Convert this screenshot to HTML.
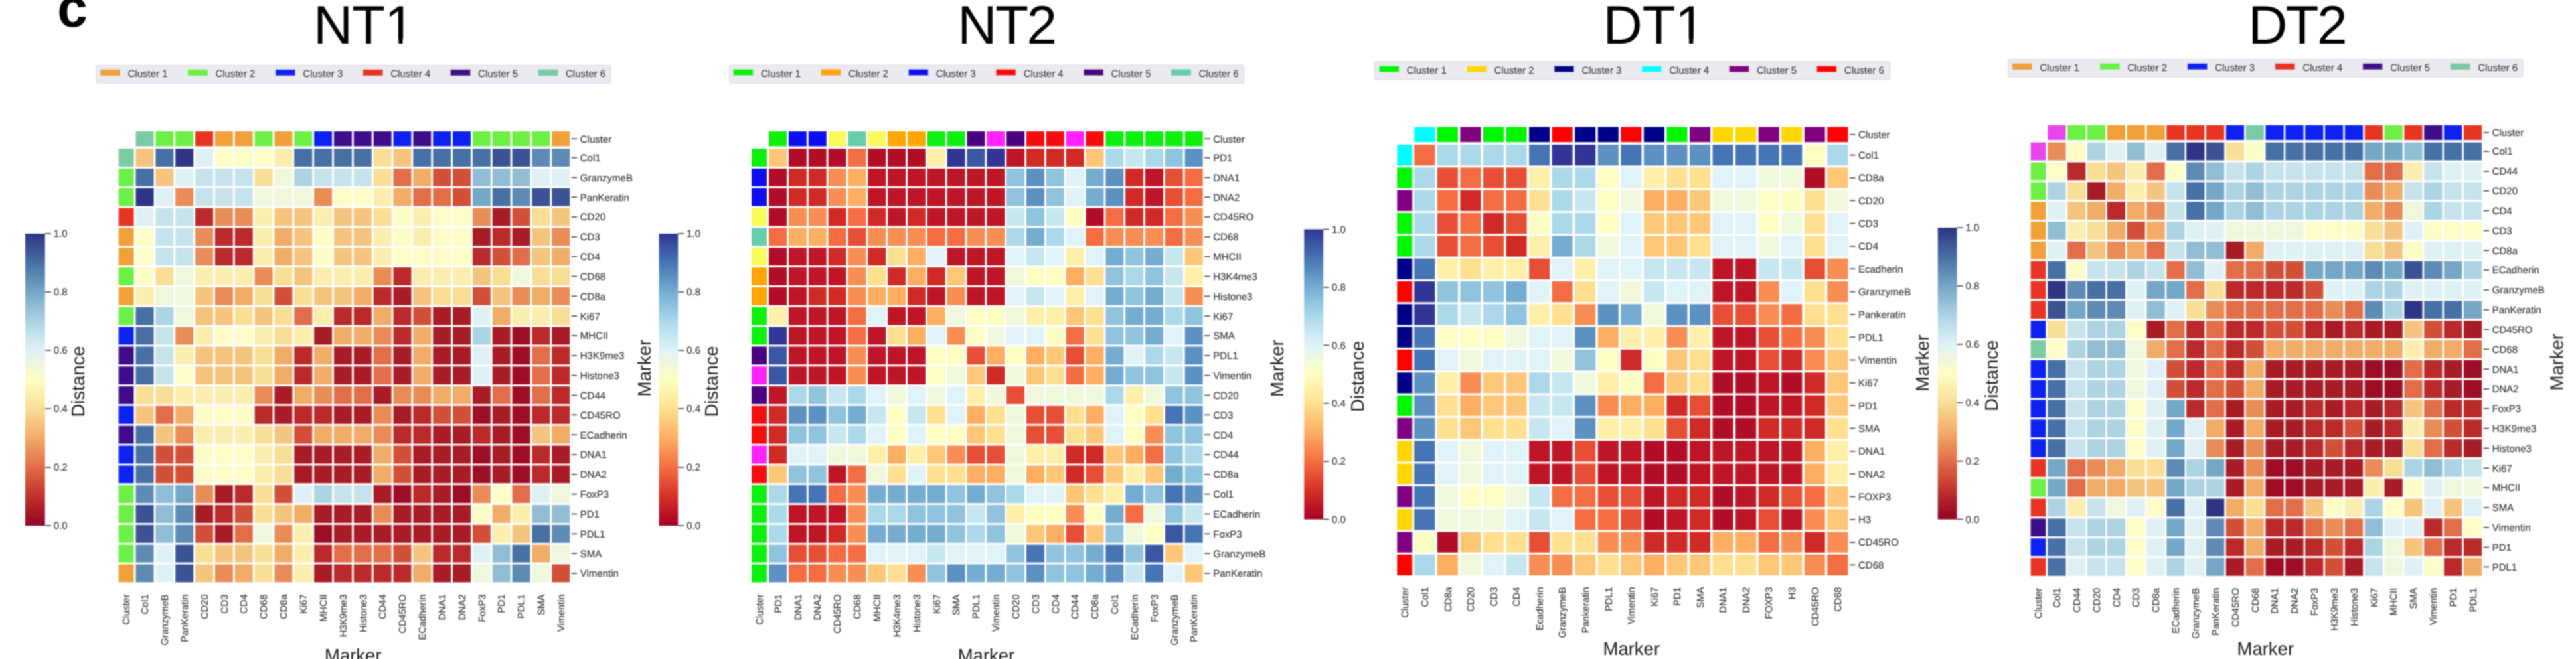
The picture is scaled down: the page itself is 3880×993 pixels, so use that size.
<!DOCTYPE html><html><head><meta charset="utf-8"><style>html,body{margin:0;padding:0;background:#fff;}svg{display:block;}text{text-rendering:geometricPrecision;}</style></head><body>
<svg width="3880" height="993" viewBox="0 0 3880 993" font-family="'Liberation Sans', Arial, Helvetica, sans-serif">
<defs><filter id="bl" x="0" y="0" width="3880" height="993" filterUnits="userSpaceOnUse"><feConvolveMatrix order="5" kernelMatrix="0.00087 0.00695 0.01388 0.00695 0.00087 0.00695 0.05540 0.11068 0.05540 0.00695 0.01388 0.11068 0.22111 0.11068 0.01388 0.00695 0.05540 0.11068 0.05540 0.00695 0.00087 0.00695 0.01388 0.00695 0.00087" divisor="1" edgeMode="duplicate"/></filter></defs>
<rect width="3880" height="993" fill="#fff"/>
<g filter="url(#bl)">
<text x="86.3" y="40.4" font-size="82" font-weight="bold" fill="#000">c</text>
<rect x="204.60" y="198.00" width="26.90" height="22.40" fill="#7ccaa4"/>
<rect x="234.44" y="198.00" width="26.90" height="22.40" fill="#6cf044"/>
<rect x="264.28" y="198.00" width="26.90" height="22.40" fill="#6cf044"/>
<rect x="294.12" y="198.00" width="26.90" height="22.40" fill="#e83424"/>
<rect x="323.96" y="198.00" width="26.90" height="22.40" fill="#f0a038"/>
<rect x="353.80" y="198.00" width="26.90" height="22.40" fill="#f0a038"/>
<rect x="383.64" y="198.00" width="26.90" height="22.40" fill="#6cf044"/>
<rect x="413.48" y="198.00" width="26.90" height="22.40" fill="#f0a038"/>
<rect x="443.32" y="198.00" width="26.90" height="22.40" fill="#6cf044"/>
<rect x="473.16" y="198.00" width="26.90" height="22.40" fill="#0a22f0"/>
<rect x="503.00" y="198.00" width="26.90" height="22.40" fill="#3e0e8a"/>
<rect x="532.84" y="198.00" width="26.90" height="22.40" fill="#3e0e8a"/>
<rect x="562.68" y="198.00" width="26.90" height="22.40" fill="#3e0e8a"/>
<rect x="592.52" y="198.00" width="26.90" height="22.40" fill="#0a22f0"/>
<rect x="622.36" y="198.00" width="26.90" height="22.40" fill="#3e0e8a"/>
<rect x="652.20" y="198.00" width="26.90" height="22.40" fill="#0a22f0"/>
<rect x="682.04" y="198.00" width="26.90" height="22.40" fill="#0a22f0"/>
<rect x="711.88" y="198.00" width="26.90" height="22.40" fill="#6cf044"/>
<rect x="741.72" y="198.00" width="26.90" height="22.40" fill="#6cf044"/>
<rect x="771.56" y="198.00" width="26.90" height="22.40" fill="#6cf044"/>
<rect x="801.40" y="198.00" width="26.90" height="22.40" fill="#6cf044"/>
<rect x="831.24" y="198.00" width="26.90" height="22.40" fill="#f0a038"/>
<rect x="178.50" y="224.10" width="23.00" height="26.90" fill="#7ccaa4"/>
<rect x="178.50" y="253.93" width="23.00" height="26.90" fill="#6cf044"/>
<rect x="178.50" y="283.76" width="23.00" height="26.90" fill="#6cf044"/>
<rect x="178.50" y="313.59" width="23.00" height="26.90" fill="#e83424"/>
<rect x="178.50" y="343.42" width="23.00" height="26.90" fill="#f0a038"/>
<rect x="178.50" y="373.25" width="23.00" height="26.90" fill="#f0a038"/>
<rect x="178.50" y="403.08" width="23.00" height="26.90" fill="#6cf044"/>
<rect x="178.50" y="432.91" width="23.00" height="26.90" fill="#f0a038"/>
<rect x="178.50" y="462.74" width="23.00" height="26.90" fill="#6cf044"/>
<rect x="178.50" y="492.57" width="23.00" height="26.90" fill="#0a22f0"/>
<rect x="178.50" y="522.40" width="23.00" height="26.90" fill="#3e0e8a"/>
<rect x="178.50" y="552.23" width="23.00" height="26.90" fill="#3e0e8a"/>
<rect x="178.50" y="582.06" width="23.00" height="26.90" fill="#3e0e8a"/>
<rect x="178.50" y="611.89" width="23.00" height="26.90" fill="#0a22f0"/>
<rect x="178.50" y="641.72" width="23.00" height="26.90" fill="#3e0e8a"/>
<rect x="178.50" y="671.55" width="23.00" height="26.90" fill="#0a22f0"/>
<rect x="178.50" y="701.38" width="23.00" height="26.90" fill="#0a22f0"/>
<rect x="178.50" y="731.21" width="23.00" height="26.90" fill="#6cf044"/>
<rect x="178.50" y="761.04" width="23.00" height="26.90" fill="#6cf044"/>
<rect x="178.50" y="790.87" width="23.00" height="26.90" fill="#6cf044"/>
<rect x="178.50" y="820.70" width="23.00" height="26.90" fill="#6cf044"/>
<rect x="178.50" y="850.53" width="23.00" height="26.90" fill="#f0a038"/>
<rect x="204.60" y="224.10" width="26.90" height="26.90" fill="#f5c57f"/>
<rect x="234.44" y="224.10" width="26.90" height="26.90" fill="#466fa5"/>
<rect x="264.28" y="224.10" width="26.90" height="26.90" fill="#2f3484"/>
<rect x="294.12" y="224.10" width="26.90" height="26.90" fill="#e0f1f6"/>
<rect x="323.96" y="224.10" width="26.90" height="26.90" fill="#fcfdc7"/>
<rect x="353.80" y="224.10" width="26.90" height="26.90" fill="#fcfdc7"/>
<rect x="383.64" y="224.10" width="26.90" height="26.90" fill="#fcfdc7"/>
<rect x="413.48" y="224.10" width="26.90" height="26.90" fill="#fbeeae"/>
<rect x="443.32" y="224.10" width="26.90" height="26.90" fill="#466fa5"/>
<rect x="473.16" y="224.10" width="26.90" height="26.90" fill="#466fa5"/>
<rect x="503.00" y="224.10" width="26.90" height="26.90" fill="#466fa5"/>
<rect x="532.84" y="224.10" width="26.90" height="26.90" fill="#466fa5"/>
<rect x="562.68" y="224.10" width="26.90" height="26.90" fill="#f9de96"/>
<rect x="592.52" y="224.10" width="26.90" height="26.90" fill="#f5c57f"/>
<rect x="622.36" y="224.10" width="26.90" height="26.90" fill="#466fa5"/>
<rect x="652.20" y="224.10" width="26.90" height="26.90" fill="#466fa5"/>
<rect x="682.04" y="224.10" width="26.90" height="26.90" fill="#466fa5"/>
<rect x="711.88" y="224.10" width="26.90" height="26.90" fill="#466fa5"/>
<rect x="741.72" y="224.10" width="26.90" height="26.90" fill="#3b5294"/>
<rect x="771.56" y="224.10" width="26.90" height="26.90" fill="#3b5294"/>
<rect x="801.40" y="224.10" width="26.90" height="26.90" fill="#5d8bb5"/>
<rect x="831.24" y="224.10" width="26.90" height="26.90" fill="#5d8bb5"/>
<rect x="204.60" y="253.93" width="26.90" height="26.90" fill="#466fa5"/>
<rect x="234.44" y="253.93" width="26.90" height="26.90" fill="#f5c57f"/>
<rect x="264.28" y="253.93" width="26.90" height="26.90" fill="#e0f1f6"/>
<rect x="294.12" y="253.93" width="26.90" height="26.90" fill="#c6e3ec"/>
<rect x="323.96" y="253.93" width="26.90" height="26.90" fill="#c6e3ec"/>
<rect x="353.80" y="253.93" width="26.90" height="26.90" fill="#c6e3ec"/>
<rect x="383.64" y="253.93" width="26.90" height="26.90" fill="#f9de96"/>
<rect x="413.48" y="253.93" width="26.90" height="26.90" fill="#eff7dd"/>
<rect x="443.32" y="253.93" width="26.90" height="26.90" fill="#acd4e3"/>
<rect x="473.16" y="253.93" width="26.90" height="26.90" fill="#c6e3ec"/>
<rect x="503.00" y="253.93" width="26.90" height="26.90" fill="#c6e3ec"/>
<rect x="532.84" y="253.93" width="26.90" height="26.90" fill="#c6e3ec"/>
<rect x="562.68" y="253.93" width="26.90" height="26.90" fill="#f9de96"/>
<rect x="592.52" y="253.93" width="26.90" height="26.90" fill="#e26d48"/>
<rect x="622.36" y="253.93" width="26.90" height="26.90" fill="#f1ac68"/>
<rect x="652.20" y="253.93" width="26.90" height="26.90" fill="#d25039"/>
<rect x="682.04" y="253.93" width="26.90" height="26.90" fill="#d25039"/>
<rect x="711.88" y="253.93" width="26.90" height="26.90" fill="#91bdd4"/>
<rect x="741.72" y="253.93" width="26.90" height="26.90" fill="#91bdd4"/>
<rect x="771.56" y="253.93" width="26.90" height="26.90" fill="#91bdd4"/>
<rect x="801.40" y="253.93" width="26.90" height="26.90" fill="#e0f1f6"/>
<rect x="831.24" y="253.93" width="26.90" height="26.90" fill="#e0f1f6"/>
<rect x="204.60" y="283.76" width="26.90" height="26.90" fill="#2f3484"/>
<rect x="234.44" y="283.76" width="26.90" height="26.90" fill="#e0f1f6"/>
<rect x="264.28" y="283.76" width="26.90" height="26.90" fill="#e98c58"/>
<rect x="294.12" y="283.76" width="26.90" height="26.90" fill="#c6e3ec"/>
<rect x="323.96" y="283.76" width="26.90" height="26.90" fill="#c6e3ec"/>
<rect x="353.80" y="283.76" width="26.90" height="26.90" fill="#c6e3ec"/>
<rect x="383.64" y="283.76" width="26.90" height="26.90" fill="#eff7dd"/>
<rect x="413.48" y="283.76" width="26.90" height="26.90" fill="#eff7dd"/>
<rect x="443.32" y="283.76" width="26.90" height="26.90" fill="#eff7dd"/>
<rect x="473.16" y="283.76" width="26.90" height="26.90" fill="#e98c58"/>
<rect x="503.00" y="283.76" width="26.90" height="26.90" fill="#fcfdc7"/>
<rect x="532.84" y="283.76" width="26.90" height="26.90" fill="#fcfdc7"/>
<rect x="562.68" y="283.76" width="26.90" height="26.90" fill="#fbeeae"/>
<rect x="592.52" y="283.76" width="26.90" height="26.90" fill="#f1ac68"/>
<rect x="622.36" y="283.76" width="26.90" height="26.90" fill="#e26d48"/>
<rect x="652.20" y="283.76" width="26.90" height="26.90" fill="#e26d48"/>
<rect x="682.04" y="283.76" width="26.90" height="26.90" fill="#d25039"/>
<rect x="711.88" y="283.76" width="26.90" height="26.90" fill="#75a7c6"/>
<rect x="741.72" y="283.76" width="26.90" height="26.90" fill="#466fa5"/>
<rect x="771.56" y="283.76" width="26.90" height="26.90" fill="#5d8bb5"/>
<rect x="801.40" y="283.76" width="26.90" height="26.90" fill="#3b5294"/>
<rect x="831.24" y="283.76" width="26.90" height="26.90" fill="#3b5294"/>
<rect x="204.60" y="313.59" width="26.90" height="26.90" fill="#e0f1f6"/>
<rect x="234.44" y="313.59" width="26.90" height="26.90" fill="#c6e3ec"/>
<rect x="264.28" y="313.59" width="26.90" height="26.90" fill="#c6e3ec"/>
<rect x="294.12" y="313.59" width="26.90" height="26.90" fill="#ba2c2a"/>
<rect x="323.96" y="313.59" width="26.90" height="26.90" fill="#e98c58"/>
<rect x="353.80" y="313.59" width="26.90" height="26.90" fill="#e98c58"/>
<rect x="383.64" y="313.59" width="26.90" height="26.90" fill="#fbeeae"/>
<rect x="413.48" y="313.59" width="26.90" height="26.90" fill="#f5c57f"/>
<rect x="443.32" y="313.59" width="26.90" height="26.90" fill="#f5c57f"/>
<rect x="473.16" y="313.59" width="26.90" height="26.90" fill="#fbeeae"/>
<rect x="503.00" y="313.59" width="26.90" height="26.90" fill="#f5c57f"/>
<rect x="532.84" y="313.59" width="26.90" height="26.90" fill="#f5c57f"/>
<rect x="562.68" y="313.59" width="26.90" height="26.90" fill="#f9de96"/>
<rect x="592.52" y="313.59" width="26.90" height="26.90" fill="#fcfdc7"/>
<rect x="622.36" y="313.59" width="26.90" height="26.90" fill="#fbeeae"/>
<rect x="652.20" y="313.59" width="26.90" height="26.90" fill="#fcfdc7"/>
<rect x="682.04" y="313.59" width="26.90" height="26.90" fill="#fcfdc7"/>
<rect x="711.88" y="313.59" width="26.90" height="26.90" fill="#e98c58"/>
<rect x="741.72" y="313.59" width="26.90" height="26.90" fill="#a81b27"/>
<rect x="771.56" y="313.59" width="26.90" height="26.90" fill="#d25039"/>
<rect x="801.40" y="313.59" width="26.90" height="26.90" fill="#f9de96"/>
<rect x="831.24" y="313.59" width="26.90" height="26.90" fill="#f5c57f"/>
<rect x="204.60" y="343.42" width="26.90" height="26.90" fill="#fcfdc7"/>
<rect x="234.44" y="343.42" width="26.90" height="26.90" fill="#c6e3ec"/>
<rect x="264.28" y="343.42" width="26.90" height="26.90" fill="#c6e3ec"/>
<rect x="294.12" y="343.42" width="26.90" height="26.90" fill="#e98c58"/>
<rect x="323.96" y="343.42" width="26.90" height="26.90" fill="#ba2c2a"/>
<rect x="353.80" y="343.42" width="26.90" height="26.90" fill="#ba2c2a"/>
<rect x="383.64" y="343.42" width="26.90" height="26.90" fill="#fbeeae"/>
<rect x="413.48" y="343.42" width="26.90" height="26.90" fill="#f1ac68"/>
<rect x="443.32" y="343.42" width="26.90" height="26.90" fill="#f5c57f"/>
<rect x="473.16" y="343.42" width="26.90" height="26.90" fill="#fcfdc7"/>
<rect x="503.00" y="343.42" width="26.90" height="26.90" fill="#f5c57f"/>
<rect x="532.84" y="343.42" width="26.90" height="26.90" fill="#f5c57f"/>
<rect x="562.68" y="343.42" width="26.90" height="26.90" fill="#fbeeae"/>
<rect x="592.52" y="343.42" width="26.90" height="26.90" fill="#fcfdc7"/>
<rect x="622.36" y="343.42" width="26.90" height="26.90" fill="#fbeeae"/>
<rect x="652.20" y="343.42" width="26.90" height="26.90" fill="#fcfdc7"/>
<rect x="682.04" y="343.42" width="26.90" height="26.90" fill="#fcfdc7"/>
<rect x="711.88" y="343.42" width="26.90" height="26.90" fill="#a81b27"/>
<rect x="741.72" y="343.42" width="26.90" height="26.90" fill="#ba2c2a"/>
<rect x="771.56" y="343.42" width="26.90" height="26.90" fill="#a81b27"/>
<rect x="801.40" y="343.42" width="26.90" height="26.90" fill="#f5c57f"/>
<rect x="831.24" y="343.42" width="26.90" height="26.90" fill="#e98c58"/>
<rect x="204.60" y="373.25" width="26.90" height="26.90" fill="#fcfdc7"/>
<rect x="234.44" y="373.25" width="26.90" height="26.90" fill="#c6e3ec"/>
<rect x="264.28" y="373.25" width="26.90" height="26.90" fill="#c6e3ec"/>
<rect x="294.12" y="373.25" width="26.90" height="26.90" fill="#e98c58"/>
<rect x="323.96" y="373.25" width="26.90" height="26.90" fill="#ba2c2a"/>
<rect x="353.80" y="373.25" width="26.90" height="26.90" fill="#ba2c2a"/>
<rect x="383.64" y="373.25" width="26.90" height="26.90" fill="#fbeeae"/>
<rect x="413.48" y="373.25" width="26.90" height="26.90" fill="#f1ac68"/>
<rect x="443.32" y="373.25" width="26.90" height="26.90" fill="#f5c57f"/>
<rect x="473.16" y="373.25" width="26.90" height="26.90" fill="#fcfdc7"/>
<rect x="503.00" y="373.25" width="26.90" height="26.90" fill="#f5c57f"/>
<rect x="532.84" y="373.25" width="26.90" height="26.90" fill="#f5c57f"/>
<rect x="562.68" y="373.25" width="26.90" height="26.90" fill="#fbeeae"/>
<rect x="592.52" y="373.25" width="26.90" height="26.90" fill="#fcfdc7"/>
<rect x="622.36" y="373.25" width="26.90" height="26.90" fill="#fcfdc7"/>
<rect x="652.20" y="373.25" width="26.90" height="26.90" fill="#fcfdc7"/>
<rect x="682.04" y="373.25" width="26.90" height="26.90" fill="#fcfdc7"/>
<rect x="711.88" y="373.25" width="26.90" height="26.90" fill="#ba2c2a"/>
<rect x="741.72" y="373.25" width="26.90" height="26.90" fill="#d25039"/>
<rect x="771.56" y="373.25" width="26.90" height="26.90" fill="#e26d48"/>
<rect x="801.40" y="373.25" width="26.90" height="26.90" fill="#f5c57f"/>
<rect x="831.24" y="373.25" width="26.90" height="26.90" fill="#f1ac68"/>
<rect x="204.60" y="403.08" width="26.90" height="26.90" fill="#fcfdc7"/>
<rect x="234.44" y="403.08" width="26.90" height="26.90" fill="#f9de96"/>
<rect x="264.28" y="403.08" width="26.90" height="26.90" fill="#eff7dd"/>
<rect x="294.12" y="403.08" width="26.90" height="26.90" fill="#fbeeae"/>
<rect x="323.96" y="403.08" width="26.90" height="26.90" fill="#fbeeae"/>
<rect x="353.80" y="403.08" width="26.90" height="26.90" fill="#fbeeae"/>
<rect x="383.64" y="403.08" width="26.90" height="26.90" fill="#e98c58"/>
<rect x="413.48" y="403.08" width="26.90" height="26.90" fill="#f9de96"/>
<rect x="443.32" y="403.08" width="26.90" height="26.90" fill="#f5c57f"/>
<rect x="473.16" y="403.08" width="26.90" height="26.90" fill="#fbeeae"/>
<rect x="503.00" y="403.08" width="26.90" height="26.90" fill="#fbeeae"/>
<rect x="532.84" y="403.08" width="26.90" height="26.90" fill="#fbeeae"/>
<rect x="562.68" y="403.08" width="26.90" height="26.90" fill="#e98c58"/>
<rect x="592.52" y="403.08" width="26.90" height="26.90" fill="#ba2c2a"/>
<rect x="622.36" y="403.08" width="26.90" height="26.90" fill="#fbeeae"/>
<rect x="652.20" y="403.08" width="26.90" height="26.90" fill="#fbeeae"/>
<rect x="682.04" y="403.08" width="26.90" height="26.90" fill="#fbeeae"/>
<rect x="711.88" y="403.08" width="26.90" height="26.90" fill="#f5c57f"/>
<rect x="741.72" y="403.08" width="26.90" height="26.90" fill="#f9de96"/>
<rect x="771.56" y="403.08" width="26.90" height="26.90" fill="#eff7dd"/>
<rect x="801.40" y="403.08" width="26.90" height="26.90" fill="#f9de96"/>
<rect x="831.24" y="403.08" width="26.90" height="26.90" fill="#f9de96"/>
<rect x="204.60" y="432.91" width="26.90" height="26.90" fill="#fbeeae"/>
<rect x="234.44" y="432.91" width="26.90" height="26.90" fill="#eff7dd"/>
<rect x="264.28" y="432.91" width="26.90" height="26.90" fill="#eff7dd"/>
<rect x="294.12" y="432.91" width="26.90" height="26.90" fill="#f5c57f"/>
<rect x="323.96" y="432.91" width="26.90" height="26.90" fill="#e98c58"/>
<rect x="353.80" y="432.91" width="26.90" height="26.90" fill="#f1ac68"/>
<rect x="383.64" y="432.91" width="26.90" height="26.90" fill="#f9de96"/>
<rect x="413.48" y="432.91" width="26.90" height="26.90" fill="#d25039"/>
<rect x="443.32" y="432.91" width="26.90" height="26.90" fill="#f9de96"/>
<rect x="473.16" y="432.91" width="26.90" height="26.90" fill="#f5c57f"/>
<rect x="503.00" y="432.91" width="26.90" height="26.90" fill="#f5c57f"/>
<rect x="532.84" y="432.91" width="26.90" height="26.90" fill="#f1ac68"/>
<rect x="562.68" y="432.91" width="26.90" height="26.90" fill="#ba2c2a"/>
<rect x="592.52" y="432.91" width="26.90" height="26.90" fill="#a81b27"/>
<rect x="622.36" y="432.91" width="26.90" height="26.90" fill="#f5c57f"/>
<rect x="652.20" y="432.91" width="26.90" height="26.90" fill="#f9de96"/>
<rect x="682.04" y="432.91" width="26.90" height="26.90" fill="#f9de96"/>
<rect x="711.88" y="432.91" width="26.90" height="26.90" fill="#d25039"/>
<rect x="741.72" y="432.91" width="26.90" height="26.90" fill="#f5c57f"/>
<rect x="771.56" y="432.91" width="26.90" height="26.90" fill="#e98c58"/>
<rect x="801.40" y="432.91" width="26.90" height="26.90" fill="#f1ac68"/>
<rect x="831.24" y="432.91" width="26.90" height="26.90" fill="#e98c58"/>
<rect x="204.60" y="462.74" width="26.90" height="26.90" fill="#466fa5"/>
<rect x="234.44" y="462.74" width="26.90" height="26.90" fill="#acd4e3"/>
<rect x="264.28" y="462.74" width="26.90" height="26.90" fill="#eff7dd"/>
<rect x="294.12" y="462.74" width="26.90" height="26.90" fill="#f5c57f"/>
<rect x="323.96" y="462.74" width="26.90" height="26.90" fill="#f5c57f"/>
<rect x="353.80" y="462.74" width="26.90" height="26.90" fill="#f9de96"/>
<rect x="383.64" y="462.74" width="26.90" height="26.90" fill="#f5c57f"/>
<rect x="413.48" y="462.74" width="26.90" height="26.90" fill="#f9de96"/>
<rect x="443.32" y="462.74" width="26.90" height="26.90" fill="#e26d48"/>
<rect x="473.16" y="462.74" width="26.90" height="26.90" fill="#fbeeae"/>
<rect x="503.00" y="462.74" width="26.90" height="26.90" fill="#ba2c2a"/>
<rect x="532.84" y="462.74" width="26.90" height="26.90" fill="#ba2c2a"/>
<rect x="562.68" y="462.74" width="26.90" height="26.90" fill="#f1ac68"/>
<rect x="592.52" y="462.74" width="26.90" height="26.90" fill="#ba2c2a"/>
<rect x="622.36" y="462.74" width="26.90" height="26.90" fill="#d25039"/>
<rect x="652.20" y="462.74" width="26.90" height="26.90" fill="#a81b27"/>
<rect x="682.04" y="462.74" width="26.90" height="26.90" fill="#a81b27"/>
<rect x="711.88" y="462.74" width="26.90" height="26.90" fill="#e0f1f6"/>
<rect x="741.72" y="462.74" width="26.90" height="26.90" fill="#f1ac68"/>
<rect x="771.56" y="462.74" width="26.90" height="26.90" fill="#fbeeae"/>
<rect x="801.40" y="462.74" width="26.90" height="26.90" fill="#fbeeae"/>
<rect x="831.24" y="462.74" width="26.90" height="26.90" fill="#f9de96"/>
<rect x="204.60" y="492.57" width="26.90" height="26.90" fill="#466fa5"/>
<rect x="234.44" y="492.57" width="26.90" height="26.90" fill="#c6e3ec"/>
<rect x="264.28" y="492.57" width="26.90" height="26.90" fill="#e98c58"/>
<rect x="294.12" y="492.57" width="26.90" height="26.90" fill="#fbeeae"/>
<rect x="323.96" y="492.57" width="26.90" height="26.90" fill="#fcfdc7"/>
<rect x="353.80" y="492.57" width="26.90" height="26.90" fill="#fcfdc7"/>
<rect x="383.64" y="492.57" width="26.90" height="26.90" fill="#fbeeae"/>
<rect x="413.48" y="492.57" width="26.90" height="26.90" fill="#f9de96"/>
<rect x="443.32" y="492.57" width="26.90" height="26.90" fill="#fbeeae"/>
<rect x="473.16" y="492.57" width="26.90" height="26.90" fill="#a81b27"/>
<rect x="503.00" y="492.57" width="26.90" height="26.90" fill="#f1ac68"/>
<rect x="532.84" y="492.57" width="26.90" height="26.90" fill="#f1ac68"/>
<rect x="562.68" y="492.57" width="26.90" height="26.90" fill="#e98c58"/>
<rect x="592.52" y="492.57" width="26.90" height="26.90" fill="#ba2c2a"/>
<rect x="622.36" y="492.57" width="26.90" height="26.90" fill="#f1ac68"/>
<rect x="652.20" y="492.57" width="26.90" height="26.90" fill="#a81b27"/>
<rect x="682.04" y="492.57" width="26.90" height="26.90" fill="#a81b27"/>
<rect x="711.88" y="492.57" width="26.90" height="26.90" fill="#acd4e3"/>
<rect x="741.72" y="492.57" width="26.90" height="26.90" fill="#a81b27"/>
<rect x="771.56" y="492.57" width="26.90" height="26.90" fill="#9d1026"/>
<rect x="801.40" y="492.57" width="26.90" height="26.90" fill="#ba2c2a"/>
<rect x="831.24" y="492.57" width="26.90" height="26.90" fill="#a81b27"/>
<rect x="204.60" y="522.40" width="26.90" height="26.90" fill="#466fa5"/>
<rect x="234.44" y="522.40" width="26.90" height="26.90" fill="#c6e3ec"/>
<rect x="264.28" y="522.40" width="26.90" height="26.90" fill="#fbeeae"/>
<rect x="294.12" y="522.40" width="26.90" height="26.90" fill="#f5c57f"/>
<rect x="323.96" y="522.40" width="26.90" height="26.90" fill="#f5c57f"/>
<rect x="353.80" y="522.40" width="26.90" height="26.90" fill="#f5c57f"/>
<rect x="383.64" y="522.40" width="26.90" height="26.90" fill="#f9de96"/>
<rect x="413.48" y="522.40" width="26.90" height="26.90" fill="#f1ac68"/>
<rect x="443.32" y="522.40" width="26.90" height="26.90" fill="#ba2c2a"/>
<rect x="473.16" y="522.40" width="26.90" height="26.90" fill="#f1ac68"/>
<rect x="503.00" y="522.40" width="26.90" height="26.90" fill="#a81b27"/>
<rect x="532.84" y="522.40" width="26.90" height="26.90" fill="#a81b27"/>
<rect x="562.68" y="522.40" width="26.90" height="26.90" fill="#e26d48"/>
<rect x="592.52" y="522.40" width="26.90" height="26.90" fill="#a81b27"/>
<rect x="622.36" y="522.40" width="26.90" height="26.90" fill="#f1ac68"/>
<rect x="652.20" y="522.40" width="26.90" height="26.90" fill="#a81b27"/>
<rect x="682.04" y="522.40" width="26.90" height="26.90" fill="#a81b27"/>
<rect x="711.88" y="522.40" width="26.90" height="26.90" fill="#e0f1f6"/>
<rect x="741.72" y="522.40" width="26.90" height="26.90" fill="#a81b27"/>
<rect x="771.56" y="522.40" width="26.90" height="26.90" fill="#9d1026"/>
<rect x="801.40" y="522.40" width="26.90" height="26.90" fill="#e26d48"/>
<rect x="831.24" y="522.40" width="26.90" height="26.90" fill="#ba2c2a"/>
<rect x="204.60" y="552.23" width="26.90" height="26.90" fill="#466fa5"/>
<rect x="234.44" y="552.23" width="26.90" height="26.90" fill="#c6e3ec"/>
<rect x="264.28" y="552.23" width="26.90" height="26.90" fill="#fcfdc7"/>
<rect x="294.12" y="552.23" width="26.90" height="26.90" fill="#f5c57f"/>
<rect x="323.96" y="552.23" width="26.90" height="26.90" fill="#f5c57f"/>
<rect x="353.80" y="552.23" width="26.90" height="26.90" fill="#f5c57f"/>
<rect x="383.64" y="552.23" width="26.90" height="26.90" fill="#f9de96"/>
<rect x="413.48" y="552.23" width="26.90" height="26.90" fill="#f1ac68"/>
<rect x="443.32" y="552.23" width="26.90" height="26.90" fill="#ba2c2a"/>
<rect x="473.16" y="552.23" width="26.90" height="26.90" fill="#f1ac68"/>
<rect x="503.00" y="552.23" width="26.90" height="26.90" fill="#a81b27"/>
<rect x="532.84" y="552.23" width="26.90" height="26.90" fill="#a81b27"/>
<rect x="562.68" y="552.23" width="26.90" height="26.90" fill="#e26d48"/>
<rect x="592.52" y="552.23" width="26.90" height="26.90" fill="#a81b27"/>
<rect x="622.36" y="552.23" width="26.90" height="26.90" fill="#f1ac68"/>
<rect x="652.20" y="552.23" width="26.90" height="26.90" fill="#a81b27"/>
<rect x="682.04" y="552.23" width="26.90" height="26.90" fill="#a81b27"/>
<rect x="711.88" y="552.23" width="26.90" height="26.90" fill="#e0f1f6"/>
<rect x="741.72" y="552.23" width="26.90" height="26.90" fill="#a81b27"/>
<rect x="771.56" y="552.23" width="26.90" height="26.90" fill="#9d1026"/>
<rect x="801.40" y="552.23" width="26.90" height="26.90" fill="#e26d48"/>
<rect x="831.24" y="552.23" width="26.90" height="26.90" fill="#ba2c2a"/>
<rect x="204.60" y="582.06" width="26.90" height="26.90" fill="#f9de96"/>
<rect x="234.44" y="582.06" width="26.90" height="26.90" fill="#f9de96"/>
<rect x="264.28" y="582.06" width="26.90" height="26.90" fill="#fbeeae"/>
<rect x="294.12" y="582.06" width="26.90" height="26.90" fill="#fbeeae"/>
<rect x="323.96" y="582.06" width="26.90" height="26.90" fill="#fbeeae"/>
<rect x="353.80" y="582.06" width="26.90" height="26.90" fill="#fbeeae"/>
<rect x="383.64" y="582.06" width="26.90" height="26.90" fill="#e98c58"/>
<rect x="413.48" y="582.06" width="26.90" height="26.90" fill="#a81b27"/>
<rect x="443.32" y="582.06" width="26.90" height="26.90" fill="#f1ac68"/>
<rect x="473.16" y="582.06" width="26.90" height="26.90" fill="#e98c58"/>
<rect x="503.00" y="582.06" width="26.90" height="26.90" fill="#e26d48"/>
<rect x="532.84" y="582.06" width="26.90" height="26.90" fill="#e26d48"/>
<rect x="562.68" y="582.06" width="26.90" height="26.90" fill="#a81b27"/>
<rect x="592.52" y="582.06" width="26.90" height="26.90" fill="#e98c58"/>
<rect x="622.36" y="582.06" width="26.90" height="26.90" fill="#e98c58"/>
<rect x="652.20" y="582.06" width="26.90" height="26.90" fill="#f1ac68"/>
<rect x="682.04" y="582.06" width="26.90" height="26.90" fill="#f1ac68"/>
<rect x="711.88" y="582.06" width="26.90" height="26.90" fill="#a81b27"/>
<rect x="741.72" y="582.06" width="26.90" height="26.90" fill="#e26d48"/>
<rect x="771.56" y="582.06" width="26.90" height="26.90" fill="#9d1026"/>
<rect x="801.40" y="582.06" width="26.90" height="26.90" fill="#e26d48"/>
<rect x="831.24" y="582.06" width="26.90" height="26.90" fill="#ba2c2a"/>
<rect x="204.60" y="611.89" width="26.90" height="26.90" fill="#f5c57f"/>
<rect x="234.44" y="611.89" width="26.90" height="26.90" fill="#e26d48"/>
<rect x="264.28" y="611.89" width="26.90" height="26.90" fill="#f1ac68"/>
<rect x="294.12" y="611.89" width="26.90" height="26.90" fill="#fcfdc7"/>
<rect x="323.96" y="611.89" width="26.90" height="26.90" fill="#fcfdc7"/>
<rect x="353.80" y="611.89" width="26.90" height="26.90" fill="#fcfdc7"/>
<rect x="383.64" y="611.89" width="26.90" height="26.90" fill="#ba2c2a"/>
<rect x="413.48" y="611.89" width="26.90" height="26.90" fill="#a81b27"/>
<rect x="443.32" y="611.89" width="26.90" height="26.90" fill="#ba2c2a"/>
<rect x="473.16" y="611.89" width="26.90" height="26.90" fill="#ba2c2a"/>
<rect x="503.00" y="611.89" width="26.90" height="26.90" fill="#a81b27"/>
<rect x="532.84" y="611.89" width="26.90" height="26.90" fill="#a81b27"/>
<rect x="562.68" y="611.89" width="26.90" height="26.90" fill="#e98c58"/>
<rect x="592.52" y="611.89" width="26.90" height="26.90" fill="#a81b27"/>
<rect x="622.36" y="611.89" width="26.90" height="26.90" fill="#ba2c2a"/>
<rect x="652.20" y="611.89" width="26.90" height="26.90" fill="#d25039"/>
<rect x="682.04" y="611.89" width="26.90" height="26.90" fill="#d25039"/>
<rect x="711.88" y="611.89" width="26.90" height="26.90" fill="#9d1026"/>
<rect x="741.72" y="611.89" width="26.90" height="26.90" fill="#a81b27"/>
<rect x="771.56" y="611.89" width="26.90" height="26.90" fill="#9d1026"/>
<rect x="801.40" y="611.89" width="26.90" height="26.90" fill="#ba2c2a"/>
<rect x="831.24" y="611.89" width="26.90" height="26.90" fill="#ba2c2a"/>
<rect x="204.60" y="641.72" width="26.90" height="26.90" fill="#466fa5"/>
<rect x="234.44" y="641.72" width="26.90" height="26.90" fill="#f5c57f"/>
<rect x="264.28" y="641.72" width="26.90" height="26.90" fill="#e98c58"/>
<rect x="294.12" y="641.72" width="26.90" height="26.90" fill="#fbeeae"/>
<rect x="323.96" y="641.72" width="26.90" height="26.90" fill="#fbeeae"/>
<rect x="353.80" y="641.72" width="26.90" height="26.90" fill="#fbeeae"/>
<rect x="383.64" y="641.72" width="26.90" height="26.90" fill="#f9de96"/>
<rect x="413.48" y="641.72" width="26.90" height="26.90" fill="#f5c57f"/>
<rect x="443.32" y="641.72" width="26.90" height="26.90" fill="#d25039"/>
<rect x="473.16" y="641.72" width="26.90" height="26.90" fill="#f1ac68"/>
<rect x="503.00" y="641.72" width="26.90" height="26.90" fill="#f1ac68"/>
<rect x="532.84" y="641.72" width="26.90" height="26.90" fill="#f1ac68"/>
<rect x="562.68" y="641.72" width="26.90" height="26.90" fill="#e98c58"/>
<rect x="592.52" y="641.72" width="26.90" height="26.90" fill="#ba2c2a"/>
<rect x="622.36" y="641.72" width="26.90" height="26.90" fill="#ba2c2a"/>
<rect x="652.20" y="641.72" width="26.90" height="26.90" fill="#a81b27"/>
<rect x="682.04" y="641.72" width="26.90" height="26.90" fill="#a81b27"/>
<rect x="711.88" y="641.72" width="26.90" height="26.90" fill="#ba2c2a"/>
<rect x="741.72" y="641.72" width="26.90" height="26.90" fill="#a81b27"/>
<rect x="771.56" y="641.72" width="26.90" height="26.90" fill="#9d1026"/>
<rect x="801.40" y="641.72" width="26.90" height="26.90" fill="#f5c57f"/>
<rect x="831.24" y="641.72" width="26.90" height="26.90" fill="#f1ac68"/>
<rect x="204.60" y="671.55" width="26.90" height="26.90" fill="#466fa5"/>
<rect x="234.44" y="671.55" width="26.90" height="26.90" fill="#d25039"/>
<rect x="264.28" y="671.55" width="26.90" height="26.90" fill="#d25039"/>
<rect x="294.12" y="671.55" width="26.90" height="26.90" fill="#fcfdc7"/>
<rect x="323.96" y="671.55" width="26.90" height="26.90" fill="#fcfdc7"/>
<rect x="353.80" y="671.55" width="26.90" height="26.90" fill="#fcfdc7"/>
<rect x="383.64" y="671.55" width="26.90" height="26.90" fill="#fbeeae"/>
<rect x="413.48" y="671.55" width="26.90" height="26.90" fill="#f9de96"/>
<rect x="443.32" y="671.55" width="26.90" height="26.90" fill="#a81b27"/>
<rect x="473.16" y="671.55" width="26.90" height="26.90" fill="#a81b27"/>
<rect x="503.00" y="671.55" width="26.90" height="26.90" fill="#a81b27"/>
<rect x="532.84" y="671.55" width="26.90" height="26.90" fill="#a81b27"/>
<rect x="562.68" y="671.55" width="26.90" height="26.90" fill="#f1ac68"/>
<rect x="592.52" y="671.55" width="26.90" height="26.90" fill="#d25039"/>
<rect x="622.36" y="671.55" width="26.90" height="26.90" fill="#a81b27"/>
<rect x="652.20" y="671.55" width="26.90" height="26.90" fill="#a81b27"/>
<rect x="682.04" y="671.55" width="26.90" height="26.90" fill="#a81b27"/>
<rect x="711.88" y="671.55" width="26.90" height="26.90" fill="#9d1026"/>
<rect x="741.72" y="671.55" width="26.90" height="26.90" fill="#a81b27"/>
<rect x="771.56" y="671.55" width="26.90" height="26.90" fill="#9d1026"/>
<rect x="801.40" y="671.55" width="26.90" height="26.90" fill="#ba2c2a"/>
<rect x="831.24" y="671.55" width="26.90" height="26.90" fill="#a81b27"/>
<rect x="204.60" y="701.38" width="26.90" height="26.90" fill="#466fa5"/>
<rect x="234.44" y="701.38" width="26.90" height="26.90" fill="#d25039"/>
<rect x="264.28" y="701.38" width="26.90" height="26.90" fill="#d25039"/>
<rect x="294.12" y="701.38" width="26.90" height="26.90" fill="#fcfdc7"/>
<rect x="323.96" y="701.38" width="26.90" height="26.90" fill="#fcfdc7"/>
<rect x="353.80" y="701.38" width="26.90" height="26.90" fill="#fcfdc7"/>
<rect x="383.64" y="701.38" width="26.90" height="26.90" fill="#fbeeae"/>
<rect x="413.48" y="701.38" width="26.90" height="26.90" fill="#f9de96"/>
<rect x="443.32" y="701.38" width="26.90" height="26.90" fill="#a81b27"/>
<rect x="473.16" y="701.38" width="26.90" height="26.90" fill="#a81b27"/>
<rect x="503.00" y="701.38" width="26.90" height="26.90" fill="#a81b27"/>
<rect x="532.84" y="701.38" width="26.90" height="26.90" fill="#a81b27"/>
<rect x="562.68" y="701.38" width="26.90" height="26.90" fill="#f1ac68"/>
<rect x="592.52" y="701.38" width="26.90" height="26.90" fill="#d25039"/>
<rect x="622.36" y="701.38" width="26.90" height="26.90" fill="#a81b27"/>
<rect x="652.20" y="701.38" width="26.90" height="26.90" fill="#a81b27"/>
<rect x="682.04" y="701.38" width="26.90" height="26.90" fill="#a81b27"/>
<rect x="711.88" y="701.38" width="26.90" height="26.90" fill="#9d1026"/>
<rect x="741.72" y="701.38" width="26.90" height="26.90" fill="#a81b27"/>
<rect x="771.56" y="701.38" width="26.90" height="26.90" fill="#9d1026"/>
<rect x="801.40" y="701.38" width="26.90" height="26.90" fill="#ba2c2a"/>
<rect x="831.24" y="701.38" width="26.90" height="26.90" fill="#a81b27"/>
<rect x="204.60" y="731.21" width="26.90" height="26.90" fill="#5d8bb5"/>
<rect x="234.44" y="731.21" width="26.90" height="26.90" fill="#91bdd4"/>
<rect x="264.28" y="731.21" width="26.90" height="26.90" fill="#75a7c6"/>
<rect x="294.12" y="731.21" width="26.90" height="26.90" fill="#e98c58"/>
<rect x="323.96" y="731.21" width="26.90" height="26.90" fill="#a81b27"/>
<rect x="353.80" y="731.21" width="26.90" height="26.90" fill="#ba2c2a"/>
<rect x="383.64" y="731.21" width="26.90" height="26.90" fill="#f9de96"/>
<rect x="413.48" y="731.21" width="26.90" height="26.90" fill="#d25039"/>
<rect x="443.32" y="731.21" width="26.90" height="26.90" fill="#e0f1f6"/>
<rect x="473.16" y="731.21" width="26.90" height="26.90" fill="#acd4e3"/>
<rect x="503.00" y="731.21" width="26.90" height="26.90" fill="#c6e3ec"/>
<rect x="532.84" y="731.21" width="26.90" height="26.90" fill="#c6e3ec"/>
<rect x="562.68" y="731.21" width="26.90" height="26.90" fill="#a81b27"/>
<rect x="592.52" y="731.21" width="26.90" height="26.90" fill="#9d1026"/>
<rect x="622.36" y="731.21" width="26.90" height="26.90" fill="#ba2c2a"/>
<rect x="652.20" y="731.21" width="26.90" height="26.90" fill="#a81b27"/>
<rect x="682.04" y="731.21" width="26.90" height="26.90" fill="#9d1026"/>
<rect x="711.88" y="731.21" width="26.90" height="26.90" fill="#e98c58"/>
<rect x="741.72" y="731.21" width="26.90" height="26.90" fill="#fcfdc7"/>
<rect x="771.56" y="731.21" width="26.90" height="26.90" fill="#e26d48"/>
<rect x="801.40" y="731.21" width="26.90" height="26.90" fill="#e0f1f6"/>
<rect x="831.24" y="731.21" width="26.90" height="26.90" fill="#eff7dd"/>
<rect x="204.60" y="761.04" width="26.90" height="26.90" fill="#3b5294"/>
<rect x="234.44" y="761.04" width="26.90" height="26.90" fill="#91bdd4"/>
<rect x="264.28" y="761.04" width="26.90" height="26.90" fill="#5d8bb5"/>
<rect x="294.12" y="761.04" width="26.90" height="26.90" fill="#a81b27"/>
<rect x="323.96" y="761.04" width="26.90" height="26.90" fill="#ba2c2a"/>
<rect x="353.80" y="761.04" width="26.90" height="26.90" fill="#d25039"/>
<rect x="383.64" y="761.04" width="26.90" height="26.90" fill="#f9de96"/>
<rect x="413.48" y="761.04" width="26.90" height="26.90" fill="#f5c57f"/>
<rect x="443.32" y="761.04" width="26.90" height="26.90" fill="#f1ac68"/>
<rect x="473.16" y="761.04" width="26.90" height="26.90" fill="#a81b27"/>
<rect x="503.00" y="761.04" width="26.90" height="26.90" fill="#a81b27"/>
<rect x="532.84" y="761.04" width="26.90" height="26.90" fill="#a81b27"/>
<rect x="562.68" y="761.04" width="26.90" height="26.90" fill="#e98c58"/>
<rect x="592.52" y="761.04" width="26.90" height="26.90" fill="#a81b27"/>
<rect x="622.36" y="761.04" width="26.90" height="26.90" fill="#a81b27"/>
<rect x="652.20" y="761.04" width="26.90" height="26.90" fill="#a81b27"/>
<rect x="682.04" y="761.04" width="26.90" height="26.90" fill="#a81b27"/>
<rect x="711.88" y="761.04" width="26.90" height="26.90" fill="#fcfdc7"/>
<rect x="741.72" y="761.04" width="26.90" height="26.90" fill="#f1ac68"/>
<rect x="771.56" y="761.04" width="26.90" height="26.90" fill="#fbeeae"/>
<rect x="801.40" y="761.04" width="26.90" height="26.90" fill="#91bdd4"/>
<rect x="831.24" y="761.04" width="26.90" height="26.90" fill="#91bdd4"/>
<rect x="204.60" y="790.87" width="26.90" height="26.90" fill="#3b5294"/>
<rect x="234.44" y="790.87" width="26.90" height="26.90" fill="#91bdd4"/>
<rect x="264.28" y="790.87" width="26.90" height="26.90" fill="#5d8bb5"/>
<rect x="294.12" y="790.87" width="26.90" height="26.90" fill="#d25039"/>
<rect x="323.96" y="790.87" width="26.90" height="26.90" fill="#a81b27"/>
<rect x="353.80" y="790.87" width="26.90" height="26.90" fill="#e26d48"/>
<rect x="383.64" y="790.87" width="26.90" height="26.90" fill="#eff7dd"/>
<rect x="413.48" y="790.87" width="26.90" height="26.90" fill="#e98c58"/>
<rect x="443.32" y="790.87" width="26.90" height="26.90" fill="#fbeeae"/>
<rect x="473.16" y="790.87" width="26.90" height="26.90" fill="#9d1026"/>
<rect x="503.00" y="790.87" width="26.90" height="26.90" fill="#a81b27"/>
<rect x="532.84" y="790.87" width="26.90" height="26.90" fill="#a81b27"/>
<rect x="562.68" y="790.87" width="26.90" height="26.90" fill="#a81b27"/>
<rect x="592.52" y="790.87" width="26.90" height="26.90" fill="#a81b27"/>
<rect x="622.36" y="790.87" width="26.90" height="26.90" fill="#a81b27"/>
<rect x="652.20" y="790.87" width="26.90" height="26.90" fill="#a81b27"/>
<rect x="682.04" y="790.87" width="26.90" height="26.90" fill="#a81b27"/>
<rect x="711.88" y="790.87" width="26.90" height="26.90" fill="#d25039"/>
<rect x="741.72" y="790.87" width="26.90" height="26.90" fill="#fbeeae"/>
<rect x="771.56" y="790.87" width="26.90" height="26.90" fill="#f5c57f"/>
<rect x="801.40" y="790.87" width="26.90" height="26.90" fill="#466fa5"/>
<rect x="831.24" y="790.87" width="26.90" height="26.90" fill="#5d8bb5"/>
<rect x="204.60" y="820.70" width="26.90" height="26.90" fill="#5d8bb5"/>
<rect x="234.44" y="820.70" width="26.90" height="26.90" fill="#e0f1f6"/>
<rect x="264.28" y="820.70" width="26.90" height="26.90" fill="#3b5294"/>
<rect x="294.12" y="820.70" width="26.90" height="26.90" fill="#f9de96"/>
<rect x="323.96" y="820.70" width="26.90" height="26.90" fill="#f5c57f"/>
<rect x="353.80" y="820.70" width="26.90" height="26.90" fill="#f5c57f"/>
<rect x="383.64" y="820.70" width="26.90" height="26.90" fill="#f9de96"/>
<rect x="413.48" y="820.70" width="26.90" height="26.90" fill="#f1ac68"/>
<rect x="443.32" y="820.70" width="26.90" height="26.90" fill="#fbeeae"/>
<rect x="473.16" y="820.70" width="26.90" height="26.90" fill="#ba2c2a"/>
<rect x="503.00" y="820.70" width="26.90" height="26.90" fill="#e26d48"/>
<rect x="532.84" y="820.70" width="26.90" height="26.90" fill="#e26d48"/>
<rect x="562.68" y="820.70" width="26.90" height="26.90" fill="#e26d48"/>
<rect x="592.52" y="820.70" width="26.90" height="26.90" fill="#d25039"/>
<rect x="622.36" y="820.70" width="26.90" height="26.90" fill="#f5c57f"/>
<rect x="652.20" y="820.70" width="26.90" height="26.90" fill="#ba2c2a"/>
<rect x="682.04" y="820.70" width="26.90" height="26.90" fill="#ba2c2a"/>
<rect x="711.88" y="820.70" width="26.90" height="26.90" fill="#e0f1f6"/>
<rect x="741.72" y="820.70" width="26.90" height="26.90" fill="#91bdd4"/>
<rect x="771.56" y="820.70" width="26.90" height="26.90" fill="#466fa5"/>
<rect x="801.40" y="820.70" width="26.90" height="26.90" fill="#f1ac68"/>
<rect x="831.24" y="820.70" width="26.90" height="26.90" fill="#eff7dd"/>
<rect x="204.60" y="850.53" width="26.90" height="26.90" fill="#5d8bb5"/>
<rect x="234.44" y="850.53" width="26.90" height="26.90" fill="#e0f1f6"/>
<rect x="264.28" y="850.53" width="26.90" height="26.90" fill="#3b5294"/>
<rect x="294.12" y="850.53" width="26.90" height="26.90" fill="#f5c57f"/>
<rect x="323.96" y="850.53" width="26.90" height="26.90" fill="#e98c58"/>
<rect x="353.80" y="850.53" width="26.90" height="26.90" fill="#f1ac68"/>
<rect x="383.64" y="850.53" width="26.90" height="26.90" fill="#f9de96"/>
<rect x="413.48" y="850.53" width="26.90" height="26.90" fill="#e98c58"/>
<rect x="443.32" y="850.53" width="26.90" height="26.90" fill="#fbeeae"/>
<rect x="473.16" y="850.53" width="26.90" height="26.90" fill="#a81b27"/>
<rect x="503.00" y="850.53" width="26.90" height="26.90" fill="#ba2c2a"/>
<rect x="532.84" y="850.53" width="26.90" height="26.90" fill="#ba2c2a"/>
<rect x="562.68" y="850.53" width="26.90" height="26.90" fill="#ba2c2a"/>
<rect x="592.52" y="850.53" width="26.90" height="26.90" fill="#ba2c2a"/>
<rect x="622.36" y="850.53" width="26.90" height="26.90" fill="#f1ac68"/>
<rect x="652.20" y="850.53" width="26.90" height="26.90" fill="#a81b27"/>
<rect x="682.04" y="850.53" width="26.90" height="26.90" fill="#a81b27"/>
<rect x="711.88" y="850.53" width="26.90" height="26.90" fill="#eff7dd"/>
<rect x="741.72" y="850.53" width="26.90" height="26.90" fill="#91bdd4"/>
<rect x="771.56" y="850.53" width="26.90" height="26.90" fill="#5d8bb5"/>
<rect x="801.40" y="850.53" width="26.90" height="26.90" fill="#eff7dd"/>
<rect x="831.24" y="850.53" width="26.90" height="26.90" fill="#d25039"/>
<line x1="860.64" x2="869.14" y1="209.20" y2="209.20" stroke="#444" stroke-width="1.6"/>
<text x="873.74" y="214.57" font-size="15" fill="#3a3a3a" text-anchor="start" stroke="#3a3a3a" stroke-width="0.2">Cluster</text>
<line x1="860.64" x2="869.14" y1="237.55" y2="237.55" stroke="#444" stroke-width="1.6"/>
<text x="873.74" y="242.92" font-size="15" fill="#3a3a3a" text-anchor="start" stroke="#3a3a3a" stroke-width="0.2">Col1</text>
<line x1="860.64" x2="869.14" y1="267.38" y2="267.38" stroke="#444" stroke-width="1.6"/>
<text x="873.74" y="272.75" font-size="15" fill="#3a3a3a" text-anchor="start" stroke="#3a3a3a" stroke-width="0.2">GranzymeB</text>
<line x1="860.64" x2="869.14" y1="297.21" y2="297.21" stroke="#444" stroke-width="1.6"/>
<text x="873.74" y="302.58" font-size="15" fill="#3a3a3a" text-anchor="start" stroke="#3a3a3a" stroke-width="0.2">PanKeratin</text>
<line x1="860.64" x2="869.14" y1="327.04" y2="327.04" stroke="#444" stroke-width="1.6"/>
<text x="873.74" y="332.41" font-size="15" fill="#3a3a3a" text-anchor="start" stroke="#3a3a3a" stroke-width="0.2">CD20</text>
<line x1="860.64" x2="869.14" y1="356.87" y2="356.87" stroke="#444" stroke-width="1.6"/>
<text x="873.74" y="362.24" font-size="15" fill="#3a3a3a" text-anchor="start" stroke="#3a3a3a" stroke-width="0.2">CD3</text>
<line x1="860.64" x2="869.14" y1="386.70" y2="386.70" stroke="#444" stroke-width="1.6"/>
<text x="873.74" y="392.07" font-size="15" fill="#3a3a3a" text-anchor="start" stroke="#3a3a3a" stroke-width="0.2">CD4</text>
<line x1="860.64" x2="869.14" y1="416.53" y2="416.53" stroke="#444" stroke-width="1.6"/>
<text x="873.74" y="421.90" font-size="15" fill="#3a3a3a" text-anchor="start" stroke="#3a3a3a" stroke-width="0.2">CD68</text>
<line x1="860.64" x2="869.14" y1="446.36" y2="446.36" stroke="#444" stroke-width="1.6"/>
<text x="873.74" y="451.73" font-size="15" fill="#3a3a3a" text-anchor="start" stroke="#3a3a3a" stroke-width="0.2">CD8a</text>
<line x1="860.64" x2="869.14" y1="476.19" y2="476.19" stroke="#444" stroke-width="1.6"/>
<text x="873.74" y="481.56" font-size="15" fill="#3a3a3a" text-anchor="start" stroke="#3a3a3a" stroke-width="0.2">Ki67</text>
<line x1="860.64" x2="869.14" y1="506.02" y2="506.02" stroke="#444" stroke-width="1.6"/>
<text x="873.74" y="511.39" font-size="15" fill="#3a3a3a" text-anchor="start" stroke="#3a3a3a" stroke-width="0.2">MHCII</text>
<line x1="860.64" x2="869.14" y1="535.85" y2="535.85" stroke="#444" stroke-width="1.6"/>
<text x="873.74" y="541.22" font-size="15" fill="#3a3a3a" text-anchor="start" stroke="#3a3a3a" stroke-width="0.2">H3K9me3</text>
<line x1="860.64" x2="869.14" y1="565.68" y2="565.68" stroke="#444" stroke-width="1.6"/>
<text x="873.74" y="571.05" font-size="15" fill="#3a3a3a" text-anchor="start" stroke="#3a3a3a" stroke-width="0.2">Histone3</text>
<line x1="860.64" x2="869.14" y1="595.51" y2="595.51" stroke="#444" stroke-width="1.6"/>
<text x="873.74" y="600.88" font-size="15" fill="#3a3a3a" text-anchor="start" stroke="#3a3a3a" stroke-width="0.2">CD44</text>
<line x1="860.64" x2="869.14" y1="625.34" y2="625.34" stroke="#444" stroke-width="1.6"/>
<text x="873.74" y="630.71" font-size="15" fill="#3a3a3a" text-anchor="start" stroke="#3a3a3a" stroke-width="0.2">CD45RO</text>
<line x1="860.64" x2="869.14" y1="655.17" y2="655.17" stroke="#444" stroke-width="1.6"/>
<text x="873.74" y="660.54" font-size="15" fill="#3a3a3a" text-anchor="start" stroke="#3a3a3a" stroke-width="0.2">ECadherin</text>
<line x1="860.64" x2="869.14" y1="685.00" y2="685.00" stroke="#444" stroke-width="1.6"/>
<text x="873.74" y="690.37" font-size="15" fill="#3a3a3a" text-anchor="start" stroke="#3a3a3a" stroke-width="0.2">DNA1</text>
<line x1="860.64" x2="869.14" y1="714.83" y2="714.83" stroke="#444" stroke-width="1.6"/>
<text x="873.74" y="720.20" font-size="15" fill="#3a3a3a" text-anchor="start" stroke="#3a3a3a" stroke-width="0.2">DNA2</text>
<line x1="860.64" x2="869.14" y1="744.66" y2="744.66" stroke="#444" stroke-width="1.6"/>
<text x="873.74" y="750.03" font-size="15" fill="#3a3a3a" text-anchor="start" stroke="#3a3a3a" stroke-width="0.2">FoxP3</text>
<line x1="860.64" x2="869.14" y1="774.49" y2="774.49" stroke="#444" stroke-width="1.6"/>
<text x="873.74" y="779.86" font-size="15" fill="#3a3a3a" text-anchor="start" stroke="#3a3a3a" stroke-width="0.2">PD1</text>
<line x1="860.64" x2="869.14" y1="804.32" y2="804.32" stroke="#444" stroke-width="1.6"/>
<text x="873.74" y="809.69" font-size="15" fill="#3a3a3a" text-anchor="start" stroke="#3a3a3a" stroke-width="0.2">PDL1</text>
<line x1="860.64" x2="869.14" y1="834.15" y2="834.15" stroke="#444" stroke-width="1.6"/>
<text x="873.74" y="839.52" font-size="15" fill="#3a3a3a" text-anchor="start" stroke="#3a3a3a" stroke-width="0.2">SMA</text>
<line x1="860.64" x2="869.14" y1="863.98" y2="863.98" stroke="#444" stroke-width="1.6"/>
<text x="873.74" y="869.35" font-size="15" fill="#3a3a3a" text-anchor="start" stroke="#3a3a3a" stroke-width="0.2">Vimentin</text>
<text transform="translate(195.23,895.43) rotate(-90)" font-size="14.6" fill="#3a3a3a" text-anchor="end" stroke="#3a3a3a" stroke-width="0.2">Cluster</text>
<text transform="translate(223.28,895.43) rotate(-90)" font-size="14.6" fill="#3a3a3a" text-anchor="end" stroke="#3a3a3a" stroke-width="0.2">Col1</text>
<text transform="translate(253.12,895.43) rotate(-90)" font-size="14.6" fill="#3a3a3a" text-anchor="end" stroke="#3a3a3a" stroke-width="0.2">GranzymeB</text>
<text transform="translate(282.96,895.43) rotate(-90)" font-size="14.6" fill="#3a3a3a" text-anchor="end" stroke="#3a3a3a" stroke-width="0.2">PanKeratin</text>
<text transform="translate(312.80,895.43) rotate(-90)" font-size="14.6" fill="#3a3a3a" text-anchor="end" stroke="#3a3a3a" stroke-width="0.2">CD20</text>
<text transform="translate(342.64,895.43) rotate(-90)" font-size="14.6" fill="#3a3a3a" text-anchor="end" stroke="#3a3a3a" stroke-width="0.2">CD3</text>
<text transform="translate(372.48,895.43) rotate(-90)" font-size="14.6" fill="#3a3a3a" text-anchor="end" stroke="#3a3a3a" stroke-width="0.2">CD4</text>
<text transform="translate(402.32,895.43) rotate(-90)" font-size="14.6" fill="#3a3a3a" text-anchor="end" stroke="#3a3a3a" stroke-width="0.2">CD68</text>
<text transform="translate(432.16,895.43) rotate(-90)" font-size="14.6" fill="#3a3a3a" text-anchor="end" stroke="#3a3a3a" stroke-width="0.2">CD8a</text>
<text transform="translate(462.00,895.43) rotate(-90)" font-size="14.6" fill="#3a3a3a" text-anchor="end" stroke="#3a3a3a" stroke-width="0.2">Ki67</text>
<text transform="translate(491.84,895.43) rotate(-90)" font-size="14.6" fill="#3a3a3a" text-anchor="end" stroke="#3a3a3a" stroke-width="0.2">MHCII</text>
<text transform="translate(521.68,895.43) rotate(-90)" font-size="14.6" fill="#3a3a3a" text-anchor="end" stroke="#3a3a3a" stroke-width="0.2">H3K9me3</text>
<text transform="translate(551.52,895.43) rotate(-90)" font-size="14.6" fill="#3a3a3a" text-anchor="end" stroke="#3a3a3a" stroke-width="0.2">Histone3</text>
<text transform="translate(581.36,895.43) rotate(-90)" font-size="14.6" fill="#3a3a3a" text-anchor="end" stroke="#3a3a3a" stroke-width="0.2">CD44</text>
<text transform="translate(611.20,895.43) rotate(-90)" font-size="14.6" fill="#3a3a3a" text-anchor="end" stroke="#3a3a3a" stroke-width="0.2">CD45RO</text>
<text transform="translate(641.04,895.43) rotate(-90)" font-size="14.6" fill="#3a3a3a" text-anchor="end" stroke="#3a3a3a" stroke-width="0.2">ECadherin</text>
<text transform="translate(670.88,895.43) rotate(-90)" font-size="14.6" fill="#3a3a3a" text-anchor="end" stroke="#3a3a3a" stroke-width="0.2">DNA1</text>
<text transform="translate(700.72,895.43) rotate(-90)" font-size="14.6" fill="#3a3a3a" text-anchor="end" stroke="#3a3a3a" stroke-width="0.2">DNA2</text>
<text transform="translate(730.56,895.43) rotate(-90)" font-size="14.6" fill="#3a3a3a" text-anchor="end" stroke="#3a3a3a" stroke-width="0.2">FoxP3</text>
<text transform="translate(760.40,895.43) rotate(-90)" font-size="14.6" fill="#3a3a3a" text-anchor="end" stroke="#3a3a3a" stroke-width="0.2">PD1</text>
<text transform="translate(790.24,895.43) rotate(-90)" font-size="14.6" fill="#3a3a3a" text-anchor="end" stroke="#3a3a3a" stroke-width="0.2">PDL1</text>
<text transform="translate(820.08,895.43) rotate(-90)" font-size="14.6" fill="#3a3a3a" text-anchor="end" stroke="#3a3a3a" stroke-width="0.2">SMA</text>
<text transform="translate(849.92,895.43) rotate(-90)" font-size="14.6" fill="#3a3a3a" text-anchor="end" stroke="#3a3a3a" stroke-width="0.2">Vimentin</text>
<linearGradient id="nt1g" x1="0" y1="1" x2="0" y2="0"><stop offset="0.0" stop-color="#900525"/><stop offset="0.05" stop-color="#a81b27"/><stop offset="0.1" stop-color="#c1322b"/><stop offset="0.15" stop-color="#d24f39"/><stop offset="0.2" stop-color="#e26d48"/><stop offset="0.25" stop-color="#e98c58"/><stop offset="0.3" stop-color="#f1ac68"/><stop offset="0.35" stop-color="#f5c57f"/><stop offset="0.4" stop-color="#f9de96"/><stop offset="0.45" stop-color="#fbeeae"/><stop offset="0.5" stop-color="#fefec4"/><stop offset="0.55" stop-color="#eff7dd"/><stop offset="0.6" stop-color="#e0f1f6"/><stop offset="0.65" stop-color="#c6e3ec"/><stop offset="0.7" stop-color="#acd4e3"/><stop offset="0.75" stop-color="#91bdd4"/><stop offset="0.8" stop-color="#75a7c6"/><stop offset="0.85" stop-color="#5d8bb5"/><stop offset="0.9" stop-color="#466fa5"/><stop offset="0.95" stop-color="#3b5294"/><stop offset="1.0" stop-color="#2f3484"/></linearGradient>
<rect x="38" y="352" width="29.8" height="440" fill="url(#nt1g)"/>
<line x1="67.80" x2="76.80" y1="792.00" y2="792.00" stroke="#444" stroke-width="1.6"/>
<text x="80.80" y="797.37" font-size="15" fill="#3a3a3a" text-anchor="start" stroke="#3a3a3a" stroke-width="0.2">0.0</text>
<line x1="67.80" x2="76.80" y1="704.00" y2="704.00" stroke="#444" stroke-width="1.6"/>
<text x="80.80" y="709.37" font-size="15" fill="#3a3a3a" text-anchor="start" stroke="#3a3a3a" stroke-width="0.2">0.2</text>
<line x1="67.80" x2="76.80" y1="616.00" y2="616.00" stroke="#444" stroke-width="1.6"/>
<text x="80.80" y="621.37" font-size="15" fill="#3a3a3a" text-anchor="start" stroke="#3a3a3a" stroke-width="0.2">0.4</text>
<line x1="67.80" x2="76.80" y1="528.00" y2="528.00" stroke="#444" stroke-width="1.6"/>
<text x="80.80" y="533.37" font-size="15" fill="#3a3a3a" text-anchor="start" stroke="#3a3a3a" stroke-width="0.2">0.6</text>
<line x1="67.80" x2="76.80" y1="440.00" y2="440.00" stroke="#444" stroke-width="1.6"/>
<text x="80.80" y="445.37" font-size="15" fill="#3a3a3a" text-anchor="start" stroke="#3a3a3a" stroke-width="0.2">0.8</text>
<line x1="67.80" x2="76.80" y1="352.00" y2="352.00" stroke="#444" stroke-width="1.6"/>
<text x="80.80" y="357.37" font-size="15" fill="#3a3a3a" text-anchor="start" stroke="#3a3a3a" stroke-width="0.2">1.0</text>
<text transform="translate(127.44,575.00) rotate(-90)" font-size="27.5" fill="#222" text-anchor="middle" >Distance</text>
<text transform="translate(979.85,554.60) rotate(-90)" font-size="27.5" fill="#222" text-anchor="middle" >Marker</text>
<text x="489.00" y="996.70" font-size="27.5" fill="#222" text-anchor="start" >Marker</text>
<text x="471.90" y="66.00" font-size="82" fill="#000" letter-spacing="-1.0">NT1</text>
<rect x="584.454" y="59.875" width="15.275" height="7.125" fill="#fff"/>
<rect x="606.950" y="59.875" width="14.855" height="7.125" fill="#fff"/>
<rect x="145" y="98.6" width="775" height="26.4" rx="3" fill="#eaeaf0" stroke="#dcdce2" stroke-width="1.2"/>
<rect x="151.00" y="104.70" width="30" height="9.5" fill="#f0a038"/>
<text x="192.50" y="116.37" font-size="15" fill="#2a2a2a" text-anchor="start" stroke="#2a2a2a" stroke-width="0.3">Cluster 1</text>
<rect x="282.90" y="104.70" width="30" height="9.5" fill="#6cf044"/>
<text x="324.40" y="116.37" font-size="15" fill="#2a2a2a" text-anchor="start" stroke="#2a2a2a" stroke-width="0.3">Cluster 2</text>
<rect x="414.80" y="104.70" width="30" height="9.5" fill="#0a22f0"/>
<text x="456.30" y="116.37" font-size="15" fill="#2a2a2a" text-anchor="start" stroke="#2a2a2a" stroke-width="0.3">Cluster 3</text>
<rect x="546.70" y="104.70" width="30" height="9.5" fill="#e83424"/>
<text x="588.20" y="116.37" font-size="15" fill="#2a2a2a" text-anchor="start" stroke="#2a2a2a" stroke-width="0.3">Cluster 4</text>
<rect x="678.60" y="104.70" width="30" height="9.5" fill="#3e0e8a"/>
<text x="720.10" y="116.37" font-size="15" fill="#2a2a2a" text-anchor="start" stroke="#2a2a2a" stroke-width="0.3">Cluster 5</text>
<rect x="810.50" y="104.70" width="30" height="9.5" fill="#7ccaa4"/>
<text x="852.00" y="116.37" font-size="15" fill="#2a2a2a" text-anchor="start" stroke="#2a2a2a" stroke-width="0.3">Cluster 6</text>
<rect x="1158.10" y="198.00" width="26.90" height="22.40" fill="#10f010"/>
<rect x="1187.94" y="198.00" width="26.90" height="22.40" fill="#0a0af0"/>
<rect x="1217.78" y="198.00" width="26.90" height="22.40" fill="#0a0af0"/>
<rect x="1247.62" y="198.00" width="26.90" height="22.40" fill="#fafa5a"/>
<rect x="1277.46" y="198.00" width="26.90" height="22.40" fill="#66cdaa"/>
<rect x="1307.30" y="198.00" width="26.90" height="22.40" fill="#fafa5a"/>
<rect x="1337.14" y="198.00" width="26.90" height="22.40" fill="#ffa500"/>
<rect x="1366.98" y="198.00" width="26.90" height="22.40" fill="#ffa500"/>
<rect x="1396.82" y="198.00" width="26.90" height="22.40" fill="#10f010"/>
<rect x="1426.66" y="198.00" width="26.90" height="22.40" fill="#10f010"/>
<rect x="1456.50" y="198.00" width="26.90" height="22.40" fill="#4b0082"/>
<rect x="1486.34" y="198.00" width="26.90" height="22.40" fill="#ff22ff"/>
<rect x="1516.18" y="198.00" width="26.90" height="22.40" fill="#4b0082"/>
<rect x="1546.02" y="198.00" width="26.90" height="22.40" fill="#f50a0a"/>
<rect x="1575.86" y="198.00" width="26.90" height="22.40" fill="#f50a0a"/>
<rect x="1605.70" y="198.00" width="26.90" height="22.40" fill="#ff22ff"/>
<rect x="1635.54" y="198.00" width="26.90" height="22.40" fill="#f50a0a"/>
<rect x="1665.38" y="198.00" width="26.90" height="22.40" fill="#10f010"/>
<rect x="1695.22" y="198.00" width="26.90" height="22.40" fill="#10f010"/>
<rect x="1725.06" y="198.00" width="26.90" height="22.40" fill="#10f010"/>
<rect x="1754.90" y="198.00" width="26.90" height="22.40" fill="#10f010"/>
<rect x="1784.74" y="198.00" width="26.90" height="22.40" fill="#10f010"/>
<rect x="1132.00" y="224.10" width="23.00" height="26.90" fill="#10f010"/>
<rect x="1132.00" y="253.93" width="23.00" height="26.90" fill="#0a0af0"/>
<rect x="1132.00" y="283.76" width="23.00" height="26.90" fill="#0a0af0"/>
<rect x="1132.00" y="313.59" width="23.00" height="26.90" fill="#fafa5a"/>
<rect x="1132.00" y="343.42" width="23.00" height="26.90" fill="#66cdaa"/>
<rect x="1132.00" y="373.25" width="23.00" height="26.90" fill="#fafa5a"/>
<rect x="1132.00" y="403.08" width="23.00" height="26.90" fill="#ffa500"/>
<rect x="1132.00" y="432.91" width="23.00" height="26.90" fill="#ffa500"/>
<rect x="1132.00" y="462.74" width="23.00" height="26.90" fill="#10f010"/>
<rect x="1132.00" y="492.57" width="23.00" height="26.90" fill="#10f010"/>
<rect x="1132.00" y="522.40" width="23.00" height="26.90" fill="#4b0082"/>
<rect x="1132.00" y="552.23" width="23.00" height="26.90" fill="#ff22ff"/>
<rect x="1132.00" y="582.06" width="23.00" height="26.90" fill="#4b0082"/>
<rect x="1132.00" y="611.89" width="23.00" height="26.90" fill="#f50a0a"/>
<rect x="1132.00" y="641.72" width="23.00" height="26.90" fill="#f50a0a"/>
<rect x="1132.00" y="671.55" width="23.00" height="26.90" fill="#ff22ff"/>
<rect x="1132.00" y="701.38" width="23.00" height="26.90" fill="#f50a0a"/>
<rect x="1132.00" y="731.21" width="23.00" height="26.90" fill="#10f010"/>
<rect x="1132.00" y="761.04" width="23.00" height="26.90" fill="#10f010"/>
<rect x="1132.00" y="790.87" width="23.00" height="26.90" fill="#10f010"/>
<rect x="1132.00" y="820.70" width="23.00" height="26.90" fill="#10f010"/>
<rect x="1132.00" y="850.53" width="23.00" height="26.90" fill="#10f010"/>
<rect x="1158.10" y="224.10" width="26.90" height="26.90" fill="#fec778"/>
<rect x="1187.94" y="224.10" width="26.90" height="26.90" fill="#b20c26"/>
<rect x="1217.78" y="224.10" width="26.90" height="26.90" fill="#b20c26"/>
<rect x="1247.62" y="224.10" width="26.90" height="26.90" fill="#b20c26"/>
<rect x="1277.46" y="224.10" width="26.90" height="26.90" fill="#f46d43"/>
<rect x="1307.30" y="224.10" width="26.90" height="26.90" fill="#b20c26"/>
<rect x="1337.14" y="224.10" width="26.90" height="26.90" fill="#b20c26"/>
<rect x="1366.98" y="224.10" width="26.90" height="26.90" fill="#b20c26"/>
<rect x="1396.82" y="224.10" width="26.90" height="26.90" fill="#fef0a8"/>
<rect x="1426.66" y="224.10" width="26.90" height="26.90" fill="#313695"/>
<rect x="1456.50" y="224.10" width="26.90" height="26.90" fill="#3b56a4"/>
<rect x="1486.34" y="224.10" width="26.90" height="26.90" fill="#313695"/>
<rect x="1516.18" y="224.10" width="26.90" height="26.90" fill="#be1826"/>
<rect x="1546.02" y="224.10" width="26.90" height="26.90" fill="#d02927"/>
<rect x="1575.86" y="224.10" width="26.90" height="26.90" fill="#d02927"/>
<rect x="1605.70" y="224.10" width="26.90" height="26.90" fill="#d02927"/>
<rect x="1635.54" y="224.10" width="26.90" height="26.90" fill="#fec778"/>
<rect x="1665.38" y="224.10" width="26.90" height="26.90" fill="#abd9e9"/>
<rect x="1695.22" y="224.10" width="26.90" height="26.90" fill="#c6e6f0"/>
<rect x="1725.06" y="224.10" width="26.90" height="26.90" fill="#abd9e9"/>
<rect x="1754.90" y="224.10" width="26.90" height="26.90" fill="#90c3dd"/>
<rect x="1784.74" y="224.10" width="26.90" height="26.90" fill="#5c91c2"/>
<rect x="1158.10" y="253.93" width="26.90" height="26.90" fill="#b20c26"/>
<rect x="1187.94" y="253.93" width="26.90" height="26.90" fill="#d02927"/>
<rect x="1217.78" y="253.93" width="26.90" height="26.90" fill="#d02927"/>
<rect x="1247.62" y="253.93" width="26.90" height="26.90" fill="#f88e52"/>
<rect x="1277.46" y="253.93" width="26.90" height="26.90" fill="#fdae61"/>
<rect x="1307.30" y="253.93" width="26.90" height="26.90" fill="#be1826"/>
<rect x="1337.14" y="253.93" width="26.90" height="26.90" fill="#be1826"/>
<rect x="1366.98" y="253.93" width="26.90" height="26.90" fill="#be1826"/>
<rect x="1396.82" y="253.93" width="26.90" height="26.90" fill="#be1826"/>
<rect x="1426.66" y="253.93" width="26.90" height="26.90" fill="#be1826"/>
<rect x="1456.50" y="253.93" width="26.90" height="26.90" fill="#be1826"/>
<rect x="1486.34" y="253.93" width="26.90" height="26.90" fill="#be1826"/>
<rect x="1516.18" y="253.93" width="26.90" height="26.90" fill="#90c3dd"/>
<rect x="1546.02" y="253.93" width="26.90" height="26.90" fill="#5c91c2"/>
<rect x="1575.86" y="253.93" width="26.90" height="26.90" fill="#90c3dd"/>
<rect x="1605.70" y="253.93" width="26.90" height="26.90" fill="#e0f3f8"/>
<rect x="1635.54" y="253.93" width="26.90" height="26.90" fill="#74add1"/>
<rect x="1665.38" y="253.93" width="26.90" height="26.90" fill="#5c91c2"/>
<rect x="1695.22" y="253.93" width="26.90" height="26.90" fill="#d02927"/>
<rect x="1725.06" y="253.93" width="26.90" height="26.90" fill="#be1826"/>
<rect x="1754.90" y="253.93" width="26.90" height="26.90" fill="#e64f35"/>
<rect x="1784.74" y="253.93" width="26.90" height="26.90" fill="#f46d43"/>
<rect x="1158.10" y="283.76" width="26.90" height="26.90" fill="#b20c26"/>
<rect x="1187.94" y="283.76" width="26.90" height="26.90" fill="#d02927"/>
<rect x="1217.78" y="283.76" width="26.90" height="26.90" fill="#d02927"/>
<rect x="1247.62" y="283.76" width="26.90" height="26.90" fill="#f88e52"/>
<rect x="1277.46" y="283.76" width="26.90" height="26.90" fill="#fdae61"/>
<rect x="1307.30" y="283.76" width="26.90" height="26.90" fill="#be1826"/>
<rect x="1337.14" y="283.76" width="26.90" height="26.90" fill="#be1826"/>
<rect x="1366.98" y="283.76" width="26.90" height="26.90" fill="#be1826"/>
<rect x="1396.82" y="283.76" width="26.90" height="26.90" fill="#be1826"/>
<rect x="1426.66" y="283.76" width="26.90" height="26.90" fill="#be1826"/>
<rect x="1456.50" y="283.76" width="26.90" height="26.90" fill="#be1826"/>
<rect x="1486.34" y="283.76" width="26.90" height="26.90" fill="#be1826"/>
<rect x="1516.18" y="283.76" width="26.90" height="26.90" fill="#90c3dd"/>
<rect x="1546.02" y="283.76" width="26.90" height="26.90" fill="#5c91c2"/>
<rect x="1575.86" y="283.76" width="26.90" height="26.90" fill="#90c3dd"/>
<rect x="1605.70" y="283.76" width="26.90" height="26.90" fill="#e0f3f8"/>
<rect x="1635.54" y="283.76" width="26.90" height="26.90" fill="#74add1"/>
<rect x="1665.38" y="283.76" width="26.90" height="26.90" fill="#5c91c2"/>
<rect x="1695.22" y="283.76" width="26.90" height="26.90" fill="#d02927"/>
<rect x="1725.06" y="283.76" width="26.90" height="26.90" fill="#be1826"/>
<rect x="1754.90" y="283.76" width="26.90" height="26.90" fill="#e64f35"/>
<rect x="1784.74" y="283.76" width="26.90" height="26.90" fill="#f46d43"/>
<rect x="1158.10" y="313.59" width="26.90" height="26.90" fill="#b20c26"/>
<rect x="1187.94" y="313.59" width="26.90" height="26.90" fill="#f88e52"/>
<rect x="1217.78" y="313.59" width="26.90" height="26.90" fill="#f88e52"/>
<rect x="1247.62" y="313.59" width="26.90" height="26.90" fill="#d02927"/>
<rect x="1277.46" y="313.59" width="26.90" height="26.90" fill="#f46d43"/>
<rect x="1307.30" y="313.59" width="26.90" height="26.90" fill="#d02927"/>
<rect x="1337.14" y="313.59" width="26.90" height="26.90" fill="#be1826"/>
<rect x="1366.98" y="313.59" width="26.90" height="26.90" fill="#d02927"/>
<rect x="1396.82" y="313.59" width="26.90" height="26.90" fill="#be1826"/>
<rect x="1426.66" y="313.59" width="26.90" height="26.90" fill="#be1826"/>
<rect x="1456.50" y="313.59" width="26.90" height="26.90" fill="#be1826"/>
<rect x="1486.34" y="313.59" width="26.90" height="26.90" fill="#be1826"/>
<rect x="1516.18" y="313.59" width="26.90" height="26.90" fill="#c6e6f0"/>
<rect x="1546.02" y="313.59" width="26.90" height="26.90" fill="#90c3dd"/>
<rect x="1575.86" y="313.59" width="26.90" height="26.90" fill="#c6e6f0"/>
<rect x="1605.70" y="313.59" width="26.90" height="26.90" fill="#fdfec2"/>
<rect x="1635.54" y="313.59" width="26.90" height="26.90" fill="#b20c26"/>
<rect x="1665.38" y="313.59" width="26.90" height="26.90" fill="#f46d43"/>
<rect x="1695.22" y="313.59" width="26.90" height="26.90" fill="#d02927"/>
<rect x="1725.06" y="313.59" width="26.90" height="26.90" fill="#d02927"/>
<rect x="1754.90" y="313.59" width="26.90" height="26.90" fill="#f46d43"/>
<rect x="1784.74" y="313.59" width="26.90" height="26.90" fill="#f88e52"/>
<rect x="1158.10" y="343.42" width="26.90" height="26.90" fill="#f46d43"/>
<rect x="1187.94" y="343.42" width="26.90" height="26.90" fill="#fdae61"/>
<rect x="1217.78" y="343.42" width="26.90" height="26.90" fill="#fdae61"/>
<rect x="1247.62" y="343.42" width="26.90" height="26.90" fill="#f46d43"/>
<rect x="1277.46" y="343.42" width="26.90" height="26.90" fill="#e64f35"/>
<rect x="1307.30" y="343.42" width="26.90" height="26.90" fill="#f88e52"/>
<rect x="1337.14" y="343.42" width="26.90" height="26.90" fill="#f88e52"/>
<rect x="1366.98" y="343.42" width="26.90" height="26.90" fill="#f88e52"/>
<rect x="1396.82" y="343.42" width="26.90" height="26.90" fill="#f46d43"/>
<rect x="1426.66" y="343.42" width="26.90" height="26.90" fill="#f46d43"/>
<rect x="1456.50" y="343.42" width="26.90" height="26.90" fill="#f88e52"/>
<rect x="1486.34" y="343.42" width="26.90" height="26.90" fill="#f88e52"/>
<rect x="1516.18" y="343.42" width="26.90" height="26.90" fill="#abd9e9"/>
<rect x="1546.02" y="343.42" width="26.90" height="26.90" fill="#74add1"/>
<rect x="1575.86" y="343.42" width="26.90" height="26.90" fill="#abd9e9"/>
<rect x="1605.70" y="343.42" width="26.90" height="26.90" fill="#e0f3f8"/>
<rect x="1635.54" y="343.42" width="26.90" height="26.90" fill="#f46d43"/>
<rect x="1665.38" y="343.42" width="26.90" height="26.90" fill="#f88e52"/>
<rect x="1695.22" y="343.42" width="26.90" height="26.90" fill="#f88e52"/>
<rect x="1725.06" y="343.42" width="26.90" height="26.90" fill="#f88e52"/>
<rect x="1754.90" y="343.42" width="26.90" height="26.90" fill="#f46d43"/>
<rect x="1784.74" y="343.42" width="26.90" height="26.90" fill="#f88e52"/>
<rect x="1158.10" y="373.25" width="26.90" height="26.90" fill="#b20c26"/>
<rect x="1187.94" y="373.25" width="26.90" height="26.90" fill="#be1826"/>
<rect x="1217.78" y="373.25" width="26.90" height="26.90" fill="#be1826"/>
<rect x="1247.62" y="373.25" width="26.90" height="26.90" fill="#d02927"/>
<rect x="1277.46" y="373.25" width="26.90" height="26.90" fill="#f88e52"/>
<rect x="1307.30" y="373.25" width="26.90" height="26.90" fill="#d02927"/>
<rect x="1337.14" y="373.25" width="26.90" height="26.90" fill="#fee090"/>
<rect x="1366.98" y="373.25" width="26.90" height="26.90" fill="#fdae61"/>
<rect x="1396.82" y="373.25" width="26.90" height="26.90" fill="#e0f3f8"/>
<rect x="1426.66" y="373.25" width="26.90" height="26.90" fill="#be1826"/>
<rect x="1456.50" y="373.25" width="26.90" height="26.90" fill="#be1826"/>
<rect x="1486.34" y="373.25" width="26.90" height="26.90" fill="#be1826"/>
<rect x="1516.18" y="373.25" width="26.90" height="26.90" fill="#e0f3f8"/>
<rect x="1546.02" y="373.25" width="26.90" height="26.90" fill="#c6e6f0"/>
<rect x="1575.86" y="373.25" width="26.90" height="26.90" fill="#e0f3f8"/>
<rect x="1605.70" y="373.25" width="26.90" height="26.90" fill="#fef0a8"/>
<rect x="1635.54" y="373.25" width="26.90" height="26.90" fill="#e0f3f8"/>
<rect x="1665.38" y="373.25" width="26.90" height="26.90" fill="#74add1"/>
<rect x="1695.22" y="373.25" width="26.90" height="26.90" fill="#90c3dd"/>
<rect x="1725.06" y="373.25" width="26.90" height="26.90" fill="#74add1"/>
<rect x="1754.90" y="373.25" width="26.90" height="26.90" fill="#c6e6f0"/>
<rect x="1784.74" y="373.25" width="26.90" height="26.90" fill="#fec778"/>
<rect x="1158.10" y="403.08" width="26.90" height="26.90" fill="#b20c26"/>
<rect x="1187.94" y="403.08" width="26.90" height="26.90" fill="#be1826"/>
<rect x="1217.78" y="403.08" width="26.90" height="26.90" fill="#be1826"/>
<rect x="1247.62" y="403.08" width="26.90" height="26.90" fill="#be1826"/>
<rect x="1277.46" y="403.08" width="26.90" height="26.90" fill="#f88e52"/>
<rect x="1307.30" y="403.08" width="26.90" height="26.90" fill="#fee090"/>
<rect x="1337.14" y="403.08" width="26.90" height="26.90" fill="#d02927"/>
<rect x="1366.98" y="403.08" width="26.90" height="26.90" fill="#fdae61"/>
<rect x="1396.82" y="403.08" width="26.90" height="26.90" fill="#d02927"/>
<rect x="1426.66" y="403.08" width="26.90" height="26.90" fill="#fec778"/>
<rect x="1456.50" y="403.08" width="26.90" height="26.90" fill="#be1826"/>
<rect x="1486.34" y="403.08" width="26.90" height="26.90" fill="#be1826"/>
<rect x="1516.18" y="403.08" width="26.90" height="26.90" fill="#f0f9dc"/>
<rect x="1546.02" y="403.08" width="26.90" height="26.90" fill="#fdfec2"/>
<rect x="1575.86" y="403.08" width="26.90" height="26.90" fill="#fdfec2"/>
<rect x="1605.70" y="403.08" width="26.90" height="26.90" fill="#fdae61"/>
<rect x="1635.54" y="403.08" width="26.90" height="26.90" fill="#fee090"/>
<rect x="1665.38" y="403.08" width="26.90" height="26.90" fill="#90c3dd"/>
<rect x="1695.22" y="403.08" width="26.90" height="26.90" fill="#abd9e9"/>
<rect x="1725.06" y="403.08" width="26.90" height="26.90" fill="#90c3dd"/>
<rect x="1754.90" y="403.08" width="26.90" height="26.90" fill="#c6e6f0"/>
<rect x="1784.74" y="403.08" width="26.90" height="26.90" fill="#fef0a8"/>
<rect x="1158.10" y="432.91" width="26.90" height="26.90" fill="#b20c26"/>
<rect x="1187.94" y="432.91" width="26.90" height="26.90" fill="#be1826"/>
<rect x="1217.78" y="432.91" width="26.90" height="26.90" fill="#d02927"/>
<rect x="1247.62" y="432.91" width="26.90" height="26.90" fill="#d02927"/>
<rect x="1277.46" y="432.91" width="26.90" height="26.90" fill="#f88e52"/>
<rect x="1307.30" y="432.91" width="26.90" height="26.90" fill="#fdae61"/>
<rect x="1337.14" y="432.91" width="26.90" height="26.90" fill="#fdae61"/>
<rect x="1366.98" y="432.91" width="26.90" height="26.90" fill="#d02927"/>
<rect x="1396.82" y="432.91" width="26.90" height="26.90" fill="#be1826"/>
<rect x="1426.66" y="432.91" width="26.90" height="26.90" fill="#f88e52"/>
<rect x="1456.50" y="432.91" width="26.90" height="26.90" fill="#be1826"/>
<rect x="1486.34" y="432.91" width="26.90" height="26.90" fill="#be1826"/>
<rect x="1516.18" y="432.91" width="26.90" height="26.90" fill="#e0f3f8"/>
<rect x="1546.02" y="432.91" width="26.90" height="26.90" fill="#c6e6f0"/>
<rect x="1575.86" y="432.91" width="26.90" height="26.90" fill="#e0f3f8"/>
<rect x="1605.70" y="432.91" width="26.90" height="26.90" fill="#fef0a8"/>
<rect x="1635.54" y="432.91" width="26.90" height="26.90" fill="#e0f3f8"/>
<rect x="1665.38" y="432.91" width="26.90" height="26.90" fill="#74add1"/>
<rect x="1695.22" y="432.91" width="26.90" height="26.90" fill="#90c3dd"/>
<rect x="1725.06" y="432.91" width="26.90" height="26.90" fill="#74add1"/>
<rect x="1754.90" y="432.91" width="26.90" height="26.90" fill="#c6e6f0"/>
<rect x="1784.74" y="432.91" width="26.90" height="26.90" fill="#f88e52"/>
<rect x="1158.10" y="462.74" width="26.90" height="26.90" fill="#fef0a8"/>
<rect x="1187.94" y="462.74" width="26.90" height="26.90" fill="#be1826"/>
<rect x="1217.78" y="462.74" width="26.90" height="26.90" fill="#be1826"/>
<rect x="1247.62" y="462.74" width="26.90" height="26.90" fill="#be1826"/>
<rect x="1277.46" y="462.74" width="26.90" height="26.90" fill="#f46d43"/>
<rect x="1307.30" y="462.74" width="26.90" height="26.90" fill="#e0f3f8"/>
<rect x="1337.14" y="462.74" width="26.90" height="26.90" fill="#be1826"/>
<rect x="1366.98" y="462.74" width="26.90" height="26.90" fill="#be1826"/>
<rect x="1396.82" y="462.74" width="26.90" height="26.90" fill="#fdae61"/>
<rect x="1426.66" y="462.74" width="26.90" height="26.90" fill="#f0f9dc"/>
<rect x="1456.50" y="462.74" width="26.90" height="26.90" fill="#fdfec2"/>
<rect x="1486.34" y="462.74" width="26.90" height="26.90" fill="#fdfec2"/>
<rect x="1516.18" y="462.74" width="26.90" height="26.90" fill="#f0f9dc"/>
<rect x="1546.02" y="462.74" width="26.90" height="26.90" fill="#fef0a8"/>
<rect x="1575.86" y="462.74" width="26.90" height="26.90" fill="#fef0a8"/>
<rect x="1605.70" y="462.74" width="26.90" height="26.90" fill="#fec778"/>
<rect x="1635.54" y="462.74" width="26.90" height="26.90" fill="#fee090"/>
<rect x="1665.38" y="462.74" width="26.90" height="26.90" fill="#90c3dd"/>
<rect x="1695.22" y="462.74" width="26.90" height="26.90" fill="#74add1"/>
<rect x="1725.06" y="462.74" width="26.90" height="26.90" fill="#74add1"/>
<rect x="1754.90" y="462.74" width="26.90" height="26.90" fill="#abd9e9"/>
<rect x="1784.74" y="462.74" width="26.90" height="26.90" fill="#90c3dd"/>
<rect x="1158.10" y="492.57" width="26.90" height="26.90" fill="#313695"/>
<rect x="1187.94" y="492.57" width="26.90" height="26.90" fill="#be1826"/>
<rect x="1217.78" y="492.57" width="26.90" height="26.90" fill="#be1826"/>
<rect x="1247.62" y="492.57" width="26.90" height="26.90" fill="#be1826"/>
<rect x="1277.46" y="492.57" width="26.90" height="26.90" fill="#f46d43"/>
<rect x="1307.30" y="492.57" width="26.90" height="26.90" fill="#be1826"/>
<rect x="1337.14" y="492.57" width="26.90" height="26.90" fill="#fee090"/>
<rect x="1366.98" y="492.57" width="26.90" height="26.90" fill="#fdae61"/>
<rect x="1396.82" y="492.57" width="26.90" height="26.90" fill="#e0f3f8"/>
<rect x="1426.66" y="492.57" width="26.90" height="26.90" fill="#f88e52"/>
<rect x="1456.50" y="492.57" width="26.90" height="26.90" fill="#fdfec2"/>
<rect x="1486.34" y="492.57" width="26.90" height="26.90" fill="#f0f9dc"/>
<rect x="1516.18" y="492.57" width="26.90" height="26.90" fill="#e0f3f8"/>
<rect x="1546.02" y="492.57" width="26.90" height="26.90" fill="#e0f3f8"/>
<rect x="1575.86" y="492.57" width="26.90" height="26.90" fill="#fdfec2"/>
<rect x="1605.70" y="492.57" width="26.90" height="26.90" fill="#f46d43"/>
<rect x="1635.54" y="492.57" width="26.90" height="26.90" fill="#fee090"/>
<rect x="1665.38" y="492.57" width="26.90" height="26.90" fill="#90c3dd"/>
<rect x="1695.22" y="492.57" width="26.90" height="26.90" fill="#90c3dd"/>
<rect x="1725.06" y="492.57" width="26.90" height="26.90" fill="#74add1"/>
<rect x="1754.90" y="492.57" width="26.90" height="26.90" fill="#e0f3f8"/>
<rect x="1784.74" y="492.57" width="26.90" height="26.90" fill="#5c91c2"/>
<rect x="1158.10" y="522.40" width="26.90" height="26.90" fill="#3b56a4"/>
<rect x="1187.94" y="522.40" width="26.90" height="26.90" fill="#be1826"/>
<rect x="1217.78" y="522.40" width="26.90" height="26.90" fill="#be1826"/>
<rect x="1247.62" y="522.40" width="26.90" height="26.90" fill="#be1826"/>
<rect x="1277.46" y="522.40" width="26.90" height="26.90" fill="#f88e52"/>
<rect x="1307.30" y="522.40" width="26.90" height="26.90" fill="#be1826"/>
<rect x="1337.14" y="522.40" width="26.90" height="26.90" fill="#be1826"/>
<rect x="1366.98" y="522.40" width="26.90" height="26.90" fill="#be1826"/>
<rect x="1396.82" y="522.40" width="26.90" height="26.90" fill="#fdfec2"/>
<rect x="1426.66" y="522.40" width="26.90" height="26.90" fill="#fdfec2"/>
<rect x="1456.50" y="522.40" width="26.90" height="26.90" fill="#e64f35"/>
<rect x="1486.34" y="522.40" width="26.90" height="26.90" fill="#fdae61"/>
<rect x="1516.18" y="522.40" width="26.90" height="26.90" fill="#fdfec2"/>
<rect x="1546.02" y="522.40" width="26.90" height="26.90" fill="#fdae61"/>
<rect x="1575.86" y="522.40" width="26.90" height="26.90" fill="#fec778"/>
<rect x="1605.70" y="522.40" width="26.90" height="26.90" fill="#e64f35"/>
<rect x="1635.54" y="522.40" width="26.90" height="26.90" fill="#fdae61"/>
<rect x="1665.38" y="522.40" width="26.90" height="26.90" fill="#74add1"/>
<rect x="1695.22" y="522.40" width="26.90" height="26.90" fill="#e0f3f8"/>
<rect x="1725.06" y="522.40" width="26.90" height="26.90" fill="#abd9e9"/>
<rect x="1754.90" y="522.40" width="26.90" height="26.90" fill="#c6e6f0"/>
<rect x="1784.74" y="522.40" width="26.90" height="26.90" fill="#5c91c2"/>
<rect x="1158.10" y="552.23" width="26.90" height="26.90" fill="#3b56a4"/>
<rect x="1187.94" y="552.23" width="26.90" height="26.90" fill="#be1826"/>
<rect x="1217.78" y="552.23" width="26.90" height="26.90" fill="#be1826"/>
<rect x="1247.62" y="552.23" width="26.90" height="26.90" fill="#be1826"/>
<rect x="1277.46" y="552.23" width="26.90" height="26.90" fill="#f88e52"/>
<rect x="1307.30" y="552.23" width="26.90" height="26.90" fill="#be1826"/>
<rect x="1337.14" y="552.23" width="26.90" height="26.90" fill="#be1826"/>
<rect x="1366.98" y="552.23" width="26.90" height="26.90" fill="#be1826"/>
<rect x="1396.82" y="552.23" width="26.90" height="26.90" fill="#fdfec2"/>
<rect x="1426.66" y="552.23" width="26.90" height="26.90" fill="#f0f9dc"/>
<rect x="1456.50" y="552.23" width="26.90" height="26.90" fill="#fec778"/>
<rect x="1486.34" y="552.23" width="26.90" height="26.90" fill="#d02927"/>
<rect x="1516.18" y="552.23" width="26.90" height="26.90" fill="#f0f9dc"/>
<rect x="1546.02" y="552.23" width="26.90" height="26.90" fill="#fec778"/>
<rect x="1575.86" y="552.23" width="26.90" height="26.90" fill="#fee090"/>
<rect x="1605.70" y="552.23" width="26.90" height="26.90" fill="#f46d43"/>
<rect x="1635.54" y="552.23" width="26.90" height="26.90" fill="#fdae61"/>
<rect x="1665.38" y="552.23" width="26.90" height="26.90" fill="#74add1"/>
<rect x="1695.22" y="552.23" width="26.90" height="26.90" fill="#90c3dd"/>
<rect x="1725.06" y="552.23" width="26.90" height="26.90" fill="#90c3dd"/>
<rect x="1754.90" y="552.23" width="26.90" height="26.90" fill="#c6e6f0"/>
<rect x="1784.74" y="552.23" width="26.90" height="26.90" fill="#5c91c2"/>
<rect x="1158.10" y="582.06" width="26.90" height="26.90" fill="#be1826"/>
<rect x="1187.94" y="582.06" width="26.90" height="26.90" fill="#abd9e9"/>
<rect x="1217.78" y="582.06" width="26.90" height="26.90" fill="#90c3dd"/>
<rect x="1247.62" y="582.06" width="26.90" height="26.90" fill="#c6e6f0"/>
<rect x="1277.46" y="582.06" width="26.90" height="26.90" fill="#abd9e9"/>
<rect x="1307.30" y="582.06" width="26.90" height="26.90" fill="#e0f3f8"/>
<rect x="1337.14" y="582.06" width="26.90" height="26.90" fill="#f0f9dc"/>
<rect x="1366.98" y="582.06" width="26.90" height="26.90" fill="#e0f3f8"/>
<rect x="1396.82" y="582.06" width="26.90" height="26.90" fill="#f0f9dc"/>
<rect x="1426.66" y="582.06" width="26.90" height="26.90" fill="#e0f3f8"/>
<rect x="1456.50" y="582.06" width="26.90" height="26.90" fill="#fef0a8"/>
<rect x="1486.34" y="582.06" width="26.90" height="26.90" fill="#f0f9dc"/>
<rect x="1516.18" y="582.06" width="26.90" height="26.90" fill="#e64f35"/>
<rect x="1546.02" y="582.06" width="26.90" height="26.90" fill="#f0f9dc"/>
<rect x="1575.86" y="582.06" width="26.90" height="26.90" fill="#f0f9dc"/>
<rect x="1605.70" y="582.06" width="26.90" height="26.90" fill="#f0f9dc"/>
<rect x="1635.54" y="582.06" width="26.90" height="26.90" fill="#f0f9dc"/>
<rect x="1665.38" y="582.06" width="26.90" height="26.90" fill="#abd9e9"/>
<rect x="1695.22" y="582.06" width="26.90" height="26.90" fill="#fef0a8"/>
<rect x="1725.06" y="582.06" width="26.90" height="26.90" fill="#f0f9dc"/>
<rect x="1754.90" y="582.06" width="26.90" height="26.90" fill="#90c3dd"/>
<rect x="1784.74" y="582.06" width="26.90" height="26.90" fill="#90c3dd"/>
<rect x="1158.10" y="611.89" width="26.90" height="26.90" fill="#d02927"/>
<rect x="1187.94" y="611.89" width="26.90" height="26.90" fill="#5c91c2"/>
<rect x="1217.78" y="611.89" width="26.90" height="26.90" fill="#5c91c2"/>
<rect x="1247.62" y="611.89" width="26.90" height="26.90" fill="#90c3dd"/>
<rect x="1277.46" y="611.89" width="26.90" height="26.90" fill="#74add1"/>
<rect x="1307.30" y="611.89" width="26.90" height="26.90" fill="#c6e6f0"/>
<rect x="1337.14" y="611.89" width="26.90" height="26.90" fill="#fdfec2"/>
<rect x="1366.98" y="611.89" width="26.90" height="26.90" fill="#c6e6f0"/>
<rect x="1396.82" y="611.89" width="26.90" height="26.90" fill="#fee090"/>
<rect x="1426.66" y="611.89" width="26.90" height="26.90" fill="#e0f3f8"/>
<rect x="1456.50" y="611.89" width="26.90" height="26.90" fill="#fdae61"/>
<rect x="1486.34" y="611.89" width="26.90" height="26.90" fill="#fee090"/>
<rect x="1516.18" y="611.89" width="26.90" height="26.90" fill="#f0f9dc"/>
<rect x="1546.02" y="611.89" width="26.90" height="26.90" fill="#e64f35"/>
<rect x="1575.86" y="611.89" width="26.90" height="26.90" fill="#e64f35"/>
<rect x="1605.70" y="611.89" width="26.90" height="26.90" fill="#fee090"/>
<rect x="1635.54" y="611.89" width="26.90" height="26.90" fill="#fdae61"/>
<rect x="1665.38" y="611.89" width="26.90" height="26.90" fill="#e0f3f8"/>
<rect x="1695.22" y="611.89" width="26.90" height="26.90" fill="#fdfec2"/>
<rect x="1725.06" y="611.89" width="26.90" height="26.90" fill="#fee090"/>
<rect x="1754.90" y="611.89" width="26.90" height="26.90" fill="#4575b4"/>
<rect x="1784.74" y="611.89" width="26.90" height="26.90" fill="#5c91c2"/>
<rect x="1158.10" y="641.72" width="26.90" height="26.90" fill="#d02927"/>
<rect x="1187.94" y="641.72" width="26.90" height="26.90" fill="#90c3dd"/>
<rect x="1217.78" y="641.72" width="26.90" height="26.90" fill="#90c3dd"/>
<rect x="1247.62" y="641.72" width="26.90" height="26.90" fill="#c6e6f0"/>
<rect x="1277.46" y="641.72" width="26.90" height="26.90" fill="#abd9e9"/>
<rect x="1307.30" y="641.72" width="26.90" height="26.90" fill="#e0f3f8"/>
<rect x="1337.14" y="641.72" width="26.90" height="26.90" fill="#fdfec2"/>
<rect x="1366.98" y="641.72" width="26.90" height="26.90" fill="#e0f3f8"/>
<rect x="1396.82" y="641.72" width="26.90" height="26.90" fill="#fdfec2"/>
<rect x="1426.66" y="641.72" width="26.90" height="26.90" fill="#fdfec2"/>
<rect x="1456.50" y="641.72" width="26.90" height="26.90" fill="#fec778"/>
<rect x="1486.34" y="641.72" width="26.90" height="26.90" fill="#fee090"/>
<rect x="1516.18" y="641.72" width="26.90" height="26.90" fill="#f0f9dc"/>
<rect x="1546.02" y="641.72" width="26.90" height="26.90" fill="#e64f35"/>
<rect x="1575.86" y="641.72" width="26.90" height="26.90" fill="#e64f35"/>
<rect x="1605.70" y="641.72" width="26.90" height="26.90" fill="#fee090"/>
<rect x="1635.54" y="641.72" width="26.90" height="26.90" fill="#fec778"/>
<rect x="1665.38" y="641.72" width="26.90" height="26.90" fill="#e0f3f8"/>
<rect x="1695.22" y="641.72" width="26.90" height="26.90" fill="#fdfec2"/>
<rect x="1725.06" y="641.72" width="26.90" height="26.90" fill="#f88e52"/>
<rect x="1754.90" y="641.72" width="26.90" height="26.90" fill="#90c3dd"/>
<rect x="1784.74" y="641.72" width="26.90" height="26.90" fill="#90c3dd"/>
<rect x="1158.10" y="671.55" width="26.90" height="26.90" fill="#d02927"/>
<rect x="1187.94" y="671.55" width="26.90" height="26.90" fill="#e0f3f8"/>
<rect x="1217.78" y="671.55" width="26.90" height="26.90" fill="#e0f3f8"/>
<rect x="1247.62" y="671.55" width="26.90" height="26.90" fill="#f0f9dc"/>
<rect x="1277.46" y="671.55" width="26.90" height="26.90" fill="#f0f9dc"/>
<rect x="1307.30" y="671.55" width="26.90" height="26.90" fill="#fef0a8"/>
<rect x="1337.14" y="671.55" width="26.90" height="26.90" fill="#fdae61"/>
<rect x="1366.98" y="671.55" width="26.90" height="26.90" fill="#fef0a8"/>
<rect x="1396.82" y="671.55" width="26.90" height="26.90" fill="#fec778"/>
<rect x="1426.66" y="671.55" width="26.90" height="26.90" fill="#f88e52"/>
<rect x="1456.50" y="671.55" width="26.90" height="26.90" fill="#e64f35"/>
<rect x="1486.34" y="671.55" width="26.90" height="26.90" fill="#e64f35"/>
<rect x="1516.18" y="671.55" width="26.90" height="26.90" fill="#f0f9dc"/>
<rect x="1546.02" y="671.55" width="26.90" height="26.90" fill="#fef0a8"/>
<rect x="1575.86" y="671.55" width="26.90" height="26.90" fill="#fef0a8"/>
<rect x="1605.70" y="671.55" width="26.90" height="26.90" fill="#d02927"/>
<rect x="1635.54" y="671.55" width="26.90" height="26.90" fill="#d02927"/>
<rect x="1665.38" y="671.55" width="26.90" height="26.90" fill="#fec778"/>
<rect x="1695.22" y="671.55" width="26.90" height="26.90" fill="#fdae61"/>
<rect x="1725.06" y="671.55" width="26.90" height="26.90" fill="#f46d43"/>
<rect x="1754.90" y="671.55" width="26.90" height="26.90" fill="#90c3dd"/>
<rect x="1784.74" y="671.55" width="26.90" height="26.90" fill="#abd9e9"/>
<rect x="1158.10" y="701.38" width="26.90" height="26.90" fill="#fec778"/>
<rect x="1187.94" y="701.38" width="26.90" height="26.90" fill="#90c3dd"/>
<rect x="1217.78" y="701.38" width="26.90" height="26.90" fill="#90c3dd"/>
<rect x="1247.62" y="701.38" width="26.90" height="26.90" fill="#be1826"/>
<rect x="1277.46" y="701.38" width="26.90" height="26.90" fill="#f46d43"/>
<rect x="1307.30" y="701.38" width="26.90" height="26.90" fill="#f0f9dc"/>
<rect x="1337.14" y="701.38" width="26.90" height="26.90" fill="#fee090"/>
<rect x="1366.98" y="701.38" width="26.90" height="26.90" fill="#e0f3f8"/>
<rect x="1396.82" y="701.38" width="26.90" height="26.90" fill="#fee090"/>
<rect x="1426.66" y="701.38" width="26.90" height="26.90" fill="#fee090"/>
<rect x="1456.50" y="701.38" width="26.90" height="26.90" fill="#fdae61"/>
<rect x="1486.34" y="701.38" width="26.90" height="26.90" fill="#fdae61"/>
<rect x="1516.18" y="701.38" width="26.90" height="26.90" fill="#f0f9dc"/>
<rect x="1546.02" y="701.38" width="26.90" height="26.90" fill="#fdae61"/>
<rect x="1575.86" y="701.38" width="26.90" height="26.90" fill="#fec778"/>
<rect x="1605.70" y="701.38" width="26.90" height="26.90" fill="#d02927"/>
<rect x="1635.54" y="701.38" width="26.90" height="26.90" fill="#e64f35"/>
<rect x="1665.38" y="701.38" width="26.90" height="26.90" fill="#fec778"/>
<rect x="1695.22" y="701.38" width="26.90" height="26.90" fill="#fef0a8"/>
<rect x="1725.06" y="701.38" width="26.90" height="26.90" fill="#fec778"/>
<rect x="1754.90" y="701.38" width="26.90" height="26.90" fill="#74add1"/>
<rect x="1784.74" y="701.38" width="26.90" height="26.90" fill="#90c3dd"/>
<rect x="1158.10" y="731.21" width="26.90" height="26.90" fill="#abd9e9"/>
<rect x="1187.94" y="731.21" width="26.90" height="26.90" fill="#4575b4"/>
<rect x="1217.78" y="731.21" width="26.90" height="26.90" fill="#4575b4"/>
<rect x="1247.62" y="731.21" width="26.90" height="26.90" fill="#f46d43"/>
<rect x="1277.46" y="731.21" width="26.90" height="26.90" fill="#f88e52"/>
<rect x="1307.30" y="731.21" width="26.90" height="26.90" fill="#74add1"/>
<rect x="1337.14" y="731.21" width="26.90" height="26.90" fill="#74add1"/>
<rect x="1366.98" y="731.21" width="26.90" height="26.90" fill="#74add1"/>
<rect x="1396.82" y="731.21" width="26.90" height="26.90" fill="#74add1"/>
<rect x="1426.66" y="731.21" width="26.90" height="26.90" fill="#90c3dd"/>
<rect x="1456.50" y="731.21" width="26.90" height="26.90" fill="#74add1"/>
<rect x="1486.34" y="731.21" width="26.90" height="26.90" fill="#90c3dd"/>
<rect x="1516.18" y="731.21" width="26.90" height="26.90" fill="#abd9e9"/>
<rect x="1546.02" y="731.21" width="26.90" height="26.90" fill="#e0f3f8"/>
<rect x="1575.86" y="731.21" width="26.90" height="26.90" fill="#e0f3f8"/>
<rect x="1605.70" y="731.21" width="26.90" height="26.90" fill="#fec778"/>
<rect x="1635.54" y="731.21" width="26.90" height="26.90" fill="#fee090"/>
<rect x="1665.38" y="731.21" width="26.90" height="26.90" fill="#fef0a8"/>
<rect x="1695.22" y="731.21" width="26.90" height="26.90" fill="#74add1"/>
<rect x="1725.06" y="731.21" width="26.90" height="26.90" fill="#90c3dd"/>
<rect x="1754.90" y="731.21" width="26.90" height="26.90" fill="#4575b4"/>
<rect x="1784.74" y="731.21" width="26.90" height="26.90" fill="#5c91c2"/>
<rect x="1158.10" y="761.04" width="26.90" height="26.90" fill="#abd9e9"/>
<rect x="1187.94" y="761.04" width="26.90" height="26.90" fill="#be1826"/>
<rect x="1217.78" y="761.04" width="26.90" height="26.90" fill="#be1826"/>
<rect x="1247.62" y="761.04" width="26.90" height="26.90" fill="#be1826"/>
<rect x="1277.46" y="761.04" width="26.90" height="26.90" fill="#f88e52"/>
<rect x="1307.30" y="761.04" width="26.90" height="26.90" fill="#abd9e9"/>
<rect x="1337.14" y="761.04" width="26.90" height="26.90" fill="#abd9e9"/>
<rect x="1366.98" y="761.04" width="26.90" height="26.90" fill="#90c3dd"/>
<rect x="1396.82" y="761.04" width="26.90" height="26.90" fill="#90c3dd"/>
<rect x="1426.66" y="761.04" width="26.90" height="26.90" fill="#90c3dd"/>
<rect x="1456.50" y="761.04" width="26.90" height="26.90" fill="#c6e6f0"/>
<rect x="1486.34" y="761.04" width="26.90" height="26.90" fill="#90c3dd"/>
<rect x="1516.18" y="761.04" width="26.90" height="26.90" fill="#fef0a8"/>
<rect x="1546.02" y="761.04" width="26.90" height="26.90" fill="#fdfec2"/>
<rect x="1575.86" y="761.04" width="26.90" height="26.90" fill="#fdfec2"/>
<rect x="1605.70" y="761.04" width="26.90" height="26.90" fill="#f88e52"/>
<rect x="1635.54" y="761.04" width="26.90" height="26.90" fill="#fdfec2"/>
<rect x="1665.38" y="761.04" width="26.90" height="26.90" fill="#74add1"/>
<rect x="1695.22" y="761.04" width="26.90" height="26.90" fill="#f46d43"/>
<rect x="1725.06" y="761.04" width="26.90" height="26.90" fill="#f0f9dc"/>
<rect x="1754.90" y="761.04" width="26.90" height="26.90" fill="#90c3dd"/>
<rect x="1784.74" y="761.04" width="26.90" height="26.90" fill="#c6e6f0"/>
<rect x="1158.10" y="790.87" width="26.90" height="26.90" fill="#abd9e9"/>
<rect x="1187.94" y="790.87" width="26.90" height="26.90" fill="#be1826"/>
<rect x="1217.78" y="790.87" width="26.90" height="26.90" fill="#be1826"/>
<rect x="1247.62" y="790.87" width="26.90" height="26.90" fill="#d02927"/>
<rect x="1277.46" y="790.87" width="26.90" height="26.90" fill="#f88e52"/>
<rect x="1307.30" y="790.87" width="26.90" height="26.90" fill="#74add1"/>
<rect x="1337.14" y="790.87" width="26.90" height="26.90" fill="#74add1"/>
<rect x="1366.98" y="790.87" width="26.90" height="26.90" fill="#74add1"/>
<rect x="1396.82" y="790.87" width="26.90" height="26.90" fill="#74add1"/>
<rect x="1426.66" y="790.87" width="26.90" height="26.90" fill="#90c3dd"/>
<rect x="1456.50" y="790.87" width="26.90" height="26.90" fill="#abd9e9"/>
<rect x="1486.34" y="790.87" width="26.90" height="26.90" fill="#90c3dd"/>
<rect x="1516.18" y="790.87" width="26.90" height="26.90" fill="#f0f9dc"/>
<rect x="1546.02" y="790.87" width="26.90" height="26.90" fill="#fec778"/>
<rect x="1575.86" y="790.87" width="26.90" height="26.90" fill="#fdae61"/>
<rect x="1605.70" y="790.87" width="26.90" height="26.90" fill="#e64f35"/>
<rect x="1635.54" y="790.87" width="26.90" height="26.90" fill="#fec778"/>
<rect x="1665.38" y="790.87" width="26.90" height="26.90" fill="#90c3dd"/>
<rect x="1695.22" y="790.87" width="26.90" height="26.90" fill="#f0f9dc"/>
<rect x="1725.06" y="790.87" width="26.90" height="26.90" fill="#fdfec2"/>
<rect x="1754.90" y="790.87" width="26.90" height="26.90" fill="#3b56a4"/>
<rect x="1784.74" y="790.87" width="26.90" height="26.90" fill="#4575b4"/>
<rect x="1158.10" y="820.70" width="26.90" height="26.90" fill="#90c3dd"/>
<rect x="1187.94" y="820.70" width="26.90" height="26.90" fill="#e64f35"/>
<rect x="1217.78" y="820.70" width="26.90" height="26.90" fill="#e64f35"/>
<rect x="1247.62" y="820.70" width="26.90" height="26.90" fill="#f46d43"/>
<rect x="1277.46" y="820.70" width="26.90" height="26.90" fill="#f46d43"/>
<rect x="1307.30" y="820.70" width="26.90" height="26.90" fill="#e0f3f8"/>
<rect x="1337.14" y="820.70" width="26.90" height="26.90" fill="#e0f3f8"/>
<rect x="1366.98" y="820.70" width="26.90" height="26.90" fill="#e0f3f8"/>
<rect x="1396.82" y="820.70" width="26.90" height="26.90" fill="#c6e6f0"/>
<rect x="1426.66" y="820.70" width="26.90" height="26.90" fill="#e0f3f8"/>
<rect x="1456.50" y="820.70" width="26.90" height="26.90" fill="#e0f3f8"/>
<rect x="1486.34" y="820.70" width="26.90" height="26.90" fill="#e0f3f8"/>
<rect x="1516.18" y="820.70" width="26.90" height="26.90" fill="#90c3dd"/>
<rect x="1546.02" y="820.70" width="26.90" height="26.90" fill="#4575b4"/>
<rect x="1575.86" y="820.70" width="26.90" height="26.90" fill="#90c3dd"/>
<rect x="1605.70" y="820.70" width="26.90" height="26.90" fill="#90c3dd"/>
<rect x="1635.54" y="820.70" width="26.90" height="26.90" fill="#74add1"/>
<rect x="1665.38" y="820.70" width="26.90" height="26.90" fill="#4575b4"/>
<rect x="1695.22" y="820.70" width="26.90" height="26.90" fill="#90c3dd"/>
<rect x="1725.06" y="820.70" width="26.90" height="26.90" fill="#3b56a4"/>
<rect x="1754.90" y="820.70" width="26.90" height="26.90" fill="#fec778"/>
<rect x="1784.74" y="820.70" width="26.90" height="26.90" fill="#e0f3f8"/>
<rect x="1158.10" y="850.53" width="26.90" height="26.90" fill="#5c91c2"/>
<rect x="1187.94" y="850.53" width="26.90" height="26.90" fill="#f46d43"/>
<rect x="1217.78" y="850.53" width="26.90" height="26.90" fill="#f46d43"/>
<rect x="1247.62" y="850.53" width="26.90" height="26.90" fill="#f88e52"/>
<rect x="1277.46" y="850.53" width="26.90" height="26.90" fill="#f88e52"/>
<rect x="1307.30" y="850.53" width="26.90" height="26.90" fill="#fec778"/>
<rect x="1337.14" y="850.53" width="26.90" height="26.90" fill="#fee090"/>
<rect x="1366.98" y="850.53" width="26.90" height="26.90" fill="#f88e52"/>
<rect x="1396.82" y="850.53" width="26.90" height="26.90" fill="#90c3dd"/>
<rect x="1426.66" y="850.53" width="26.90" height="26.90" fill="#5c91c2"/>
<rect x="1456.50" y="850.53" width="26.90" height="26.90" fill="#74add1"/>
<rect x="1486.34" y="850.53" width="26.90" height="26.90" fill="#74add1"/>
<rect x="1516.18" y="850.53" width="26.90" height="26.90" fill="#90c3dd"/>
<rect x="1546.02" y="850.53" width="26.90" height="26.90" fill="#5c91c2"/>
<rect x="1575.86" y="850.53" width="26.90" height="26.90" fill="#90c3dd"/>
<rect x="1605.70" y="850.53" width="26.90" height="26.90" fill="#90c3dd"/>
<rect x="1635.54" y="850.53" width="26.90" height="26.90" fill="#74add1"/>
<rect x="1665.38" y="850.53" width="26.90" height="26.90" fill="#5c91c2"/>
<rect x="1695.22" y="850.53" width="26.90" height="26.90" fill="#c6e6f0"/>
<rect x="1725.06" y="850.53" width="26.90" height="26.90" fill="#4575b4"/>
<rect x="1754.90" y="850.53" width="26.90" height="26.90" fill="#e0f3f8"/>
<rect x="1784.74" y="850.53" width="26.90" height="26.90" fill="#fec778"/>
<line x1="1814.14" x2="1822.64" y1="209.20" y2="209.20" stroke="#444" stroke-width="1.6"/>
<text x="1827.24" y="214.57" font-size="15" fill="#3a3a3a" text-anchor="start" stroke="#3a3a3a" stroke-width="0.2">Cluster</text>
<line x1="1814.14" x2="1822.64" y1="237.55" y2="237.55" stroke="#444" stroke-width="1.6"/>
<text x="1827.24" y="242.92" font-size="15" fill="#3a3a3a" text-anchor="start" stroke="#3a3a3a" stroke-width="0.2">PD1</text>
<line x1="1814.14" x2="1822.64" y1="267.38" y2="267.38" stroke="#444" stroke-width="1.6"/>
<text x="1827.24" y="272.75" font-size="15" fill="#3a3a3a" text-anchor="start" stroke="#3a3a3a" stroke-width="0.2">DNA1</text>
<line x1="1814.14" x2="1822.64" y1="297.21" y2="297.21" stroke="#444" stroke-width="1.6"/>
<text x="1827.24" y="302.58" font-size="15" fill="#3a3a3a" text-anchor="start" stroke="#3a3a3a" stroke-width="0.2">DNA2</text>
<line x1="1814.14" x2="1822.64" y1="327.04" y2="327.04" stroke="#444" stroke-width="1.6"/>
<text x="1827.24" y="332.41" font-size="15" fill="#3a3a3a" text-anchor="start" stroke="#3a3a3a" stroke-width="0.2">CD45RO</text>
<line x1="1814.14" x2="1822.64" y1="356.87" y2="356.87" stroke="#444" stroke-width="1.6"/>
<text x="1827.24" y="362.24" font-size="15" fill="#3a3a3a" text-anchor="start" stroke="#3a3a3a" stroke-width="0.2">CD68</text>
<line x1="1814.14" x2="1822.64" y1="386.70" y2="386.70" stroke="#444" stroke-width="1.6"/>
<text x="1827.24" y="392.07" font-size="15" fill="#3a3a3a" text-anchor="start" stroke="#3a3a3a" stroke-width="0.2">MHCII</text>
<line x1="1814.14" x2="1822.64" y1="416.53" y2="416.53" stroke="#444" stroke-width="1.6"/>
<text x="1827.24" y="421.90" font-size="15" fill="#3a3a3a" text-anchor="start" stroke="#3a3a3a" stroke-width="0.2">H3K4me3</text>
<line x1="1814.14" x2="1822.64" y1="446.36" y2="446.36" stroke="#444" stroke-width="1.6"/>
<text x="1827.24" y="451.73" font-size="15" fill="#3a3a3a" text-anchor="start" stroke="#3a3a3a" stroke-width="0.2">Histone3</text>
<line x1="1814.14" x2="1822.64" y1="476.19" y2="476.19" stroke="#444" stroke-width="1.6"/>
<text x="1827.24" y="481.56" font-size="15" fill="#3a3a3a" text-anchor="start" stroke="#3a3a3a" stroke-width="0.2">Ki67</text>
<line x1="1814.14" x2="1822.64" y1="506.02" y2="506.02" stroke="#444" stroke-width="1.6"/>
<text x="1827.24" y="511.39" font-size="15" fill="#3a3a3a" text-anchor="start" stroke="#3a3a3a" stroke-width="0.2">SMA</text>
<line x1="1814.14" x2="1822.64" y1="535.85" y2="535.85" stroke="#444" stroke-width="1.6"/>
<text x="1827.24" y="541.22" font-size="15" fill="#3a3a3a" text-anchor="start" stroke="#3a3a3a" stroke-width="0.2">PDL1</text>
<line x1="1814.14" x2="1822.64" y1="565.68" y2="565.68" stroke="#444" stroke-width="1.6"/>
<text x="1827.24" y="571.05" font-size="15" fill="#3a3a3a" text-anchor="start" stroke="#3a3a3a" stroke-width="0.2">Vimentin</text>
<line x1="1814.14" x2="1822.64" y1="595.51" y2="595.51" stroke="#444" stroke-width="1.6"/>
<text x="1827.24" y="600.88" font-size="15" fill="#3a3a3a" text-anchor="start" stroke="#3a3a3a" stroke-width="0.2">CD20</text>
<line x1="1814.14" x2="1822.64" y1="625.34" y2="625.34" stroke="#444" stroke-width="1.6"/>
<text x="1827.24" y="630.71" font-size="15" fill="#3a3a3a" text-anchor="start" stroke="#3a3a3a" stroke-width="0.2">CD3</text>
<line x1="1814.14" x2="1822.64" y1="655.17" y2="655.17" stroke="#444" stroke-width="1.6"/>
<text x="1827.24" y="660.54" font-size="15" fill="#3a3a3a" text-anchor="start" stroke="#3a3a3a" stroke-width="0.2">CD4</text>
<line x1="1814.14" x2="1822.64" y1="685.00" y2="685.00" stroke="#444" stroke-width="1.6"/>
<text x="1827.24" y="690.37" font-size="15" fill="#3a3a3a" text-anchor="start" stroke="#3a3a3a" stroke-width="0.2">CD44</text>
<line x1="1814.14" x2="1822.64" y1="714.83" y2="714.83" stroke="#444" stroke-width="1.6"/>
<text x="1827.24" y="720.20" font-size="15" fill="#3a3a3a" text-anchor="start" stroke="#3a3a3a" stroke-width="0.2">CD8a</text>
<line x1="1814.14" x2="1822.64" y1="744.66" y2="744.66" stroke="#444" stroke-width="1.6"/>
<text x="1827.24" y="750.03" font-size="15" fill="#3a3a3a" text-anchor="start" stroke="#3a3a3a" stroke-width="0.2">Col1</text>
<line x1="1814.14" x2="1822.64" y1="774.49" y2="774.49" stroke="#444" stroke-width="1.6"/>
<text x="1827.24" y="779.86" font-size="15" fill="#3a3a3a" text-anchor="start" stroke="#3a3a3a" stroke-width="0.2">ECadherin</text>
<line x1="1814.14" x2="1822.64" y1="804.32" y2="804.32" stroke="#444" stroke-width="1.6"/>
<text x="1827.24" y="809.69" font-size="15" fill="#3a3a3a" text-anchor="start" stroke="#3a3a3a" stroke-width="0.2">FoxP3</text>
<line x1="1814.14" x2="1822.64" y1="834.15" y2="834.15" stroke="#444" stroke-width="1.6"/>
<text x="1827.24" y="839.52" font-size="15" fill="#3a3a3a" text-anchor="start" stroke="#3a3a3a" stroke-width="0.2">GranzymeB</text>
<line x1="1814.14" x2="1822.64" y1="863.98" y2="863.98" stroke="#444" stroke-width="1.6"/>
<text x="1827.24" y="869.35" font-size="15" fill="#3a3a3a" text-anchor="start" stroke="#3a3a3a" stroke-width="0.2">PanKeratin</text>
<text transform="translate(1148.73,895.43) rotate(-90)" font-size="14.6" fill="#3a3a3a" text-anchor="end" stroke="#3a3a3a" stroke-width="0.2">Cluster</text>
<text transform="translate(1176.78,895.43) rotate(-90)" font-size="14.6" fill="#3a3a3a" text-anchor="end" stroke="#3a3a3a" stroke-width="0.2">PD1</text>
<text transform="translate(1206.62,895.43) rotate(-90)" font-size="14.6" fill="#3a3a3a" text-anchor="end" stroke="#3a3a3a" stroke-width="0.2">DNA1</text>
<text transform="translate(1236.46,895.43) rotate(-90)" font-size="14.6" fill="#3a3a3a" text-anchor="end" stroke="#3a3a3a" stroke-width="0.2">DNA2</text>
<text transform="translate(1266.30,895.43) rotate(-90)" font-size="14.6" fill="#3a3a3a" text-anchor="end" stroke="#3a3a3a" stroke-width="0.2">CD45RO</text>
<text transform="translate(1296.14,895.43) rotate(-90)" font-size="14.6" fill="#3a3a3a" text-anchor="end" stroke="#3a3a3a" stroke-width="0.2">CD68</text>
<text transform="translate(1325.98,895.43) rotate(-90)" font-size="14.6" fill="#3a3a3a" text-anchor="end" stroke="#3a3a3a" stroke-width="0.2">MHCII</text>
<text transform="translate(1355.82,895.43) rotate(-90)" font-size="14.6" fill="#3a3a3a" text-anchor="end" stroke="#3a3a3a" stroke-width="0.2">H3K4me3</text>
<text transform="translate(1385.66,895.43) rotate(-90)" font-size="14.6" fill="#3a3a3a" text-anchor="end" stroke="#3a3a3a" stroke-width="0.2">Histone3</text>
<text transform="translate(1415.50,895.43) rotate(-90)" font-size="14.6" fill="#3a3a3a" text-anchor="end" stroke="#3a3a3a" stroke-width="0.2">Ki67</text>
<text transform="translate(1445.34,895.43) rotate(-90)" font-size="14.6" fill="#3a3a3a" text-anchor="end" stroke="#3a3a3a" stroke-width="0.2">SMA</text>
<text transform="translate(1475.18,895.43) rotate(-90)" font-size="14.6" fill="#3a3a3a" text-anchor="end" stroke="#3a3a3a" stroke-width="0.2">PDL1</text>
<text transform="translate(1505.02,895.43) rotate(-90)" font-size="14.6" fill="#3a3a3a" text-anchor="end" stroke="#3a3a3a" stroke-width="0.2">Vimentin</text>
<text transform="translate(1534.86,895.43) rotate(-90)" font-size="14.6" fill="#3a3a3a" text-anchor="end" stroke="#3a3a3a" stroke-width="0.2">CD20</text>
<text transform="translate(1564.70,895.43) rotate(-90)" font-size="14.6" fill="#3a3a3a" text-anchor="end" stroke="#3a3a3a" stroke-width="0.2">CD3</text>
<text transform="translate(1594.54,895.43) rotate(-90)" font-size="14.6" fill="#3a3a3a" text-anchor="end" stroke="#3a3a3a" stroke-width="0.2">CD4</text>
<text transform="translate(1624.38,895.43) rotate(-90)" font-size="14.6" fill="#3a3a3a" text-anchor="end" stroke="#3a3a3a" stroke-width="0.2">CD44</text>
<text transform="translate(1654.22,895.43) rotate(-90)" font-size="14.6" fill="#3a3a3a" text-anchor="end" stroke="#3a3a3a" stroke-width="0.2">CD8a</text>
<text transform="translate(1684.06,895.43) rotate(-90)" font-size="14.6" fill="#3a3a3a" text-anchor="end" stroke="#3a3a3a" stroke-width="0.2">Col1</text>
<text transform="translate(1713.90,895.43) rotate(-90)" font-size="14.6" fill="#3a3a3a" text-anchor="end" stroke="#3a3a3a" stroke-width="0.2">ECadherin</text>
<text transform="translate(1743.74,895.43) rotate(-90)" font-size="14.6" fill="#3a3a3a" text-anchor="end" stroke="#3a3a3a" stroke-width="0.2">FoxP3</text>
<text transform="translate(1773.58,895.43) rotate(-90)" font-size="14.6" fill="#3a3a3a" text-anchor="end" stroke="#3a3a3a" stroke-width="0.2">GranzymeB</text>
<text transform="translate(1803.42,895.43) rotate(-90)" font-size="14.6" fill="#3a3a3a" text-anchor="end" stroke="#3a3a3a" stroke-width="0.2">PanKeratin</text>
<linearGradient id="nt2g" x1="0" y1="1" x2="0" y2="0"><stop offset="0.0" stop-color="#a50026"/><stop offset="0.05" stop-color="#be1826"/><stop offset="0.1" stop-color="#d73027"/><stop offset="0.15" stop-color="#e64e35"/><stop offset="0.2" stop-color="#f46d43"/><stop offset="0.25" stop-color="#f88e52"/><stop offset="0.3" stop-color="#fdae61"/><stop offset="0.35" stop-color="#fec778"/><stop offset="0.4" stop-color="#fee090"/><stop offset="0.45" stop-color="#fef0a8"/><stop offset="0.5" stop-color="#ffffbf"/><stop offset="0.55" stop-color="#f0f9dc"/><stop offset="0.6" stop-color="#e0f3f8"/><stop offset="0.65" stop-color="#c6e6f0"/><stop offset="0.7" stop-color="#abd9e9"/><stop offset="0.75" stop-color="#90c3dd"/><stop offset="0.8" stop-color="#74add1"/><stop offset="0.85" stop-color="#5c91c2"/><stop offset="0.9" stop-color="#4575b4"/><stop offset="0.95" stop-color="#3b56a4"/><stop offset="1.0" stop-color="#313695"/></linearGradient>
<rect x="992.6" y="352" width="28.6" height="440" fill="url(#nt2g)"/>
<line x1="1021.20" x2="1030.20" y1="792.00" y2="792.00" stroke="#444" stroke-width="1.6"/>
<text x="1034.20" y="797.37" font-size="15" fill="#3a3a3a" text-anchor="start" stroke="#3a3a3a" stroke-width="0.2">0.0</text>
<line x1="1021.20" x2="1030.20" y1="704.00" y2="704.00" stroke="#444" stroke-width="1.6"/>
<text x="1034.20" y="709.37" font-size="15" fill="#3a3a3a" text-anchor="start" stroke="#3a3a3a" stroke-width="0.2">0.2</text>
<line x1="1021.20" x2="1030.20" y1="616.00" y2="616.00" stroke="#444" stroke-width="1.6"/>
<text x="1034.20" y="621.37" font-size="15" fill="#3a3a3a" text-anchor="start" stroke="#3a3a3a" stroke-width="0.2">0.4</text>
<line x1="1021.20" x2="1030.20" y1="528.00" y2="528.00" stroke="#444" stroke-width="1.6"/>
<text x="1034.20" y="533.37" font-size="15" fill="#3a3a3a" text-anchor="start" stroke="#3a3a3a" stroke-width="0.2">0.6</text>
<line x1="1021.20" x2="1030.20" y1="440.00" y2="440.00" stroke="#444" stroke-width="1.6"/>
<text x="1034.20" y="445.37" font-size="15" fill="#3a3a3a" text-anchor="start" stroke="#3a3a3a" stroke-width="0.2">0.8</text>
<line x1="1021.20" x2="1030.20" y1="352.00" y2="352.00" stroke="#444" stroke-width="1.6"/>
<text x="1034.20" y="357.37" font-size="15" fill="#3a3a3a" text-anchor="start" stroke="#3a3a3a" stroke-width="0.2">1.0</text>
<text transform="translate(1080.85,575.00) rotate(-90)" font-size="27.5" fill="#222" text-anchor="middle" >Distance</text>
<text transform="translate(1933.25,555.20) rotate(-90)" font-size="27.5" fill="#222" text-anchor="middle" >Marker</text>
<text x="1442.70" y="997.20" font-size="27.5" fill="#222" text-anchor="start" >Marker</text>
<text x="1442.30" y="66.20" font-size="82" fill="#000" letter-spacing="-2.6">NT2</text>
<rect x="1098.6" y="98.3" width="775" height="26.6" rx="3" fill="#eaeaf0" stroke="#dcdce2" stroke-width="1.2"/>
<rect x="1104.50" y="104.40" width="30" height="9.5" fill="#10f010"/>
<text x="1146.00" y="116.17" font-size="15" fill="#2a2a2a" text-anchor="start" stroke="#2a2a2a" stroke-width="0.3">Cluster 1</text>
<rect x="1236.40" y="104.40" width="30" height="9.5" fill="#ffa500"/>
<text x="1277.90" y="116.17" font-size="15" fill="#2a2a2a" text-anchor="start" stroke="#2a2a2a" stroke-width="0.3">Cluster 2</text>
<rect x="1368.30" y="104.40" width="30" height="9.5" fill="#0a0af0"/>
<text x="1409.80" y="116.17" font-size="15" fill="#2a2a2a" text-anchor="start" stroke="#2a2a2a" stroke-width="0.3">Cluster 3</text>
<rect x="1500.20" y="104.40" width="30" height="9.5" fill="#f50a0a"/>
<text x="1541.70" y="116.17" font-size="15" fill="#2a2a2a" text-anchor="start" stroke="#2a2a2a" stroke-width="0.3">Cluster 4</text>
<rect x="1632.10" y="104.40" width="30" height="9.5" fill="#4b0082"/>
<text x="1673.60" y="116.17" font-size="15" fill="#2a2a2a" text-anchor="start" stroke="#2a2a2a" stroke-width="0.3">Cluster 5</text>
<rect x="1764.00" y="104.40" width="30" height="9.5" fill="#66cdaa"/>
<text x="1805.50" y="116.17" font-size="15" fill="#2a2a2a" text-anchor="start" stroke="#2a2a2a" stroke-width="0.3">Cluster 6</text>
<rect x="2130.30" y="191.50" width="31.00" height="22.70" fill="#00ffff"/>
<rect x="2164.86" y="191.50" width="31.00" height="22.70" fill="#00f500"/>
<rect x="2199.42" y="191.50" width="31.00" height="22.70" fill="#800080"/>
<rect x="2233.98" y="191.50" width="31.00" height="22.70" fill="#00f500"/>
<rect x="2268.54" y="191.50" width="31.00" height="22.70" fill="#00f500"/>
<rect x="2303.10" y="191.50" width="31.00" height="22.70" fill="#000088"/>
<rect x="2337.66" y="191.50" width="31.00" height="22.70" fill="#ff0000"/>
<rect x="2372.22" y="191.50" width="31.00" height="22.70" fill="#000088"/>
<rect x="2406.78" y="191.50" width="31.00" height="22.70" fill="#000088"/>
<rect x="2441.34" y="191.50" width="31.00" height="22.70" fill="#ff0000"/>
<rect x="2475.90" y="191.50" width="31.00" height="22.70" fill="#000088"/>
<rect x="2510.46" y="191.50" width="31.00" height="22.70" fill="#00f500"/>
<rect x="2545.02" y="191.50" width="31.00" height="22.70" fill="#800080"/>
<rect x="2579.58" y="191.50" width="31.00" height="22.70" fill="#ffd700"/>
<rect x="2614.14" y="191.50" width="31.00" height="22.70" fill="#ffd700"/>
<rect x="2648.70" y="191.50" width="31.00" height="22.70" fill="#800080"/>
<rect x="2683.26" y="191.50" width="31.00" height="22.70" fill="#ffd700"/>
<rect x="2717.82" y="191.50" width="31.00" height="22.70" fill="#800080"/>
<rect x="2752.38" y="191.50" width="31.00" height="22.70" fill="#ff0000"/>
<rect x="2104.30" y="218.00" width="23.00" height="31.30" fill="#00ffff"/>
<rect x="2104.30" y="252.32" width="23.00" height="31.30" fill="#00f500"/>
<rect x="2104.30" y="286.64" width="23.00" height="31.30" fill="#800080"/>
<rect x="2104.30" y="320.96" width="23.00" height="31.30" fill="#00f500"/>
<rect x="2104.30" y="355.28" width="23.00" height="31.30" fill="#00f500"/>
<rect x="2104.30" y="389.60" width="23.00" height="31.30" fill="#000088"/>
<rect x="2104.30" y="423.92" width="23.00" height="31.30" fill="#ff0000"/>
<rect x="2104.30" y="458.24" width="23.00" height="31.30" fill="#000088"/>
<rect x="2104.30" y="492.56" width="23.00" height="31.30" fill="#000088"/>
<rect x="2104.30" y="526.88" width="23.00" height="31.30" fill="#ff0000"/>
<rect x="2104.30" y="561.20" width="23.00" height="31.30" fill="#000088"/>
<rect x="2104.30" y="595.52" width="23.00" height="31.30" fill="#00f500"/>
<rect x="2104.30" y="629.84" width="23.00" height="31.30" fill="#800080"/>
<rect x="2104.30" y="664.16" width="23.00" height="31.30" fill="#ffd700"/>
<rect x="2104.30" y="698.48" width="23.00" height="31.30" fill="#ffd700"/>
<rect x="2104.30" y="732.80" width="23.00" height="31.30" fill="#800080"/>
<rect x="2104.30" y="767.12" width="23.00" height="31.30" fill="#ffd700"/>
<rect x="2104.30" y="801.44" width="23.00" height="31.30" fill="#800080"/>
<rect x="2104.30" y="835.76" width="23.00" height="31.30" fill="#ff0000"/>
<rect x="2130.30" y="218.00" width="31.00" height="31.30" fill="#f46d43"/>
<rect x="2164.86" y="218.00" width="31.00" height="31.30" fill="#abd9e9"/>
<rect x="2199.42" y="218.00" width="31.00" height="31.30" fill="#abd9e9"/>
<rect x="2233.98" y="218.00" width="31.00" height="31.30" fill="#abd9e9"/>
<rect x="2268.54" y="218.00" width="31.00" height="31.30" fill="#abd9e9"/>
<rect x="2303.10" y="218.00" width="31.00" height="31.30" fill="#4575b4"/>
<rect x="2337.66" y="218.00" width="31.00" height="31.30" fill="#313695"/>
<rect x="2372.22" y="218.00" width="31.00" height="31.30" fill="#313695"/>
<rect x="2406.78" y="218.00" width="31.00" height="31.30" fill="#5c91c2"/>
<rect x="2441.34" y="218.00" width="31.00" height="31.30" fill="#4575b4"/>
<rect x="2475.90" y="218.00" width="31.00" height="31.30" fill="#5c91c2"/>
<rect x="2510.46" y="218.00" width="31.00" height="31.30" fill="#5c91c2"/>
<rect x="2545.02" y="218.00" width="31.00" height="31.30" fill="#5c91c2"/>
<rect x="2579.58" y="218.00" width="31.00" height="31.30" fill="#4575b4"/>
<rect x="2614.14" y="218.00" width="31.00" height="31.30" fill="#4575b4"/>
<rect x="2648.70" y="218.00" width="31.00" height="31.30" fill="#4575b4"/>
<rect x="2683.26" y="218.00" width="31.00" height="31.30" fill="#4575b4"/>
<rect x="2717.82" y="218.00" width="31.00" height="31.30" fill="#fdfec2"/>
<rect x="2752.38" y="218.00" width="31.00" height="31.30" fill="#abd9e9"/>
<rect x="2130.30" y="252.32" width="31.00" height="31.30" fill="#abd9e9"/>
<rect x="2164.86" y="252.32" width="31.00" height="31.30" fill="#e64f35"/>
<rect x="2199.42" y="252.32" width="31.00" height="31.30" fill="#f46d43"/>
<rect x="2233.98" y="252.32" width="31.00" height="31.30" fill="#e64f35"/>
<rect x="2268.54" y="252.32" width="31.00" height="31.30" fill="#e64f35"/>
<rect x="2303.10" y="252.32" width="31.00" height="31.30" fill="#fef0a8"/>
<rect x="2337.66" y="252.32" width="31.00" height="31.30" fill="#abd9e9"/>
<rect x="2372.22" y="252.32" width="31.00" height="31.30" fill="#abd9e9"/>
<rect x="2406.78" y="252.32" width="31.00" height="31.30" fill="#fdfec2"/>
<rect x="2441.34" y="252.32" width="31.00" height="31.30" fill="#e0f3f8"/>
<rect x="2475.90" y="252.32" width="31.00" height="31.30" fill="#fef0a8"/>
<rect x="2510.46" y="252.32" width="31.00" height="31.30" fill="#fee090"/>
<rect x="2545.02" y="252.32" width="31.00" height="31.30" fill="#fee090"/>
<rect x="2579.58" y="252.32" width="31.00" height="31.30" fill="#e0f3f8"/>
<rect x="2614.14" y="252.32" width="31.00" height="31.30" fill="#e0f3f8"/>
<rect x="2648.70" y="252.32" width="31.00" height="31.30" fill="#f0f9dc"/>
<rect x="2683.26" y="252.32" width="31.00" height="31.30" fill="#f0f9dc"/>
<rect x="2717.82" y="252.32" width="31.00" height="31.30" fill="#b20c26"/>
<rect x="2752.38" y="252.32" width="31.00" height="31.30" fill="#fec778"/>
<rect x="2130.30" y="286.64" width="31.00" height="31.30" fill="#abd9e9"/>
<rect x="2164.86" y="286.64" width="31.00" height="31.30" fill="#f46d43"/>
<rect x="2199.42" y="286.64" width="31.00" height="31.30" fill="#d02927"/>
<rect x="2233.98" y="286.64" width="31.00" height="31.30" fill="#f46d43"/>
<rect x="2268.54" y="286.64" width="31.00" height="31.30" fill="#f46d43"/>
<rect x="2303.10" y="286.64" width="31.00" height="31.30" fill="#fee090"/>
<rect x="2337.66" y="286.64" width="31.00" height="31.30" fill="#abd9e9"/>
<rect x="2372.22" y="286.64" width="31.00" height="31.30" fill="#c6e6f0"/>
<rect x="2406.78" y="286.64" width="31.00" height="31.30" fill="#fdfec2"/>
<rect x="2441.34" y="286.64" width="31.00" height="31.30" fill="#f0f9dc"/>
<rect x="2475.90" y="286.64" width="31.00" height="31.30" fill="#fdae61"/>
<rect x="2510.46" y="286.64" width="31.00" height="31.30" fill="#fdae61"/>
<rect x="2545.02" y="286.64" width="31.00" height="31.30" fill="#fec778"/>
<rect x="2579.58" y="286.64" width="31.00" height="31.30" fill="#f0f9dc"/>
<rect x="2614.14" y="286.64" width="31.00" height="31.30" fill="#f0f9dc"/>
<rect x="2648.70" y="286.64" width="31.00" height="31.30" fill="#fdfec2"/>
<rect x="2683.26" y="286.64" width="31.00" height="31.30" fill="#fdfec2"/>
<rect x="2717.82" y="286.64" width="31.00" height="31.30" fill="#fee090"/>
<rect x="2752.38" y="286.64" width="31.00" height="31.30" fill="#f0f9dc"/>
<rect x="2130.30" y="320.96" width="31.00" height="31.30" fill="#abd9e9"/>
<rect x="2164.86" y="320.96" width="31.00" height="31.30" fill="#e64f35"/>
<rect x="2199.42" y="320.96" width="31.00" height="31.30" fill="#f46d43"/>
<rect x="2233.98" y="320.96" width="31.00" height="31.30" fill="#d02927"/>
<rect x="2268.54" y="320.96" width="31.00" height="31.30" fill="#e64f35"/>
<rect x="2303.10" y="320.96" width="31.00" height="31.30" fill="#fdfec2"/>
<rect x="2337.66" y="320.96" width="31.00" height="31.30" fill="#abd9e9"/>
<rect x="2372.22" y="320.96" width="31.00" height="31.30" fill="#abd9e9"/>
<rect x="2406.78" y="320.96" width="31.00" height="31.30" fill="#fdfec2"/>
<rect x="2441.34" y="320.96" width="31.00" height="31.30" fill="#e0f3f8"/>
<rect x="2475.90" y="320.96" width="31.00" height="31.30" fill="#fec778"/>
<rect x="2510.46" y="320.96" width="31.00" height="31.30" fill="#fec778"/>
<rect x="2545.02" y="320.96" width="31.00" height="31.30" fill="#fec778"/>
<rect x="2579.58" y="320.96" width="31.00" height="31.30" fill="#e0f3f8"/>
<rect x="2614.14" y="320.96" width="31.00" height="31.30" fill="#e0f3f8"/>
<rect x="2648.70" y="320.96" width="31.00" height="31.30" fill="#fdfec2"/>
<rect x="2683.26" y="320.96" width="31.00" height="31.30" fill="#f0f9dc"/>
<rect x="2717.82" y="320.96" width="31.00" height="31.30" fill="#fee090"/>
<rect x="2752.38" y="320.96" width="31.00" height="31.30" fill="#e0f3f8"/>
<rect x="2130.30" y="355.28" width="31.00" height="31.30" fill="#abd9e9"/>
<rect x="2164.86" y="355.28" width="31.00" height="31.30" fill="#e64f35"/>
<rect x="2199.42" y="355.28" width="31.00" height="31.30" fill="#f46d43"/>
<rect x="2233.98" y="355.28" width="31.00" height="31.30" fill="#e64f35"/>
<rect x="2268.54" y="355.28" width="31.00" height="31.30" fill="#d02927"/>
<rect x="2303.10" y="355.28" width="31.00" height="31.30" fill="#fef0a8"/>
<rect x="2337.66" y="355.28" width="31.00" height="31.30" fill="#74add1"/>
<rect x="2372.22" y="355.28" width="31.00" height="31.30" fill="#abd9e9"/>
<rect x="2406.78" y="355.28" width="31.00" height="31.30" fill="#f0f9dc"/>
<rect x="2441.34" y="355.28" width="31.00" height="31.30" fill="#e0f3f8"/>
<rect x="2475.90" y="355.28" width="31.00" height="31.30" fill="#fec778"/>
<rect x="2510.46" y="355.28" width="31.00" height="31.30" fill="#fec778"/>
<rect x="2545.02" y="355.28" width="31.00" height="31.30" fill="#fee090"/>
<rect x="2579.58" y="355.28" width="31.00" height="31.30" fill="#e0f3f8"/>
<rect x="2614.14" y="355.28" width="31.00" height="31.30" fill="#e0f3f8"/>
<rect x="2648.70" y="355.28" width="31.00" height="31.30" fill="#f0f9dc"/>
<rect x="2683.26" y="355.28" width="31.00" height="31.30" fill="#e0f3f8"/>
<rect x="2717.82" y="355.28" width="31.00" height="31.30" fill="#fee090"/>
<rect x="2752.38" y="355.28" width="31.00" height="31.30" fill="#e0f3f8"/>
<rect x="2130.30" y="389.60" width="31.00" height="31.30" fill="#4575b4"/>
<rect x="2164.86" y="389.60" width="31.00" height="31.30" fill="#fef0a8"/>
<rect x="2199.42" y="389.60" width="31.00" height="31.30" fill="#fee090"/>
<rect x="2233.98" y="389.60" width="31.00" height="31.30" fill="#fef0a8"/>
<rect x="2268.54" y="389.60" width="31.00" height="31.30" fill="#fef0a8"/>
<rect x="2303.10" y="389.60" width="31.00" height="31.30" fill="#e64f35"/>
<rect x="2337.66" y="389.60" width="31.00" height="31.30" fill="#e0f3f8"/>
<rect x="2372.22" y="389.60" width="31.00" height="31.30" fill="#fef0a8"/>
<rect x="2406.78" y="389.60" width="31.00" height="31.30" fill="#e0f3f8"/>
<rect x="2441.34" y="389.60" width="31.00" height="31.30" fill="#e0f3f8"/>
<rect x="2475.90" y="389.60" width="31.00" height="31.30" fill="#c6e6f0"/>
<rect x="2510.46" y="389.60" width="31.00" height="31.30" fill="#c6e6f0"/>
<rect x="2545.02" y="389.60" width="31.00" height="31.30" fill="#c6e6f0"/>
<rect x="2579.58" y="389.60" width="31.00" height="31.30" fill="#be1826"/>
<rect x="2614.14" y="389.60" width="31.00" height="31.30" fill="#be1826"/>
<rect x="2648.70" y="389.60" width="31.00" height="31.30" fill="#c6e6f0"/>
<rect x="2683.26" y="389.60" width="31.00" height="31.30" fill="#c6e6f0"/>
<rect x="2717.82" y="389.60" width="31.00" height="31.30" fill="#e64f35"/>
<rect x="2752.38" y="389.60" width="31.00" height="31.30" fill="#f88e52"/>
<rect x="2130.30" y="423.92" width="31.00" height="31.30" fill="#313695"/>
<rect x="2164.86" y="423.92" width="31.00" height="31.30" fill="#90c3dd"/>
<rect x="2199.42" y="423.92" width="31.00" height="31.30" fill="#90c3dd"/>
<rect x="2233.98" y="423.92" width="31.00" height="31.30" fill="#90c3dd"/>
<rect x="2268.54" y="423.92" width="31.00" height="31.30" fill="#74add1"/>
<rect x="2303.10" y="423.92" width="31.00" height="31.30" fill="#e0f3f8"/>
<rect x="2337.66" y="423.92" width="31.00" height="31.30" fill="#f46d43"/>
<rect x="2372.22" y="423.92" width="31.00" height="31.30" fill="#fee090"/>
<rect x="2406.78" y="423.92" width="31.00" height="31.30" fill="#e0f3f8"/>
<rect x="2441.34" y="423.92" width="31.00" height="31.30" fill="#f0f9dc"/>
<rect x="2475.90" y="423.92" width="31.00" height="31.30" fill="#c6e6f0"/>
<rect x="2510.46" y="423.92" width="31.00" height="31.30" fill="#e0f3f8"/>
<rect x="2545.02" y="423.92" width="31.00" height="31.30" fill="#e0f3f8"/>
<rect x="2579.58" y="423.92" width="31.00" height="31.30" fill="#be1826"/>
<rect x="2614.14" y="423.92" width="31.00" height="31.30" fill="#be1826"/>
<rect x="2648.70" y="423.92" width="31.00" height="31.30" fill="#f88e52"/>
<rect x="2683.26" y="423.92" width="31.00" height="31.30" fill="#e0f3f8"/>
<rect x="2717.82" y="423.92" width="31.00" height="31.30" fill="#fee090"/>
<rect x="2752.38" y="423.92" width="31.00" height="31.30" fill="#f88e52"/>
<rect x="2130.30" y="458.24" width="31.00" height="31.30" fill="#313695"/>
<rect x="2164.86" y="458.24" width="31.00" height="31.30" fill="#abd9e9"/>
<rect x="2199.42" y="458.24" width="31.00" height="31.30" fill="#c6e6f0"/>
<rect x="2233.98" y="458.24" width="31.00" height="31.30" fill="#abd9e9"/>
<rect x="2268.54" y="458.24" width="31.00" height="31.30" fill="#90c3dd"/>
<rect x="2303.10" y="458.24" width="31.00" height="31.30" fill="#fef0a8"/>
<rect x="2337.66" y="458.24" width="31.00" height="31.30" fill="#fee090"/>
<rect x="2372.22" y="458.24" width="31.00" height="31.30" fill="#f88e52"/>
<rect x="2406.78" y="458.24" width="31.00" height="31.30" fill="#5c91c2"/>
<rect x="2441.34" y="458.24" width="31.00" height="31.30" fill="#74add1"/>
<rect x="2475.90" y="458.24" width="31.00" height="31.30" fill="#f0f9dc"/>
<rect x="2510.46" y="458.24" width="31.00" height="31.30" fill="#5c91c2"/>
<rect x="2545.02" y="458.24" width="31.00" height="31.30" fill="#5c91c2"/>
<rect x="2579.58" y="458.24" width="31.00" height="31.30" fill="#e64f35"/>
<rect x="2614.14" y="458.24" width="31.00" height="31.30" fill="#e64f35"/>
<rect x="2648.70" y="458.24" width="31.00" height="31.30" fill="#f88e52"/>
<rect x="2683.26" y="458.24" width="31.00" height="31.30" fill="#f46d43"/>
<rect x="2717.82" y="458.24" width="31.00" height="31.30" fill="#fee090"/>
<rect x="2752.38" y="458.24" width="31.00" height="31.30" fill="#fee090"/>
<rect x="2130.30" y="492.56" width="31.00" height="31.30" fill="#4575b4"/>
<rect x="2164.86" y="492.56" width="31.00" height="31.30" fill="#fdfec2"/>
<rect x="2199.42" y="492.56" width="31.00" height="31.30" fill="#fdfec2"/>
<rect x="2233.98" y="492.56" width="31.00" height="31.30" fill="#fdfec2"/>
<rect x="2268.54" y="492.56" width="31.00" height="31.30" fill="#f0f9dc"/>
<rect x="2303.10" y="492.56" width="31.00" height="31.30" fill="#e0f3f8"/>
<rect x="2337.66" y="492.56" width="31.00" height="31.30" fill="#e0f3f8"/>
<rect x="2372.22" y="492.56" width="31.00" height="31.30" fill="#5c91c2"/>
<rect x="2406.78" y="492.56" width="31.00" height="31.30" fill="#fdae61"/>
<rect x="2441.34" y="492.56" width="31.00" height="31.30" fill="#fef0a8"/>
<rect x="2475.90" y="492.56" width="31.00" height="31.30" fill="#fef0a8"/>
<rect x="2510.46" y="492.56" width="31.00" height="31.30" fill="#f88e52"/>
<rect x="2545.02" y="492.56" width="31.00" height="31.30" fill="#fef0a8"/>
<rect x="2579.58" y="492.56" width="31.00" height="31.30" fill="#be1826"/>
<rect x="2614.14" y="492.56" width="31.00" height="31.30" fill="#be1826"/>
<rect x="2648.70" y="492.56" width="31.00" height="31.30" fill="#e64f35"/>
<rect x="2683.26" y="492.56" width="31.00" height="31.30" fill="#f46d43"/>
<rect x="2717.82" y="492.56" width="31.00" height="31.30" fill="#f88e52"/>
<rect x="2752.38" y="492.56" width="31.00" height="31.30" fill="#fee090"/>
<rect x="2130.30" y="526.88" width="31.00" height="31.30" fill="#4575b4"/>
<rect x="2164.86" y="526.88" width="31.00" height="31.30" fill="#e0f3f8"/>
<rect x="2199.42" y="526.88" width="31.00" height="31.30" fill="#f0f9dc"/>
<rect x="2233.98" y="526.88" width="31.00" height="31.30" fill="#e0f3f8"/>
<rect x="2268.54" y="526.88" width="31.00" height="31.30" fill="#e0f3f8"/>
<rect x="2303.10" y="526.88" width="31.00" height="31.30" fill="#e0f3f8"/>
<rect x="2337.66" y="526.88" width="31.00" height="31.30" fill="#f0f9dc"/>
<rect x="2372.22" y="526.88" width="31.00" height="31.30" fill="#90c3dd"/>
<rect x="2406.78" y="526.88" width="31.00" height="31.30" fill="#fdfec2"/>
<rect x="2441.34" y="526.88" width="31.00" height="31.30" fill="#d02927"/>
<rect x="2475.90" y="526.88" width="31.00" height="31.30" fill="#fdfec2"/>
<rect x="2510.46" y="526.88" width="31.00" height="31.30" fill="#fec778"/>
<rect x="2545.02" y="526.88" width="31.00" height="31.30" fill="#fee090"/>
<rect x="2579.58" y="526.88" width="31.00" height="31.30" fill="#be1826"/>
<rect x="2614.14" y="526.88" width="31.00" height="31.30" fill="#be1826"/>
<rect x="2648.70" y="526.88" width="31.00" height="31.30" fill="#e64f35"/>
<rect x="2683.26" y="526.88" width="31.00" height="31.30" fill="#d02927"/>
<rect x="2717.82" y="526.88" width="31.00" height="31.30" fill="#f88e52"/>
<rect x="2752.38" y="526.88" width="31.00" height="31.30" fill="#fec778"/>
<rect x="2130.30" y="561.20" width="31.00" height="31.30" fill="#5c91c2"/>
<rect x="2164.86" y="561.20" width="31.00" height="31.30" fill="#fef0a8"/>
<rect x="2199.42" y="561.20" width="31.00" height="31.30" fill="#f88e52"/>
<rect x="2233.98" y="561.20" width="31.00" height="31.30" fill="#fec778"/>
<rect x="2268.54" y="561.20" width="31.00" height="31.30" fill="#fec778"/>
<rect x="2303.10" y="561.20" width="31.00" height="31.30" fill="#abd9e9"/>
<rect x="2337.66" y="561.20" width="31.00" height="31.30" fill="#c6e6f0"/>
<rect x="2372.22" y="561.20" width="31.00" height="31.30" fill="#f0f9dc"/>
<rect x="2406.78" y="561.20" width="31.00" height="31.30" fill="#fef0a8"/>
<rect x="2441.34" y="561.20" width="31.00" height="31.30" fill="#fdfec2"/>
<rect x="2475.90" y="561.20" width="31.00" height="31.30" fill="#f46d43"/>
<rect x="2510.46" y="561.20" width="31.00" height="31.30" fill="#fec778"/>
<rect x="2545.02" y="561.20" width="31.00" height="31.30" fill="#fee090"/>
<rect x="2579.58" y="561.20" width="31.00" height="31.30" fill="#b20c26"/>
<rect x="2614.14" y="561.20" width="31.00" height="31.30" fill="#b20c26"/>
<rect x="2648.70" y="561.20" width="31.00" height="31.30" fill="#be1826"/>
<rect x="2683.26" y="561.20" width="31.00" height="31.30" fill="#b20c26"/>
<rect x="2717.82" y="561.20" width="31.00" height="31.30" fill="#d02927"/>
<rect x="2752.38" y="561.20" width="31.00" height="31.30" fill="#fec778"/>
<rect x="2130.30" y="595.52" width="31.00" height="31.30" fill="#5c91c2"/>
<rect x="2164.86" y="595.52" width="31.00" height="31.30" fill="#fee090"/>
<rect x="2199.42" y="595.52" width="31.00" height="31.30" fill="#fdae61"/>
<rect x="2233.98" y="595.52" width="31.00" height="31.30" fill="#fec778"/>
<rect x="2268.54" y="595.52" width="31.00" height="31.30" fill="#fec778"/>
<rect x="2303.10" y="595.52" width="31.00" height="31.30" fill="#c6e6f0"/>
<rect x="2337.66" y="595.52" width="31.00" height="31.30" fill="#c6e6f0"/>
<rect x="2372.22" y="595.52" width="31.00" height="31.30" fill="#5c91c2"/>
<rect x="2406.78" y="595.52" width="31.00" height="31.30" fill="#f88e52"/>
<rect x="2441.34" y="595.52" width="31.00" height="31.30" fill="#fdae61"/>
<rect x="2475.90" y="595.52" width="31.00" height="31.30" fill="#fdae61"/>
<rect x="2510.46" y="595.52" width="31.00" height="31.30" fill="#d02927"/>
<rect x="2545.02" y="595.52" width="31.00" height="31.30" fill="#e64f35"/>
<rect x="2579.58" y="595.52" width="31.00" height="31.30" fill="#b20c26"/>
<rect x="2614.14" y="595.52" width="31.00" height="31.30" fill="#b20c26"/>
<rect x="2648.70" y="595.52" width="31.00" height="31.30" fill="#be1826"/>
<rect x="2683.26" y="595.52" width="31.00" height="31.30" fill="#be1826"/>
<rect x="2717.82" y="595.52" width="31.00" height="31.30" fill="#d02927"/>
<rect x="2752.38" y="595.52" width="31.00" height="31.30" fill="#fec778"/>
<rect x="2130.30" y="629.84" width="31.00" height="31.30" fill="#5c91c2"/>
<rect x="2164.86" y="629.84" width="31.00" height="31.30" fill="#fee090"/>
<rect x="2199.42" y="629.84" width="31.00" height="31.30" fill="#fec778"/>
<rect x="2233.98" y="629.84" width="31.00" height="31.30" fill="#fee090"/>
<rect x="2268.54" y="629.84" width="31.00" height="31.30" fill="#fee090"/>
<rect x="2303.10" y="629.84" width="31.00" height="31.30" fill="#c6e6f0"/>
<rect x="2337.66" y="629.84" width="31.00" height="31.30" fill="#e0f3f8"/>
<rect x="2372.22" y="629.84" width="31.00" height="31.30" fill="#5c91c2"/>
<rect x="2406.78" y="629.84" width="31.00" height="31.30" fill="#fef0a8"/>
<rect x="2441.34" y="629.84" width="31.00" height="31.30" fill="#fef0a8"/>
<rect x="2475.90" y="629.84" width="31.00" height="31.30" fill="#fee090"/>
<rect x="2510.46" y="629.84" width="31.00" height="31.30" fill="#e64f35"/>
<rect x="2545.02" y="629.84" width="31.00" height="31.30" fill="#d02927"/>
<rect x="2579.58" y="629.84" width="31.00" height="31.30" fill="#b20c26"/>
<rect x="2614.14" y="629.84" width="31.00" height="31.30" fill="#b20c26"/>
<rect x="2648.70" y="629.84" width="31.00" height="31.30" fill="#d02927"/>
<rect x="2683.26" y="629.84" width="31.00" height="31.30" fill="#d02927"/>
<rect x="2717.82" y="629.84" width="31.00" height="31.30" fill="#d02927"/>
<rect x="2752.38" y="629.84" width="31.00" height="31.30" fill="#fee090"/>
<rect x="2130.30" y="664.16" width="31.00" height="31.30" fill="#4575b4"/>
<rect x="2164.86" y="664.16" width="31.00" height="31.30" fill="#e0f3f8"/>
<rect x="2199.42" y="664.16" width="31.00" height="31.30" fill="#f0f9dc"/>
<rect x="2233.98" y="664.16" width="31.00" height="31.30" fill="#e0f3f8"/>
<rect x="2268.54" y="664.16" width="31.00" height="31.30" fill="#e0f3f8"/>
<rect x="2303.10" y="664.16" width="31.00" height="31.30" fill="#be1826"/>
<rect x="2337.66" y="664.16" width="31.00" height="31.30" fill="#be1826"/>
<rect x="2372.22" y="664.16" width="31.00" height="31.30" fill="#e64f35"/>
<rect x="2406.78" y="664.16" width="31.00" height="31.30" fill="#be1826"/>
<rect x="2441.34" y="664.16" width="31.00" height="31.30" fill="#be1826"/>
<rect x="2475.90" y="664.16" width="31.00" height="31.30" fill="#b20c26"/>
<rect x="2510.46" y="664.16" width="31.00" height="31.30" fill="#b20c26"/>
<rect x="2545.02" y="664.16" width="31.00" height="31.30" fill="#be1826"/>
<rect x="2579.58" y="664.16" width="31.00" height="31.30" fill="#be1826"/>
<rect x="2614.14" y="664.16" width="31.00" height="31.30" fill="#be1826"/>
<rect x="2648.70" y="664.16" width="31.00" height="31.30" fill="#be1826"/>
<rect x="2683.26" y="664.16" width="31.00" height="31.30" fill="#be1826"/>
<rect x="2717.82" y="664.16" width="31.00" height="31.30" fill="#fdae61"/>
<rect x="2752.38" y="664.16" width="31.00" height="31.30" fill="#fef0a8"/>
<rect x="2130.30" y="698.48" width="31.00" height="31.30" fill="#4575b4"/>
<rect x="2164.86" y="698.48" width="31.00" height="31.30" fill="#e0f3f8"/>
<rect x="2199.42" y="698.48" width="31.00" height="31.30" fill="#f0f9dc"/>
<rect x="2233.98" y="698.48" width="31.00" height="31.30" fill="#e0f3f8"/>
<rect x="2268.54" y="698.48" width="31.00" height="31.30" fill="#e0f3f8"/>
<rect x="2303.10" y="698.48" width="31.00" height="31.30" fill="#be1826"/>
<rect x="2337.66" y="698.48" width="31.00" height="31.30" fill="#be1826"/>
<rect x="2372.22" y="698.48" width="31.00" height="31.30" fill="#e64f35"/>
<rect x="2406.78" y="698.48" width="31.00" height="31.30" fill="#be1826"/>
<rect x="2441.34" y="698.48" width="31.00" height="31.30" fill="#be1826"/>
<rect x="2475.90" y="698.48" width="31.00" height="31.30" fill="#b20c26"/>
<rect x="2510.46" y="698.48" width="31.00" height="31.30" fill="#b20c26"/>
<rect x="2545.02" y="698.48" width="31.00" height="31.30" fill="#be1826"/>
<rect x="2579.58" y="698.48" width="31.00" height="31.30" fill="#be1826"/>
<rect x="2614.14" y="698.48" width="31.00" height="31.30" fill="#be1826"/>
<rect x="2648.70" y="698.48" width="31.00" height="31.30" fill="#be1826"/>
<rect x="2683.26" y="698.48" width="31.00" height="31.30" fill="#be1826"/>
<rect x="2717.82" y="698.48" width="31.00" height="31.30" fill="#fdae61"/>
<rect x="2752.38" y="698.48" width="31.00" height="31.30" fill="#fef0a8"/>
<rect x="2130.30" y="732.80" width="31.00" height="31.30" fill="#4575b4"/>
<rect x="2164.86" y="732.80" width="31.00" height="31.30" fill="#f0f9dc"/>
<rect x="2199.42" y="732.80" width="31.00" height="31.30" fill="#fdfec2"/>
<rect x="2233.98" y="732.80" width="31.00" height="31.30" fill="#fdfec2"/>
<rect x="2268.54" y="732.80" width="31.00" height="31.30" fill="#f0f9dc"/>
<rect x="2303.10" y="732.80" width="31.00" height="31.30" fill="#c6e6f0"/>
<rect x="2337.66" y="732.80" width="31.00" height="31.30" fill="#f46d43"/>
<rect x="2372.22" y="732.80" width="31.00" height="31.30" fill="#f46d43"/>
<rect x="2406.78" y="732.80" width="31.00" height="31.30" fill="#e64f35"/>
<rect x="2441.34" y="732.80" width="31.00" height="31.30" fill="#e64f35"/>
<rect x="2475.90" y="732.80" width="31.00" height="31.30" fill="#be1826"/>
<rect x="2510.46" y="732.80" width="31.00" height="31.30" fill="#d02927"/>
<rect x="2545.02" y="732.80" width="31.00" height="31.30" fill="#d02927"/>
<rect x="2579.58" y="732.80" width="31.00" height="31.30" fill="#b20c26"/>
<rect x="2614.14" y="732.80" width="31.00" height="31.30" fill="#be1826"/>
<rect x="2648.70" y="732.80" width="31.00" height="31.30" fill="#d02927"/>
<rect x="2683.26" y="732.80" width="31.00" height="31.30" fill="#e64f35"/>
<rect x="2717.82" y="732.80" width="31.00" height="31.30" fill="#f46d43"/>
<rect x="2752.38" y="732.80" width="31.00" height="31.30" fill="#fec778"/>
<rect x="2130.30" y="767.12" width="31.00" height="31.30" fill="#4575b4"/>
<rect x="2164.86" y="767.12" width="31.00" height="31.30" fill="#f0f9dc"/>
<rect x="2199.42" y="767.12" width="31.00" height="31.30" fill="#f0f9dc"/>
<rect x="2233.98" y="767.12" width="31.00" height="31.30" fill="#f0f9dc"/>
<rect x="2268.54" y="767.12" width="31.00" height="31.30" fill="#e0f3f8"/>
<rect x="2303.10" y="767.12" width="31.00" height="31.30" fill="#c6e6f0"/>
<rect x="2337.66" y="767.12" width="31.00" height="31.30" fill="#e0f3f8"/>
<rect x="2372.22" y="767.12" width="31.00" height="31.30" fill="#f46d43"/>
<rect x="2406.78" y="767.12" width="31.00" height="31.30" fill="#f46d43"/>
<rect x="2441.34" y="767.12" width="31.00" height="31.30" fill="#e64f35"/>
<rect x="2475.90" y="767.12" width="31.00" height="31.30" fill="#b20c26"/>
<rect x="2510.46" y="767.12" width="31.00" height="31.30" fill="#be1826"/>
<rect x="2545.02" y="767.12" width="31.00" height="31.30" fill="#d02927"/>
<rect x="2579.58" y="767.12" width="31.00" height="31.30" fill="#b20c26"/>
<rect x="2614.14" y="767.12" width="31.00" height="31.30" fill="#be1826"/>
<rect x="2648.70" y="767.12" width="31.00" height="31.30" fill="#e64f35"/>
<rect x="2683.26" y="767.12" width="31.00" height="31.30" fill="#be1826"/>
<rect x="2717.82" y="767.12" width="31.00" height="31.30" fill="#f88e52"/>
<rect x="2752.38" y="767.12" width="31.00" height="31.30" fill="#fec778"/>
<rect x="2130.30" y="801.44" width="31.00" height="31.30" fill="#fdfec2"/>
<rect x="2164.86" y="801.44" width="31.00" height="31.30" fill="#b20c26"/>
<rect x="2199.42" y="801.44" width="31.00" height="31.30" fill="#fec778"/>
<rect x="2233.98" y="801.44" width="31.00" height="31.30" fill="#fee090"/>
<rect x="2268.54" y="801.44" width="31.00" height="31.30" fill="#fee090"/>
<rect x="2303.10" y="801.44" width="31.00" height="31.30" fill="#e64f35"/>
<rect x="2337.66" y="801.44" width="31.00" height="31.30" fill="#fee090"/>
<rect x="2372.22" y="801.44" width="31.00" height="31.30" fill="#fee090"/>
<rect x="2406.78" y="801.44" width="31.00" height="31.30" fill="#f88e52"/>
<rect x="2441.34" y="801.44" width="31.00" height="31.30" fill="#f88e52"/>
<rect x="2475.90" y="801.44" width="31.00" height="31.30" fill="#d02927"/>
<rect x="2510.46" y="801.44" width="31.00" height="31.30" fill="#d02927"/>
<rect x="2545.02" y="801.44" width="31.00" height="31.30" fill="#d02927"/>
<rect x="2579.58" y="801.44" width="31.00" height="31.30" fill="#fdae61"/>
<rect x="2614.14" y="801.44" width="31.00" height="31.30" fill="#fdae61"/>
<rect x="2648.70" y="801.44" width="31.00" height="31.30" fill="#f46d43"/>
<rect x="2683.26" y="801.44" width="31.00" height="31.30" fill="#f88e52"/>
<rect x="2717.82" y="801.44" width="31.00" height="31.30" fill="#d02927"/>
<rect x="2752.38" y="801.44" width="31.00" height="31.30" fill="#f88e52"/>
<rect x="2130.30" y="835.76" width="31.00" height="31.30" fill="#abd9e9"/>
<rect x="2164.86" y="835.76" width="31.00" height="31.30" fill="#fdae61"/>
<rect x="2199.42" y="835.76" width="31.00" height="31.30" fill="#f0f9dc"/>
<rect x="2233.98" y="835.76" width="31.00" height="31.30" fill="#e0f3f8"/>
<rect x="2268.54" y="835.76" width="31.00" height="31.30" fill="#c6e6f0"/>
<rect x="2303.10" y="835.76" width="31.00" height="31.30" fill="#f88e52"/>
<rect x="2337.66" y="835.76" width="31.00" height="31.30" fill="#f88e52"/>
<rect x="2372.22" y="835.76" width="31.00" height="31.30" fill="#fec778"/>
<rect x="2406.78" y="835.76" width="31.00" height="31.30" fill="#fee090"/>
<rect x="2441.34" y="835.76" width="31.00" height="31.30" fill="#fec778"/>
<rect x="2475.90" y="835.76" width="31.00" height="31.30" fill="#fdae61"/>
<rect x="2510.46" y="835.76" width="31.00" height="31.30" fill="#fec778"/>
<rect x="2545.02" y="835.76" width="31.00" height="31.30" fill="#fec778"/>
<rect x="2579.58" y="835.76" width="31.00" height="31.30" fill="#fee090"/>
<rect x="2614.14" y="835.76" width="31.00" height="31.30" fill="#fee090"/>
<rect x="2648.70" y="835.76" width="31.00" height="31.30" fill="#fec778"/>
<rect x="2683.26" y="835.76" width="31.00" height="31.30" fill="#fec778"/>
<rect x="2717.82" y="835.76" width="31.00" height="31.30" fill="#f88e52"/>
<rect x="2752.38" y="835.76" width="31.00" height="31.30" fill="#f46d43"/>
<line x1="2785.88" x2="2794.38" y1="202.85" y2="202.85" stroke="#444" stroke-width="1.6"/>
<text x="2798.98" y="208.22" font-size="15" fill="#3a3a3a" text-anchor="start" stroke="#3a3a3a" stroke-width="0.2">Cluster</text>
<line x1="2785.88" x2="2794.38" y1="233.65" y2="233.65" stroke="#444" stroke-width="1.6"/>
<text x="2798.98" y="239.02" font-size="15" fill="#3a3a3a" text-anchor="start" stroke="#3a3a3a" stroke-width="0.2">Col1</text>
<line x1="2785.88" x2="2794.38" y1="267.97" y2="267.97" stroke="#444" stroke-width="1.6"/>
<text x="2798.98" y="273.34" font-size="15" fill="#3a3a3a" text-anchor="start" stroke="#3a3a3a" stroke-width="0.2">CD8a</text>
<line x1="2785.88" x2="2794.38" y1="302.29" y2="302.29" stroke="#444" stroke-width="1.6"/>
<text x="2798.98" y="307.66" font-size="15" fill="#3a3a3a" text-anchor="start" stroke="#3a3a3a" stroke-width="0.2">CD20</text>
<line x1="2785.88" x2="2794.38" y1="336.61" y2="336.61" stroke="#444" stroke-width="1.6"/>
<text x="2798.98" y="341.98" font-size="15" fill="#3a3a3a" text-anchor="start" stroke="#3a3a3a" stroke-width="0.2">CD3</text>
<line x1="2785.88" x2="2794.38" y1="370.93" y2="370.93" stroke="#444" stroke-width="1.6"/>
<text x="2798.98" y="376.30" font-size="15" fill="#3a3a3a" text-anchor="start" stroke="#3a3a3a" stroke-width="0.2">CD4</text>
<line x1="2785.88" x2="2794.38" y1="405.25" y2="405.25" stroke="#444" stroke-width="1.6"/>
<text x="2798.98" y="410.62" font-size="15" fill="#3a3a3a" text-anchor="start" stroke="#3a3a3a" stroke-width="0.2">Ecadherin</text>
<line x1="2785.88" x2="2794.38" y1="439.57" y2="439.57" stroke="#444" stroke-width="1.6"/>
<text x="2798.98" y="444.94" font-size="15" fill="#3a3a3a" text-anchor="start" stroke="#3a3a3a" stroke-width="0.2">GranzymeB</text>
<line x1="2785.88" x2="2794.38" y1="473.89" y2="473.89" stroke="#444" stroke-width="1.6"/>
<text x="2798.98" y="479.26" font-size="15" fill="#3a3a3a" text-anchor="start" stroke="#3a3a3a" stroke-width="0.2">Pankeratin</text>
<line x1="2785.88" x2="2794.38" y1="508.21" y2="508.21" stroke="#444" stroke-width="1.6"/>
<text x="2798.98" y="513.58" font-size="15" fill="#3a3a3a" text-anchor="start" stroke="#3a3a3a" stroke-width="0.2">PDL1</text>
<line x1="2785.88" x2="2794.38" y1="542.53" y2="542.53" stroke="#444" stroke-width="1.6"/>
<text x="2798.98" y="547.90" font-size="15" fill="#3a3a3a" text-anchor="start" stroke="#3a3a3a" stroke-width="0.2">Vimentin</text>
<line x1="2785.88" x2="2794.38" y1="576.85" y2="576.85" stroke="#444" stroke-width="1.6"/>
<text x="2798.98" y="582.22" font-size="15" fill="#3a3a3a" text-anchor="start" stroke="#3a3a3a" stroke-width="0.2">Ki67</text>
<line x1="2785.88" x2="2794.38" y1="611.17" y2="611.17" stroke="#444" stroke-width="1.6"/>
<text x="2798.98" y="616.54" font-size="15" fill="#3a3a3a" text-anchor="start" stroke="#3a3a3a" stroke-width="0.2">PD1</text>
<line x1="2785.88" x2="2794.38" y1="645.49" y2="645.49" stroke="#444" stroke-width="1.6"/>
<text x="2798.98" y="650.86" font-size="15" fill="#3a3a3a" text-anchor="start" stroke="#3a3a3a" stroke-width="0.2">SMA</text>
<line x1="2785.88" x2="2794.38" y1="679.81" y2="679.81" stroke="#444" stroke-width="1.6"/>
<text x="2798.98" y="685.18" font-size="15" fill="#3a3a3a" text-anchor="start" stroke="#3a3a3a" stroke-width="0.2">DNA1</text>
<line x1="2785.88" x2="2794.38" y1="714.13" y2="714.13" stroke="#444" stroke-width="1.6"/>
<text x="2798.98" y="719.50" font-size="15" fill="#3a3a3a" text-anchor="start" stroke="#3a3a3a" stroke-width="0.2">DNA2</text>
<line x1="2785.88" x2="2794.38" y1="748.45" y2="748.45" stroke="#444" stroke-width="1.6"/>
<text x="2798.98" y="753.82" font-size="15" fill="#3a3a3a" text-anchor="start" stroke="#3a3a3a" stroke-width="0.2">FOXP3</text>
<line x1="2785.88" x2="2794.38" y1="782.77" y2="782.77" stroke="#444" stroke-width="1.6"/>
<text x="2798.98" y="788.14" font-size="15" fill="#3a3a3a" text-anchor="start" stroke="#3a3a3a" stroke-width="0.2">H3</text>
<line x1="2785.88" x2="2794.38" y1="817.09" y2="817.09" stroke="#444" stroke-width="1.6"/>
<text x="2798.98" y="822.46" font-size="15" fill="#3a3a3a" text-anchor="start" stroke="#3a3a3a" stroke-width="0.2">CD45RO</text>
<line x1="2785.88" x2="2794.38" y1="851.41" y2="851.41" stroke="#444" stroke-width="1.6"/>
<text x="2798.98" y="856.78" font-size="15" fill="#3a3a3a" text-anchor="start" stroke="#3a3a3a" stroke-width="0.2">CD68</text>
<text transform="translate(2121.03,884.56) rotate(-90)" font-size="14.6" fill="#3a3a3a" text-anchor="end" stroke="#3a3a3a" stroke-width="0.2">Cluster</text>
<text transform="translate(2151.03,884.56) rotate(-90)" font-size="14.6" fill="#3a3a3a" text-anchor="end" stroke="#3a3a3a" stroke-width="0.2">Col1</text>
<text transform="translate(2185.59,884.56) rotate(-90)" font-size="14.6" fill="#3a3a3a" text-anchor="end" stroke="#3a3a3a" stroke-width="0.2">CD8a</text>
<text transform="translate(2220.15,884.56) rotate(-90)" font-size="14.6" fill="#3a3a3a" text-anchor="end" stroke="#3a3a3a" stroke-width="0.2">CD20</text>
<text transform="translate(2254.71,884.56) rotate(-90)" font-size="14.6" fill="#3a3a3a" text-anchor="end" stroke="#3a3a3a" stroke-width="0.2">CD3</text>
<text transform="translate(2289.27,884.56) rotate(-90)" font-size="14.6" fill="#3a3a3a" text-anchor="end" stroke="#3a3a3a" stroke-width="0.2">CD4</text>
<text transform="translate(2323.83,884.56) rotate(-90)" font-size="14.6" fill="#3a3a3a" text-anchor="end" stroke="#3a3a3a" stroke-width="0.2">Ecadherin</text>
<text transform="translate(2358.39,884.56) rotate(-90)" font-size="14.6" fill="#3a3a3a" text-anchor="end" stroke="#3a3a3a" stroke-width="0.2">GranzymeB</text>
<text transform="translate(2392.95,884.56) rotate(-90)" font-size="14.6" fill="#3a3a3a" text-anchor="end" stroke="#3a3a3a" stroke-width="0.2">Pankeratin</text>
<text transform="translate(2427.51,884.56) rotate(-90)" font-size="14.6" fill="#3a3a3a" text-anchor="end" stroke="#3a3a3a" stroke-width="0.2">PDL1</text>
<text transform="translate(2462.07,884.56) rotate(-90)" font-size="14.6" fill="#3a3a3a" text-anchor="end" stroke="#3a3a3a" stroke-width="0.2">Vimentin</text>
<text transform="translate(2496.63,884.56) rotate(-90)" font-size="14.6" fill="#3a3a3a" text-anchor="end" stroke="#3a3a3a" stroke-width="0.2">Ki67</text>
<text transform="translate(2531.19,884.56) rotate(-90)" font-size="14.6" fill="#3a3a3a" text-anchor="end" stroke="#3a3a3a" stroke-width="0.2">PD1</text>
<text transform="translate(2565.75,884.56) rotate(-90)" font-size="14.6" fill="#3a3a3a" text-anchor="end" stroke="#3a3a3a" stroke-width="0.2">SMA</text>
<text transform="translate(2600.31,884.56) rotate(-90)" font-size="14.6" fill="#3a3a3a" text-anchor="end" stroke="#3a3a3a" stroke-width="0.2">DNA1</text>
<text transform="translate(2634.87,884.56) rotate(-90)" font-size="14.6" fill="#3a3a3a" text-anchor="end" stroke="#3a3a3a" stroke-width="0.2">DNA2</text>
<text transform="translate(2669.43,884.56) rotate(-90)" font-size="14.6" fill="#3a3a3a" text-anchor="end" stroke="#3a3a3a" stroke-width="0.2">FOXP3</text>
<text transform="translate(2703.99,884.56) rotate(-90)" font-size="14.6" fill="#3a3a3a" text-anchor="end" stroke="#3a3a3a" stroke-width="0.2">H3</text>
<text transform="translate(2738.55,884.56) rotate(-90)" font-size="14.6" fill="#3a3a3a" text-anchor="end" stroke="#3a3a3a" stroke-width="0.2">CD45RO</text>
<text transform="translate(2773.11,884.56) rotate(-90)" font-size="14.6" fill="#3a3a3a" text-anchor="end" stroke="#3a3a3a" stroke-width="0.2">CD68</text>
<linearGradient id="dt1g" x1="0" y1="1" x2="0" y2="0"><stop offset="0.0" stop-color="#a50026"/><stop offset="0.05" stop-color="#be1826"/><stop offset="0.1" stop-color="#d73027"/><stop offset="0.15" stop-color="#e64e35"/><stop offset="0.2" stop-color="#f46d43"/><stop offset="0.25" stop-color="#f88e52"/><stop offset="0.3" stop-color="#fdae61"/><stop offset="0.35" stop-color="#fec778"/><stop offset="0.4" stop-color="#fee090"/><stop offset="0.45" stop-color="#fef0a8"/><stop offset="0.5" stop-color="#ffffbf"/><stop offset="0.55" stop-color="#f0f9dc"/><stop offset="0.6" stop-color="#e0f3f8"/><stop offset="0.65" stop-color="#c6e6f0"/><stop offset="0.7" stop-color="#abd9e9"/><stop offset="0.75" stop-color="#90c3dd"/><stop offset="0.8" stop-color="#74add1"/><stop offset="0.85" stop-color="#5c91c2"/><stop offset="0.9" stop-color="#4575b4"/><stop offset="0.95" stop-color="#3b56a4"/><stop offset="1.0" stop-color="#313695"/></linearGradient>
<rect x="1964.3" y="345.5" width="28.8" height="437" fill="url(#dt1g)"/>
<line x1="1993.10" x2="2002.10" y1="782.50" y2="782.50" stroke="#444" stroke-width="1.6"/>
<text x="2006.10" y="787.87" font-size="15" fill="#3a3a3a" text-anchor="start" stroke="#3a3a3a" stroke-width="0.2">0.0</text>
<line x1="1993.10" x2="2002.10" y1="695.10" y2="695.10" stroke="#444" stroke-width="1.6"/>
<text x="2006.10" y="700.47" font-size="15" fill="#3a3a3a" text-anchor="start" stroke="#3a3a3a" stroke-width="0.2">0.2</text>
<line x1="1993.10" x2="2002.10" y1="607.70" y2="607.70" stroke="#444" stroke-width="1.6"/>
<text x="2006.10" y="613.07" font-size="15" fill="#3a3a3a" text-anchor="start" stroke="#3a3a3a" stroke-width="0.2">0.4</text>
<line x1="1993.10" x2="2002.10" y1="520.30" y2="520.30" stroke="#444" stroke-width="1.6"/>
<text x="2006.10" y="525.67" font-size="15" fill="#3a3a3a" text-anchor="start" stroke="#3a3a3a" stroke-width="0.2">0.6</text>
<line x1="1993.10" x2="2002.10" y1="432.90" y2="432.90" stroke="#444" stroke-width="1.6"/>
<text x="2006.10" y="438.27" font-size="15" fill="#3a3a3a" text-anchor="start" stroke="#3a3a3a" stroke-width="0.2">0.8</text>
<line x1="1993.10" x2="2002.10" y1="345.50" y2="345.50" stroke="#444" stroke-width="1.6"/>
<text x="2006.10" y="350.87" font-size="15" fill="#3a3a3a" text-anchor="start" stroke="#3a3a3a" stroke-width="0.2">1.0</text>
<text transform="translate(2054.05,567.30) rotate(-90)" font-size="27.5" fill="#222" text-anchor="middle" >Distance</text>
<text transform="translate(2905.24,547.00) rotate(-90)" font-size="27.5" fill="#222" text-anchor="middle" >Marker</text>
<text x="2414.50" y="986.60" font-size="27.5" fill="#222" text-anchor="start" >Marker</text>
<text x="2414.60" y="66.00" font-size="82" fill="#000" letter-spacing="-0.4">DT1</text>
<rect x="2528.354" y="59.875" width="15.275" height="7.125" fill="#fff"/>
<rect x="2550.850" y="59.875" width="14.855" height="7.125" fill="#fff"/>
<rect x="2070.2" y="93.2" width="776.4" height="26.6" rx="3" fill="#eaeaf0" stroke="#dcdce2" stroke-width="1.2"/>
<rect x="2077.30" y="99.30" width="30" height="9.5" fill="#00f500"/>
<text x="2118.80" y="111.07" font-size="15" fill="#2a2a2a" text-anchor="start" stroke="#2a2a2a" stroke-width="0.3">Cluster 1</text>
<rect x="2209.10" y="99.30" width="30" height="9.5" fill="#ffd700"/>
<text x="2250.60" y="111.07" font-size="15" fill="#2a2a2a" text-anchor="start" stroke="#2a2a2a" stroke-width="0.3">Cluster 2</text>
<rect x="2340.90" y="99.30" width="30" height="9.5" fill="#000088"/>
<text x="2382.40" y="111.07" font-size="15" fill="#2a2a2a" text-anchor="start" stroke="#2a2a2a" stroke-width="0.3">Cluster 3</text>
<rect x="2472.70" y="99.30" width="30" height="9.5" fill="#00ffff"/>
<text x="2514.20" y="111.07" font-size="15" fill="#2a2a2a" text-anchor="start" stroke="#2a2a2a" stroke-width="0.3">Cluster 4</text>
<rect x="2604.50" y="99.30" width="30" height="9.5" fill="#800080"/>
<text x="2646.00" y="111.07" font-size="15" fill="#2a2a2a" text-anchor="start" stroke="#2a2a2a" stroke-width="0.3">Cluster 5</text>
<rect x="2736.30" y="99.30" width="30" height="9.5" fill="#ff0000"/>
<text x="2777.80" y="111.07" font-size="15" fill="#2a2a2a" text-anchor="start" stroke="#2a2a2a" stroke-width="0.3">Cluster 6</text>
<rect x="3084.30" y="188.80" width="27.20" height="22.20" fill="#e844ee"/>
<rect x="3114.14" y="188.80" width="27.20" height="22.20" fill="#6cf044"/>
<rect x="3143.98" y="188.80" width="27.20" height="22.20" fill="#6cf044"/>
<rect x="3173.81" y="188.80" width="27.20" height="22.20" fill="#f0a038"/>
<rect x="3203.65" y="188.80" width="27.20" height="22.20" fill="#f0a038"/>
<rect x="3233.49" y="188.80" width="27.20" height="22.20" fill="#f0a038"/>
<rect x="3263.33" y="188.80" width="27.20" height="22.20" fill="#e83424"/>
<rect x="3293.17" y="188.80" width="27.20" height="22.20" fill="#e83424"/>
<rect x="3323.00" y="188.80" width="27.20" height="22.20" fill="#e83424"/>
<rect x="3352.84" y="188.80" width="27.20" height="22.20" fill="#0a22f0"/>
<rect x="3382.68" y="188.80" width="27.20" height="22.20" fill="#7ccaa4"/>
<rect x="3412.52" y="188.80" width="27.20" height="22.20" fill="#0a22f0"/>
<rect x="3442.36" y="188.80" width="27.20" height="22.20" fill="#0a22f0"/>
<rect x="3472.19" y="188.80" width="27.20" height="22.20" fill="#0a22f0"/>
<rect x="3502.03" y="188.80" width="27.20" height="22.20" fill="#0a22f0"/>
<rect x="3531.87" y="188.80" width="27.20" height="22.20" fill="#0a22f0"/>
<rect x="3561.71" y="188.80" width="27.20" height="22.20" fill="#e83424"/>
<rect x="3591.55" y="188.80" width="27.20" height="22.20" fill="#6cf044"/>
<rect x="3621.38" y="188.80" width="27.20" height="22.20" fill="#e83424"/>
<rect x="3651.22" y="188.80" width="27.20" height="22.20" fill="#3e0e8a"/>
<rect x="3681.06" y="188.80" width="27.20" height="22.20" fill="#0a22f0"/>
<rect x="3710.90" y="188.80" width="27.20" height="22.20" fill="#e83424"/>
<rect x="3058.60" y="214.70" width="22.70" height="26.80" fill="#e844ee"/>
<rect x="3058.60" y="244.52" width="22.70" height="26.80" fill="#6cf044"/>
<rect x="3058.60" y="274.35" width="22.70" height="26.80" fill="#6cf044"/>
<rect x="3058.60" y="304.17" width="22.70" height="26.80" fill="#f0a038"/>
<rect x="3058.60" y="334.00" width="22.70" height="26.80" fill="#f0a038"/>
<rect x="3058.60" y="363.82" width="22.70" height="26.80" fill="#f0a038"/>
<rect x="3058.60" y="393.64" width="22.70" height="26.80" fill="#e83424"/>
<rect x="3058.60" y="423.47" width="22.70" height="26.80" fill="#e83424"/>
<rect x="3058.60" y="453.29" width="22.70" height="26.80" fill="#e83424"/>
<rect x="3058.60" y="483.12" width="22.70" height="26.80" fill="#0a22f0"/>
<rect x="3058.60" y="512.94" width="22.70" height="26.80" fill="#7ccaa4"/>
<rect x="3058.60" y="542.76" width="22.70" height="26.80" fill="#0a22f0"/>
<rect x="3058.60" y="572.59" width="22.70" height="26.80" fill="#0a22f0"/>
<rect x="3058.60" y="602.41" width="22.70" height="26.80" fill="#0a22f0"/>
<rect x="3058.60" y="632.24" width="22.70" height="26.80" fill="#0a22f0"/>
<rect x="3058.60" y="662.06" width="22.70" height="26.80" fill="#0a22f0"/>
<rect x="3058.60" y="691.88" width="22.70" height="26.80" fill="#e83424"/>
<rect x="3058.60" y="721.71" width="22.70" height="26.80" fill="#6cf044"/>
<rect x="3058.60" y="751.53" width="22.70" height="26.80" fill="#e83424"/>
<rect x="3058.60" y="781.36" width="22.70" height="26.80" fill="#3e0e8a"/>
<rect x="3058.60" y="811.18" width="22.70" height="26.80" fill="#0a22f0"/>
<rect x="3058.60" y="841.00" width="22.70" height="26.80" fill="#e83424"/>
<rect x="3084.30" y="214.70" width="27.20" height="26.80" fill="#e98c58"/>
<rect x="3114.14" y="214.70" width="27.20" height="26.80" fill="#fcfdc7"/>
<rect x="3143.98" y="214.70" width="27.20" height="26.80" fill="#acd4e3"/>
<rect x="3173.81" y="214.70" width="27.20" height="26.80" fill="#e0f1f6"/>
<rect x="3203.65" y="214.70" width="27.20" height="26.80" fill="#91bdd4"/>
<rect x="3233.49" y="214.70" width="27.20" height="26.80" fill="#e0f1f6"/>
<rect x="3263.33" y="214.70" width="27.20" height="26.80" fill="#466fa5"/>
<rect x="3293.17" y="214.70" width="27.20" height="26.80" fill="#2f3484"/>
<rect x="3323.00" y="214.70" width="27.20" height="26.80" fill="#3b5294"/>
<rect x="3352.84" y="214.70" width="27.20" height="26.80" fill="#f9de96"/>
<rect x="3382.68" y="214.70" width="27.20" height="26.80" fill="#fcfdc7"/>
<rect x="3412.52" y="214.70" width="27.20" height="26.80" fill="#466fa5"/>
<rect x="3442.36" y="214.70" width="27.20" height="26.80" fill="#466fa5"/>
<rect x="3472.19" y="214.70" width="27.20" height="26.80" fill="#466fa5"/>
<rect x="3502.03" y="214.70" width="27.20" height="26.80" fill="#466fa5"/>
<rect x="3531.87" y="214.70" width="27.20" height="26.80" fill="#466fa5"/>
<rect x="3561.71" y="214.70" width="27.20" height="26.80" fill="#75a7c6"/>
<rect x="3591.55" y="214.70" width="27.20" height="26.80" fill="#75a7c6"/>
<rect x="3621.38" y="214.70" width="27.20" height="26.80" fill="#91bdd4"/>
<rect x="3651.22" y="214.70" width="27.20" height="26.80" fill="#466fa5"/>
<rect x="3681.06" y="214.70" width="27.20" height="26.80" fill="#466fa5"/>
<rect x="3710.90" y="214.70" width="27.20" height="26.80" fill="#466fa5"/>
<rect x="3084.30" y="244.52" width="27.20" height="26.80" fill="#fcfdc7"/>
<rect x="3114.14" y="244.52" width="27.20" height="26.80" fill="#ba2c2a"/>
<rect x="3143.98" y="244.52" width="27.20" height="26.80" fill="#f9de96"/>
<rect x="3173.81" y="244.52" width="27.20" height="26.80" fill="#f5c57f"/>
<rect x="3203.65" y="244.52" width="27.20" height="26.80" fill="#fbeeae"/>
<rect x="3233.49" y="244.52" width="27.20" height="26.80" fill="#e26d48"/>
<rect x="3263.33" y="244.52" width="27.20" height="26.80" fill="#fcfdc7"/>
<rect x="3293.17" y="244.52" width="27.20" height="26.80" fill="#5d8bb5"/>
<rect x="3323.00" y="244.52" width="27.20" height="26.80" fill="#91bdd4"/>
<rect x="3352.84" y="244.52" width="27.20" height="26.80" fill="#c6e3ec"/>
<rect x="3382.68" y="244.52" width="27.20" height="26.80" fill="#acd4e3"/>
<rect x="3412.52" y="244.52" width="27.20" height="26.80" fill="#c6e3ec"/>
<rect x="3442.36" y="244.52" width="27.20" height="26.80" fill="#c6e3ec"/>
<rect x="3472.19" y="244.52" width="27.20" height="26.80" fill="#c6e3ec"/>
<rect x="3502.03" y="244.52" width="27.20" height="26.80" fill="#c6e3ec"/>
<rect x="3531.87" y="244.52" width="27.20" height="26.80" fill="#c6e3ec"/>
<rect x="3561.71" y="244.52" width="27.20" height="26.80" fill="#e26d48"/>
<rect x="3591.55" y="244.52" width="27.20" height="26.80" fill="#e26d48"/>
<rect x="3621.38" y="244.52" width="27.20" height="26.80" fill="#fbeeae"/>
<rect x="3651.22" y="244.52" width="27.20" height="26.80" fill="#c6e3ec"/>
<rect x="3681.06" y="244.52" width="27.20" height="26.80" fill="#e0f1f6"/>
<rect x="3710.90" y="244.52" width="27.20" height="26.80" fill="#e0f1f6"/>
<rect x="3084.30" y="274.35" width="27.20" height="26.80" fill="#acd4e3"/>
<rect x="3114.14" y="274.35" width="27.20" height="26.80" fill="#f9de96"/>
<rect x="3143.98" y="274.35" width="27.20" height="26.80" fill="#a81b27"/>
<rect x="3173.81" y="274.35" width="27.20" height="26.80" fill="#f1ac68"/>
<rect x="3203.65" y="274.35" width="27.20" height="26.80" fill="#fbeeae"/>
<rect x="3233.49" y="274.35" width="27.20" height="26.80" fill="#f5c57f"/>
<rect x="3263.33" y="274.35" width="27.20" height="26.80" fill="#c6e3ec"/>
<rect x="3293.17" y="274.35" width="27.20" height="26.80" fill="#466fa5"/>
<rect x="3323.00" y="274.35" width="27.20" height="26.80" fill="#75a7c6"/>
<rect x="3352.84" y="274.35" width="27.20" height="26.80" fill="#acd4e3"/>
<rect x="3382.68" y="274.35" width="27.20" height="26.80" fill="#91bdd4"/>
<rect x="3412.52" y="274.35" width="27.20" height="26.80" fill="#acd4e3"/>
<rect x="3442.36" y="274.35" width="27.20" height="26.80" fill="#acd4e3"/>
<rect x="3472.19" y="274.35" width="27.20" height="26.80" fill="#acd4e3"/>
<rect x="3502.03" y="274.35" width="27.20" height="26.80" fill="#acd4e3"/>
<rect x="3531.87" y="274.35" width="27.20" height="26.80" fill="#acd4e3"/>
<rect x="3561.71" y="274.35" width="27.20" height="26.80" fill="#e98c58"/>
<rect x="3591.55" y="274.35" width="27.20" height="26.80" fill="#f1ac68"/>
<rect x="3621.38" y="274.35" width="27.20" height="26.80" fill="#c6e3ec"/>
<rect x="3651.22" y="274.35" width="27.20" height="26.80" fill="#acd4e3"/>
<rect x="3681.06" y="274.35" width="27.20" height="26.80" fill="#c6e3ec"/>
<rect x="3710.90" y="274.35" width="27.20" height="26.80" fill="#c6e3ec"/>
<rect x="3084.30" y="304.17" width="27.20" height="26.80" fill="#e0f1f6"/>
<rect x="3114.14" y="304.17" width="27.20" height="26.80" fill="#f5c57f"/>
<rect x="3143.98" y="304.17" width="27.20" height="26.80" fill="#f1ac68"/>
<rect x="3173.81" y="304.17" width="27.20" height="26.80" fill="#ba2c2a"/>
<rect x="3203.65" y="304.17" width="27.20" height="26.80" fill="#f1ac68"/>
<rect x="3233.49" y="304.17" width="27.20" height="26.80" fill="#e98c58"/>
<rect x="3263.33" y="304.17" width="27.20" height="26.80" fill="#c6e3ec"/>
<rect x="3293.17" y="304.17" width="27.20" height="26.80" fill="#466fa5"/>
<rect x="3323.00" y="304.17" width="27.20" height="26.80" fill="#75a7c6"/>
<rect x="3352.84" y="304.17" width="27.20" height="26.80" fill="#acd4e3"/>
<rect x="3382.68" y="304.17" width="27.20" height="26.80" fill="#91bdd4"/>
<rect x="3412.52" y="304.17" width="27.20" height="26.80" fill="#acd4e3"/>
<rect x="3442.36" y="304.17" width="27.20" height="26.80" fill="#acd4e3"/>
<rect x="3472.19" y="304.17" width="27.20" height="26.80" fill="#acd4e3"/>
<rect x="3502.03" y="304.17" width="27.20" height="26.80" fill="#acd4e3"/>
<rect x="3531.87" y="304.17" width="27.20" height="26.80" fill="#acd4e3"/>
<rect x="3561.71" y="304.17" width="27.20" height="26.80" fill="#f1ac68"/>
<rect x="3591.55" y="304.17" width="27.20" height="26.80" fill="#e98c58"/>
<rect x="3621.38" y="304.17" width="27.20" height="26.80" fill="#eff7dd"/>
<rect x="3651.22" y="304.17" width="27.20" height="26.80" fill="#acd4e3"/>
<rect x="3681.06" y="304.17" width="27.20" height="26.80" fill="#c6e3ec"/>
<rect x="3710.90" y="304.17" width="27.20" height="26.80" fill="#c6e3ec"/>
<rect x="3084.30" y="334.00" width="27.20" height="26.80" fill="#91bdd4"/>
<rect x="3114.14" y="334.00" width="27.20" height="26.80" fill="#fbeeae"/>
<rect x="3143.98" y="334.00" width="27.20" height="26.80" fill="#f9de96"/>
<rect x="3173.81" y="334.00" width="27.20" height="26.80" fill="#f1ac68"/>
<rect x="3203.65" y="334.00" width="27.20" height="26.80" fill="#d25039"/>
<rect x="3233.49" y="334.00" width="27.20" height="26.80" fill="#f1ac68"/>
<rect x="3263.33" y="334.00" width="27.20" height="26.80" fill="#acd4e3"/>
<rect x="3293.17" y="334.00" width="27.20" height="26.80" fill="#e0f1f6"/>
<rect x="3323.00" y="334.00" width="27.20" height="26.80" fill="#e0f1f6"/>
<rect x="3352.84" y="334.00" width="27.20" height="26.80" fill="#eff7dd"/>
<rect x="3382.68" y="334.00" width="27.20" height="26.80" fill="#eff7dd"/>
<rect x="3412.52" y="334.00" width="27.20" height="26.80" fill="#eff7dd"/>
<rect x="3442.36" y="334.00" width="27.20" height="26.80" fill="#eff7dd"/>
<rect x="3472.19" y="334.00" width="27.20" height="26.80" fill="#fcfdc7"/>
<rect x="3502.03" y="334.00" width="27.20" height="26.80" fill="#fcfdc7"/>
<rect x="3531.87" y="334.00" width="27.20" height="26.80" fill="#fcfdc7"/>
<rect x="3561.71" y="334.00" width="27.20" height="26.80" fill="#f9de96"/>
<rect x="3591.55" y="334.00" width="27.20" height="26.80" fill="#f5c57f"/>
<rect x="3621.38" y="334.00" width="27.20" height="26.80" fill="#e0f1f6"/>
<rect x="3651.22" y="334.00" width="27.20" height="26.80" fill="#fcfdc7"/>
<rect x="3681.06" y="334.00" width="27.20" height="26.80" fill="#fcfdc7"/>
<rect x="3710.90" y="334.00" width="27.20" height="26.80" fill="#fcfdc7"/>
<rect x="3084.30" y="363.82" width="27.20" height="26.80" fill="#e0f1f6"/>
<rect x="3114.14" y="363.82" width="27.20" height="26.80" fill="#e26d48"/>
<rect x="3143.98" y="363.82" width="27.20" height="26.80" fill="#f5c57f"/>
<rect x="3173.81" y="363.82" width="27.20" height="26.80" fill="#e98c58"/>
<rect x="3203.65" y="363.82" width="27.20" height="26.80" fill="#f1ac68"/>
<rect x="3233.49" y="363.82" width="27.20" height="26.80" fill="#e26d48"/>
<rect x="3263.33" y="363.82" width="27.20" height="26.80" fill="#c6e3ec"/>
<rect x="3293.17" y="363.82" width="27.20" height="26.80" fill="#91bdd4"/>
<rect x="3323.00" y="363.82" width="27.20" height="26.80" fill="#91bdd4"/>
<rect x="3352.84" y="363.82" width="27.20" height="26.80" fill="#a81b27"/>
<rect x="3382.68" y="363.82" width="27.20" height="26.80" fill="#f1ac68"/>
<rect x="3412.52" y="363.82" width="27.20" height="26.80" fill="#e0f1f6"/>
<rect x="3442.36" y="363.82" width="27.20" height="26.80" fill="#e0f1f6"/>
<rect x="3472.19" y="363.82" width="27.20" height="26.80" fill="#e0f1f6"/>
<rect x="3502.03" y="363.82" width="27.20" height="26.80" fill="#e0f1f6"/>
<rect x="3531.87" y="363.82" width="27.20" height="26.80" fill="#e0f1f6"/>
<rect x="3561.71" y="363.82" width="27.20" height="26.80" fill="#f9de96"/>
<rect x="3591.55" y="363.82" width="27.20" height="26.80" fill="#f5c57f"/>
<rect x="3621.38" y="363.82" width="27.20" height="26.80" fill="#fcfdc7"/>
<rect x="3651.22" y="363.82" width="27.20" height="26.80" fill="#e0f1f6"/>
<rect x="3681.06" y="363.82" width="27.20" height="26.80" fill="#e0f1f6"/>
<rect x="3710.90" y="363.82" width="27.20" height="26.80" fill="#e0f1f6"/>
<rect x="3084.30" y="393.64" width="27.20" height="26.80" fill="#466fa5"/>
<rect x="3114.14" y="393.64" width="27.20" height="26.80" fill="#fcfdc7"/>
<rect x="3143.98" y="393.64" width="27.20" height="26.80" fill="#c6e3ec"/>
<rect x="3173.81" y="393.64" width="27.20" height="26.80" fill="#c6e3ec"/>
<rect x="3203.65" y="393.64" width="27.20" height="26.80" fill="#acd4e3"/>
<rect x="3233.49" y="393.64" width="27.20" height="26.80" fill="#c6e3ec"/>
<rect x="3263.33" y="393.64" width="27.20" height="26.80" fill="#e26d48"/>
<rect x="3293.17" y="393.64" width="27.20" height="26.80" fill="#91bdd4"/>
<rect x="3323.00" y="393.64" width="27.20" height="26.80" fill="#e0f1f6"/>
<rect x="3352.84" y="393.64" width="27.20" height="26.80" fill="#e26d48"/>
<rect x="3382.68" y="393.64" width="27.20" height="26.80" fill="#e26d48"/>
<rect x="3412.52" y="393.64" width="27.20" height="26.80" fill="#d25039"/>
<rect x="3442.36" y="393.64" width="27.20" height="26.80" fill="#d25039"/>
<rect x="3472.19" y="393.64" width="27.20" height="26.80" fill="#75a7c6"/>
<rect x="3502.03" y="393.64" width="27.20" height="26.80" fill="#75a7c6"/>
<rect x="3531.87" y="393.64" width="27.20" height="26.80" fill="#75a7c6"/>
<rect x="3561.71" y="393.64" width="27.20" height="26.80" fill="#5d8bb5"/>
<rect x="3591.55" y="393.64" width="27.20" height="26.80" fill="#75a7c6"/>
<rect x="3621.38" y="393.64" width="27.20" height="26.80" fill="#3b5294"/>
<rect x="3651.22" y="393.64" width="27.20" height="26.80" fill="#5d8bb5"/>
<rect x="3681.06" y="393.64" width="27.20" height="26.80" fill="#75a7c6"/>
<rect x="3710.90" y="393.64" width="27.20" height="26.80" fill="#acd4e3"/>
<rect x="3084.30" y="423.47" width="27.20" height="26.80" fill="#2f3484"/>
<rect x="3114.14" y="423.47" width="27.20" height="26.80" fill="#5d8bb5"/>
<rect x="3143.98" y="423.47" width="27.20" height="26.80" fill="#466fa5"/>
<rect x="3173.81" y="423.47" width="27.20" height="26.80" fill="#466fa5"/>
<rect x="3203.65" y="423.47" width="27.20" height="26.80" fill="#e0f1f6"/>
<rect x="3233.49" y="423.47" width="27.20" height="26.80" fill="#75a7c6"/>
<rect x="3263.33" y="423.47" width="27.20" height="26.80" fill="#75a7c6"/>
<rect x="3293.17" y="423.47" width="27.20" height="26.80" fill="#e26d48"/>
<rect x="3323.00" y="423.47" width="27.20" height="26.80" fill="#f9de96"/>
<rect x="3352.84" y="423.47" width="27.20" height="26.80" fill="#ba2c2a"/>
<rect x="3382.68" y="423.47" width="27.20" height="26.80" fill="#ba2c2a"/>
<rect x="3412.52" y="423.47" width="27.20" height="26.80" fill="#ba2c2a"/>
<rect x="3442.36" y="423.47" width="27.20" height="26.80" fill="#ba2c2a"/>
<rect x="3472.19" y="423.47" width="27.20" height="26.80" fill="#d25039"/>
<rect x="3502.03" y="423.47" width="27.20" height="26.80" fill="#e0f1f6"/>
<rect x="3531.87" y="423.47" width="27.20" height="26.80" fill="#e0f1f6"/>
<rect x="3561.71" y="423.47" width="27.20" height="26.80" fill="#acd4e3"/>
<rect x="3591.55" y="423.47" width="27.20" height="26.80" fill="#acd4e3"/>
<rect x="3621.38" y="423.47" width="27.20" height="26.80" fill="#e0f1f6"/>
<rect x="3651.22" y="423.47" width="27.20" height="26.80" fill="#e0f1f6"/>
<rect x="3681.06" y="423.47" width="27.20" height="26.80" fill="#e0f1f6"/>
<rect x="3710.90" y="423.47" width="27.20" height="26.80" fill="#e0f1f6"/>
<rect x="3084.30" y="453.29" width="27.20" height="26.80" fill="#3b5294"/>
<rect x="3114.14" y="453.29" width="27.20" height="26.80" fill="#75a7c6"/>
<rect x="3143.98" y="453.29" width="27.20" height="26.80" fill="#5d8bb5"/>
<rect x="3173.81" y="453.29" width="27.20" height="26.80" fill="#5d8bb5"/>
<rect x="3203.65" y="453.29" width="27.20" height="26.80" fill="#e0f1f6"/>
<rect x="3233.49" y="453.29" width="27.20" height="26.80" fill="#91bdd4"/>
<rect x="3263.33" y="453.29" width="27.20" height="26.80" fill="#e0f1f6"/>
<rect x="3293.17" y="453.29" width="27.20" height="26.80" fill="#f9de96"/>
<rect x="3323.00" y="453.29" width="27.20" height="26.80" fill="#e98c58"/>
<rect x="3352.84" y="453.29" width="27.20" height="26.80" fill="#e26d48"/>
<rect x="3382.68" y="453.29" width="27.20" height="26.80" fill="#e26d48"/>
<rect x="3412.52" y="453.29" width="27.20" height="26.80" fill="#e26d48"/>
<rect x="3442.36" y="453.29" width="27.20" height="26.80" fill="#e26d48"/>
<rect x="3472.19" y="453.29" width="27.20" height="26.80" fill="#e26d48"/>
<rect x="3502.03" y="453.29" width="27.20" height="26.80" fill="#e98c58"/>
<rect x="3531.87" y="453.29" width="27.20" height="26.80" fill="#e26d48"/>
<rect x="3561.71" y="453.29" width="27.20" height="26.80" fill="#5d8bb5"/>
<rect x="3591.55" y="453.29" width="27.20" height="26.80" fill="#acd4e3"/>
<rect x="3621.38" y="453.29" width="27.20" height="26.80" fill="#2f3484"/>
<rect x="3651.22" y="453.29" width="27.20" height="26.80" fill="#466fa5"/>
<rect x="3681.06" y="453.29" width="27.20" height="26.80" fill="#466fa5"/>
<rect x="3710.90" y="453.29" width="27.20" height="26.80" fill="#75a7c6"/>
<rect x="3084.30" y="483.12" width="27.20" height="26.80" fill="#f9de96"/>
<rect x="3114.14" y="483.12" width="27.20" height="26.80" fill="#c6e3ec"/>
<rect x="3143.98" y="483.12" width="27.20" height="26.80" fill="#acd4e3"/>
<rect x="3173.81" y="483.12" width="27.20" height="26.80" fill="#acd4e3"/>
<rect x="3203.65" y="483.12" width="27.20" height="26.80" fill="#fcfdc7"/>
<rect x="3233.49" y="483.12" width="27.20" height="26.80" fill="#a81b27"/>
<rect x="3263.33" y="483.12" width="27.20" height="26.80" fill="#e26d48"/>
<rect x="3293.17" y="483.12" width="27.20" height="26.80" fill="#ba2c2a"/>
<rect x="3323.00" y="483.12" width="27.20" height="26.80" fill="#e26d48"/>
<rect x="3352.84" y="483.12" width="27.20" height="26.80" fill="#ba2c2a"/>
<rect x="3382.68" y="483.12" width="27.20" height="26.80" fill="#ba2c2a"/>
<rect x="3412.52" y="483.12" width="27.20" height="26.80" fill="#d25039"/>
<rect x="3442.36" y="483.12" width="27.20" height="26.80" fill="#d25039"/>
<rect x="3472.19" y="483.12" width="27.20" height="26.80" fill="#ba2c2a"/>
<rect x="3502.03" y="483.12" width="27.20" height="26.80" fill="#a81b27"/>
<rect x="3531.87" y="483.12" width="27.20" height="26.80" fill="#ba2c2a"/>
<rect x="3561.71" y="483.12" width="27.20" height="26.80" fill="#a81b27"/>
<rect x="3591.55" y="483.12" width="27.20" height="26.80" fill="#a81b27"/>
<rect x="3621.38" y="483.12" width="27.20" height="26.80" fill="#f5c57f"/>
<rect x="3651.22" y="483.12" width="27.20" height="26.80" fill="#d25039"/>
<rect x="3681.06" y="483.12" width="27.20" height="26.80" fill="#ba2c2a"/>
<rect x="3710.90" y="483.12" width="27.20" height="26.80" fill="#a81b27"/>
<rect x="3084.30" y="512.94" width="27.20" height="26.80" fill="#fcfdc7"/>
<rect x="3114.14" y="512.94" width="27.20" height="26.80" fill="#acd4e3"/>
<rect x="3143.98" y="512.94" width="27.20" height="26.80" fill="#91bdd4"/>
<rect x="3173.81" y="512.94" width="27.20" height="26.80" fill="#91bdd4"/>
<rect x="3203.65" y="512.94" width="27.20" height="26.80" fill="#eff7dd"/>
<rect x="3233.49" y="512.94" width="27.20" height="26.80" fill="#f1ac68"/>
<rect x="3263.33" y="512.94" width="27.20" height="26.80" fill="#e26d48"/>
<rect x="3293.17" y="512.94" width="27.20" height="26.80" fill="#ba2c2a"/>
<rect x="3323.00" y="512.94" width="27.20" height="26.80" fill="#e26d48"/>
<rect x="3352.84" y="512.94" width="27.20" height="26.80" fill="#ba2c2a"/>
<rect x="3382.68" y="512.94" width="27.20" height="26.80" fill="#d25039"/>
<rect x="3412.52" y="512.94" width="27.20" height="26.80" fill="#f1ac68"/>
<rect x="3442.36" y="512.94" width="27.20" height="26.80" fill="#f1ac68"/>
<rect x="3472.19" y="512.94" width="27.20" height="26.80" fill="#f1ac68"/>
<rect x="3502.03" y="512.94" width="27.20" height="26.80" fill="#f1ac68"/>
<rect x="3531.87" y="512.94" width="27.20" height="26.80" fill="#f1ac68"/>
<rect x="3561.71" y="512.94" width="27.20" height="26.80" fill="#f1ac68"/>
<rect x="3591.55" y="512.94" width="27.20" height="26.80" fill="#f1ac68"/>
<rect x="3621.38" y="512.94" width="27.20" height="26.80" fill="#fbeeae"/>
<rect x="3651.22" y="512.94" width="27.20" height="26.80" fill="#f1ac68"/>
<rect x="3681.06" y="512.94" width="27.20" height="26.80" fill="#f1ac68"/>
<rect x="3710.90" y="512.94" width="27.20" height="26.80" fill="#e26d48"/>
<rect x="3084.30" y="542.76" width="27.20" height="26.80" fill="#466fa5"/>
<rect x="3114.14" y="542.76" width="27.20" height="26.80" fill="#c6e3ec"/>
<rect x="3143.98" y="542.76" width="27.20" height="26.80" fill="#acd4e3"/>
<rect x="3173.81" y="542.76" width="27.20" height="26.80" fill="#acd4e3"/>
<rect x="3203.65" y="542.76" width="27.20" height="26.80" fill="#eff7dd"/>
<rect x="3233.49" y="542.76" width="27.20" height="26.80" fill="#e0f1f6"/>
<rect x="3263.33" y="542.76" width="27.20" height="26.80" fill="#d25039"/>
<rect x="3293.17" y="542.76" width="27.20" height="26.80" fill="#ba2c2a"/>
<rect x="3323.00" y="542.76" width="27.20" height="26.80" fill="#e26d48"/>
<rect x="3352.84" y="542.76" width="27.20" height="26.80" fill="#ba2c2a"/>
<rect x="3382.68" y="542.76" width="27.20" height="26.80" fill="#f1ac68"/>
<rect x="3412.52" y="542.76" width="27.20" height="26.80" fill="#a81b27"/>
<rect x="3442.36" y="542.76" width="27.20" height="26.80" fill="#a81b27"/>
<rect x="3472.19" y="542.76" width="27.20" height="26.80" fill="#a81b27"/>
<rect x="3502.03" y="542.76" width="27.20" height="26.80" fill="#a81b27"/>
<rect x="3531.87" y="542.76" width="27.20" height="26.80" fill="#a81b27"/>
<rect x="3561.71" y="542.76" width="27.20" height="26.80" fill="#9d1026"/>
<rect x="3591.55" y="542.76" width="27.20" height="26.80" fill="#9d1026"/>
<rect x="3621.38" y="542.76" width="27.20" height="26.80" fill="#e26d48"/>
<rect x="3651.22" y="542.76" width="27.20" height="26.80" fill="#ba2c2a"/>
<rect x="3681.06" y="542.76" width="27.20" height="26.80" fill="#a81b27"/>
<rect x="3710.90" y="542.76" width="27.20" height="26.80" fill="#9d1026"/>
<rect x="3084.30" y="572.59" width="27.20" height="26.80" fill="#466fa5"/>
<rect x="3114.14" y="572.59" width="27.20" height="26.80" fill="#c6e3ec"/>
<rect x="3143.98" y="572.59" width="27.20" height="26.80" fill="#acd4e3"/>
<rect x="3173.81" y="572.59" width="27.20" height="26.80" fill="#acd4e3"/>
<rect x="3203.65" y="572.59" width="27.20" height="26.80" fill="#eff7dd"/>
<rect x="3233.49" y="572.59" width="27.20" height="26.80" fill="#e0f1f6"/>
<rect x="3263.33" y="572.59" width="27.20" height="26.80" fill="#d25039"/>
<rect x="3293.17" y="572.59" width="27.20" height="26.80" fill="#ba2c2a"/>
<rect x="3323.00" y="572.59" width="27.20" height="26.80" fill="#e26d48"/>
<rect x="3352.84" y="572.59" width="27.20" height="26.80" fill="#d25039"/>
<rect x="3382.68" y="572.59" width="27.20" height="26.80" fill="#f1ac68"/>
<rect x="3412.52" y="572.59" width="27.20" height="26.80" fill="#a81b27"/>
<rect x="3442.36" y="572.59" width="27.20" height="26.80" fill="#a81b27"/>
<rect x="3472.19" y="572.59" width="27.20" height="26.80" fill="#a81b27"/>
<rect x="3502.03" y="572.59" width="27.20" height="26.80" fill="#a81b27"/>
<rect x="3531.87" y="572.59" width="27.20" height="26.80" fill="#a81b27"/>
<rect x="3561.71" y="572.59" width="27.20" height="26.80" fill="#9d1026"/>
<rect x="3591.55" y="572.59" width="27.20" height="26.80" fill="#9d1026"/>
<rect x="3621.38" y="572.59" width="27.20" height="26.80" fill="#e26d48"/>
<rect x="3651.22" y="572.59" width="27.20" height="26.80" fill="#ba2c2a"/>
<rect x="3681.06" y="572.59" width="27.20" height="26.80" fill="#a81b27"/>
<rect x="3710.90" y="572.59" width="27.20" height="26.80" fill="#9d1026"/>
<rect x="3084.30" y="602.41" width="27.20" height="26.80" fill="#466fa5"/>
<rect x="3114.14" y="602.41" width="27.20" height="26.80" fill="#c6e3ec"/>
<rect x="3143.98" y="602.41" width="27.20" height="26.80" fill="#acd4e3"/>
<rect x="3173.81" y="602.41" width="27.20" height="26.80" fill="#acd4e3"/>
<rect x="3203.65" y="602.41" width="27.20" height="26.80" fill="#fcfdc7"/>
<rect x="3233.49" y="602.41" width="27.20" height="26.80" fill="#e0f1f6"/>
<rect x="3263.33" y="602.41" width="27.20" height="26.80" fill="#75a7c6"/>
<rect x="3293.17" y="602.41" width="27.20" height="26.80" fill="#ba2c2a"/>
<rect x="3323.00" y="602.41" width="27.20" height="26.80" fill="#e26d48"/>
<rect x="3352.84" y="602.41" width="27.20" height="26.80" fill="#a81b27"/>
<rect x="3382.68" y="602.41" width="27.20" height="26.80" fill="#e98c58"/>
<rect x="3412.52" y="602.41" width="27.20" height="26.80" fill="#a81b27"/>
<rect x="3442.36" y="602.41" width="27.20" height="26.80" fill="#a81b27"/>
<rect x="3472.19" y="602.41" width="27.20" height="26.80" fill="#ba2c2a"/>
<rect x="3502.03" y="602.41" width="27.20" height="26.80" fill="#a81b27"/>
<rect x="3531.87" y="602.41" width="27.20" height="26.80" fill="#ba2c2a"/>
<rect x="3561.71" y="602.41" width="27.20" height="26.80" fill="#a81b27"/>
<rect x="3591.55" y="602.41" width="27.20" height="26.80" fill="#ba2c2a"/>
<rect x="3621.38" y="602.41" width="27.20" height="26.80" fill="#f5c57f"/>
<rect x="3651.22" y="602.41" width="27.20" height="26.80" fill="#e26d48"/>
<rect x="3681.06" y="602.41" width="27.20" height="26.80" fill="#ba2c2a"/>
<rect x="3710.90" y="602.41" width="27.20" height="26.80" fill="#ba2c2a"/>
<rect x="3084.30" y="632.24" width="27.20" height="26.80" fill="#466fa5"/>
<rect x="3114.14" y="632.24" width="27.20" height="26.80" fill="#c6e3ec"/>
<rect x="3143.98" y="632.24" width="27.20" height="26.80" fill="#acd4e3"/>
<rect x="3173.81" y="632.24" width="27.20" height="26.80" fill="#acd4e3"/>
<rect x="3203.65" y="632.24" width="27.20" height="26.80" fill="#fcfdc7"/>
<rect x="3233.49" y="632.24" width="27.20" height="26.80" fill="#e0f1f6"/>
<rect x="3263.33" y="632.24" width="27.20" height="26.80" fill="#75a7c6"/>
<rect x="3293.17" y="632.24" width="27.20" height="26.80" fill="#e0f1f6"/>
<rect x="3323.00" y="632.24" width="27.20" height="26.80" fill="#f1ac68"/>
<rect x="3352.84" y="632.24" width="27.20" height="26.80" fill="#a81b27"/>
<rect x="3382.68" y="632.24" width="27.20" height="26.80" fill="#f1ac68"/>
<rect x="3412.52" y="632.24" width="27.20" height="26.80" fill="#a81b27"/>
<rect x="3442.36" y="632.24" width="27.20" height="26.80" fill="#a81b27"/>
<rect x="3472.19" y="632.24" width="27.20" height="26.80" fill="#ba2c2a"/>
<rect x="3502.03" y="632.24" width="27.20" height="26.80" fill="#ba2c2a"/>
<rect x="3531.87" y="632.24" width="27.20" height="26.80" fill="#d25039"/>
<rect x="3561.71" y="632.24" width="27.20" height="26.80" fill="#a81b27"/>
<rect x="3591.55" y="632.24" width="27.20" height="26.80" fill="#ba2c2a"/>
<rect x="3621.38" y="632.24" width="27.20" height="26.80" fill="#fbeeae"/>
<rect x="3651.22" y="632.24" width="27.20" height="26.80" fill="#e98c58"/>
<rect x="3681.06" y="632.24" width="27.20" height="26.80" fill="#d25039"/>
<rect x="3710.90" y="632.24" width="27.20" height="26.80" fill="#ba2c2a"/>
<rect x="3084.30" y="662.06" width="27.20" height="26.80" fill="#466fa5"/>
<rect x="3114.14" y="662.06" width="27.20" height="26.80" fill="#c6e3ec"/>
<rect x="3143.98" y="662.06" width="27.20" height="26.80" fill="#acd4e3"/>
<rect x="3173.81" y="662.06" width="27.20" height="26.80" fill="#acd4e3"/>
<rect x="3203.65" y="662.06" width="27.20" height="26.80" fill="#fcfdc7"/>
<rect x="3233.49" y="662.06" width="27.20" height="26.80" fill="#e0f1f6"/>
<rect x="3263.33" y="662.06" width="27.20" height="26.80" fill="#75a7c6"/>
<rect x="3293.17" y="662.06" width="27.20" height="26.80" fill="#e0f1f6"/>
<rect x="3323.00" y="662.06" width="27.20" height="26.80" fill="#e98c58"/>
<rect x="3352.84" y="662.06" width="27.20" height="26.80" fill="#a81b27"/>
<rect x="3382.68" y="662.06" width="27.20" height="26.80" fill="#e98c58"/>
<rect x="3412.52" y="662.06" width="27.20" height="26.80" fill="#a81b27"/>
<rect x="3442.36" y="662.06" width="27.20" height="26.80" fill="#a81b27"/>
<rect x="3472.19" y="662.06" width="27.20" height="26.80" fill="#ba2c2a"/>
<rect x="3502.03" y="662.06" width="27.20" height="26.80" fill="#d25039"/>
<rect x="3531.87" y="662.06" width="27.20" height="26.80" fill="#ba2c2a"/>
<rect x="3561.71" y="662.06" width="27.20" height="26.80" fill="#a81b27"/>
<rect x="3591.55" y="662.06" width="27.20" height="26.80" fill="#a81b27"/>
<rect x="3621.38" y="662.06" width="27.20" height="26.80" fill="#f9de96"/>
<rect x="3651.22" y="662.06" width="27.20" height="26.80" fill="#e26d48"/>
<rect x="3681.06" y="662.06" width="27.20" height="26.80" fill="#ba2c2a"/>
<rect x="3710.90" y="662.06" width="27.20" height="26.80" fill="#a81b27"/>
<rect x="3084.30" y="691.88" width="27.20" height="26.80" fill="#75a7c6"/>
<rect x="3114.14" y="691.88" width="27.20" height="26.80" fill="#e26d48"/>
<rect x="3143.98" y="691.88" width="27.20" height="26.80" fill="#e98c58"/>
<rect x="3173.81" y="691.88" width="27.20" height="26.80" fill="#f1ac68"/>
<rect x="3203.65" y="691.88" width="27.20" height="26.80" fill="#f9de96"/>
<rect x="3233.49" y="691.88" width="27.20" height="26.80" fill="#f9de96"/>
<rect x="3263.33" y="691.88" width="27.20" height="26.80" fill="#5d8bb5"/>
<rect x="3293.17" y="691.88" width="27.20" height="26.80" fill="#acd4e3"/>
<rect x="3323.00" y="691.88" width="27.20" height="26.80" fill="#75a7c6"/>
<rect x="3352.84" y="691.88" width="27.20" height="26.80" fill="#a81b27"/>
<rect x="3382.68" y="691.88" width="27.20" height="26.80" fill="#e98c58"/>
<rect x="3412.52" y="691.88" width="27.20" height="26.80" fill="#9d1026"/>
<rect x="3442.36" y="691.88" width="27.20" height="26.80" fill="#9d1026"/>
<rect x="3472.19" y="691.88" width="27.20" height="26.80" fill="#a81b27"/>
<rect x="3502.03" y="691.88" width="27.20" height="26.80" fill="#a81b27"/>
<rect x="3531.87" y="691.88" width="27.20" height="26.80" fill="#a81b27"/>
<rect x="3561.71" y="691.88" width="27.20" height="26.80" fill="#e98c58"/>
<rect x="3591.55" y="691.88" width="27.20" height="26.80" fill="#f9de96"/>
<rect x="3621.38" y="691.88" width="27.20" height="26.80" fill="#acd4e3"/>
<rect x="3651.22" y="691.88" width="27.20" height="26.80" fill="#91bdd4"/>
<rect x="3681.06" y="691.88" width="27.20" height="26.80" fill="#acd4e3"/>
<rect x="3710.90" y="691.88" width="27.20" height="26.80" fill="#c6e3ec"/>
<rect x="3084.30" y="721.71" width="27.20" height="26.80" fill="#75a7c6"/>
<rect x="3114.14" y="721.71" width="27.20" height="26.80" fill="#e26d48"/>
<rect x="3143.98" y="721.71" width="27.20" height="26.80" fill="#f1ac68"/>
<rect x="3173.81" y="721.71" width="27.20" height="26.80" fill="#f1ac68"/>
<rect x="3203.65" y="721.71" width="27.20" height="26.80" fill="#f5c57f"/>
<rect x="3233.49" y="721.71" width="27.20" height="26.80" fill="#f5c57f"/>
<rect x="3263.33" y="721.71" width="27.20" height="26.80" fill="#75a7c6"/>
<rect x="3293.17" y="721.71" width="27.20" height="26.80" fill="#acd4e3"/>
<rect x="3323.00" y="721.71" width="27.20" height="26.80" fill="#acd4e3"/>
<rect x="3352.84" y="721.71" width="27.20" height="26.80" fill="#a81b27"/>
<rect x="3382.68" y="721.71" width="27.20" height="26.80" fill="#f1ac68"/>
<rect x="3412.52" y="721.71" width="27.20" height="26.80" fill="#9d1026"/>
<rect x="3442.36" y="721.71" width="27.20" height="26.80" fill="#9d1026"/>
<rect x="3472.19" y="721.71" width="27.20" height="26.80" fill="#a81b27"/>
<rect x="3502.03" y="721.71" width="27.20" height="26.80" fill="#a81b27"/>
<rect x="3531.87" y="721.71" width="27.20" height="26.80" fill="#a81b27"/>
<rect x="3561.71" y="721.71" width="27.20" height="26.80" fill="#fbeeae"/>
<rect x="3591.55" y="721.71" width="27.20" height="26.80" fill="#a81b27"/>
<rect x="3621.38" y="721.71" width="27.20" height="26.80" fill="#fcfdc7"/>
<rect x="3651.22" y="721.71" width="27.20" height="26.80" fill="#e0f1f6"/>
<rect x="3681.06" y="721.71" width="27.20" height="26.80" fill="#eff7dd"/>
<rect x="3710.90" y="721.71" width="27.20" height="26.80" fill="#eff7dd"/>
<rect x="3084.30" y="751.53" width="27.20" height="26.80" fill="#acd4e3"/>
<rect x="3114.14" y="751.53" width="27.20" height="26.80" fill="#fbeeae"/>
<rect x="3143.98" y="751.53" width="27.20" height="26.80" fill="#c6e3ec"/>
<rect x="3173.81" y="751.53" width="27.20" height="26.80" fill="#eff7dd"/>
<rect x="3203.65" y="751.53" width="27.20" height="26.80" fill="#e0f1f6"/>
<rect x="3233.49" y="751.53" width="27.20" height="26.80" fill="#fcfdc7"/>
<rect x="3263.33" y="751.53" width="27.20" height="26.80" fill="#466fa5"/>
<rect x="3293.17" y="751.53" width="27.20" height="26.80" fill="#e0f1f6"/>
<rect x="3323.00" y="751.53" width="27.20" height="26.80" fill="#2f3484"/>
<rect x="3352.84" y="751.53" width="27.20" height="26.80" fill="#f1ac68"/>
<rect x="3382.68" y="751.53" width="27.20" height="26.80" fill="#f9de96"/>
<rect x="3412.52" y="751.53" width="27.20" height="26.80" fill="#e26d48"/>
<rect x="3442.36" y="751.53" width="27.20" height="26.80" fill="#e26d48"/>
<rect x="3472.19" y="751.53" width="27.20" height="26.80" fill="#f5c57f"/>
<rect x="3502.03" y="751.53" width="27.20" height="26.80" fill="#fcfdc7"/>
<rect x="3531.87" y="751.53" width="27.20" height="26.80" fill="#fbeeae"/>
<rect x="3561.71" y="751.53" width="27.20" height="26.80" fill="#acd4e3"/>
<rect x="3591.55" y="751.53" width="27.20" height="26.80" fill="#fcfdc7"/>
<rect x="3621.38" y="751.53" width="27.20" height="26.80" fill="#f5c57f"/>
<rect x="3651.22" y="751.53" width="27.20" height="26.80" fill="#e0f1f6"/>
<rect x="3681.06" y="751.53" width="27.20" height="26.80" fill="#f5c57f"/>
<rect x="3710.90" y="751.53" width="27.20" height="26.80" fill="#e0f1f6"/>
<rect x="3084.30" y="781.36" width="27.20" height="26.80" fill="#466fa5"/>
<rect x="3114.14" y="781.36" width="27.20" height="26.80" fill="#c6e3ec"/>
<rect x="3143.98" y="781.36" width="27.20" height="26.80" fill="#acd4e3"/>
<rect x="3173.81" y="781.36" width="27.20" height="26.80" fill="#acd4e3"/>
<rect x="3203.65" y="781.36" width="27.20" height="26.80" fill="#fcfdc7"/>
<rect x="3233.49" y="781.36" width="27.20" height="26.80" fill="#e0f1f6"/>
<rect x="3263.33" y="781.36" width="27.20" height="26.80" fill="#75a7c6"/>
<rect x="3293.17" y="781.36" width="27.20" height="26.80" fill="#e0f1f6"/>
<rect x="3323.00" y="781.36" width="27.20" height="26.80" fill="#5d8bb5"/>
<rect x="3352.84" y="781.36" width="27.20" height="26.80" fill="#d25039"/>
<rect x="3382.68" y="781.36" width="27.20" height="26.80" fill="#f1ac68"/>
<rect x="3412.52" y="781.36" width="27.20" height="26.80" fill="#ba2c2a"/>
<rect x="3442.36" y="781.36" width="27.20" height="26.80" fill="#ba2c2a"/>
<rect x="3472.19" y="781.36" width="27.20" height="26.80" fill="#e26d48"/>
<rect x="3502.03" y="781.36" width="27.20" height="26.80" fill="#e98c58"/>
<rect x="3531.87" y="781.36" width="27.20" height="26.80" fill="#e26d48"/>
<rect x="3561.71" y="781.36" width="27.20" height="26.80" fill="#91bdd4"/>
<rect x="3591.55" y="781.36" width="27.20" height="26.80" fill="#e0f1f6"/>
<rect x="3621.38" y="781.36" width="27.20" height="26.80" fill="#e0f1f6"/>
<rect x="3651.22" y="781.36" width="27.20" height="26.80" fill="#ba2c2a"/>
<rect x="3681.06" y="781.36" width="27.20" height="26.80" fill="#e26d48"/>
<rect x="3710.90" y="781.36" width="27.20" height="26.80" fill="#fcfdc7"/>
<rect x="3084.30" y="811.18" width="27.20" height="26.80" fill="#466fa5"/>
<rect x="3114.14" y="811.18" width="27.20" height="26.80" fill="#c6e3ec"/>
<rect x="3143.98" y="811.18" width="27.20" height="26.80" fill="#acd4e3"/>
<rect x="3173.81" y="811.18" width="27.20" height="26.80" fill="#acd4e3"/>
<rect x="3203.65" y="811.18" width="27.20" height="26.80" fill="#fcfdc7"/>
<rect x="3233.49" y="811.18" width="27.20" height="26.80" fill="#e0f1f6"/>
<rect x="3263.33" y="811.18" width="27.20" height="26.80" fill="#75a7c6"/>
<rect x="3293.17" y="811.18" width="27.20" height="26.80" fill="#e0f1f6"/>
<rect x="3323.00" y="811.18" width="27.20" height="26.80" fill="#5d8bb5"/>
<rect x="3352.84" y="811.18" width="27.20" height="26.80" fill="#ba2c2a"/>
<rect x="3382.68" y="811.18" width="27.20" height="26.80" fill="#f1ac68"/>
<rect x="3412.52" y="811.18" width="27.20" height="26.80" fill="#a81b27"/>
<rect x="3442.36" y="811.18" width="27.20" height="26.80" fill="#a81b27"/>
<rect x="3472.19" y="811.18" width="27.20" height="26.80" fill="#ba2c2a"/>
<rect x="3502.03" y="811.18" width="27.20" height="26.80" fill="#d25039"/>
<rect x="3531.87" y="811.18" width="27.20" height="26.80" fill="#ba2c2a"/>
<rect x="3561.71" y="811.18" width="27.20" height="26.80" fill="#acd4e3"/>
<rect x="3591.55" y="811.18" width="27.20" height="26.80" fill="#eff7dd"/>
<rect x="3621.38" y="811.18" width="27.20" height="26.80" fill="#f5c57f"/>
<rect x="3651.22" y="811.18" width="27.20" height="26.80" fill="#e26d48"/>
<rect x="3681.06" y="811.18" width="27.20" height="26.80" fill="#ba2c2a"/>
<rect x="3710.90" y="811.18" width="27.20" height="26.80" fill="#ba2c2a"/>
<rect x="3084.30" y="841.00" width="27.20" height="26.80" fill="#466fa5"/>
<rect x="3114.14" y="841.00" width="27.20" height="26.80" fill="#e0f1f6"/>
<rect x="3143.98" y="841.00" width="27.20" height="26.80" fill="#c6e3ec"/>
<rect x="3173.81" y="841.00" width="27.20" height="26.80" fill="#c6e3ec"/>
<rect x="3203.65" y="841.00" width="27.20" height="26.80" fill="#fcfdc7"/>
<rect x="3233.49" y="841.00" width="27.20" height="26.80" fill="#e0f1f6"/>
<rect x="3263.33" y="841.00" width="27.20" height="26.80" fill="#acd4e3"/>
<rect x="3293.17" y="841.00" width="27.20" height="26.80" fill="#e0f1f6"/>
<rect x="3323.00" y="841.00" width="27.20" height="26.80" fill="#75a7c6"/>
<rect x="3352.84" y="841.00" width="27.20" height="26.80" fill="#a81b27"/>
<rect x="3382.68" y="841.00" width="27.20" height="26.80" fill="#e26d48"/>
<rect x="3412.52" y="841.00" width="27.20" height="26.80" fill="#9d1026"/>
<rect x="3442.36" y="841.00" width="27.20" height="26.80" fill="#9d1026"/>
<rect x="3472.19" y="841.00" width="27.20" height="26.80" fill="#ba2c2a"/>
<rect x="3502.03" y="841.00" width="27.20" height="26.80" fill="#d25039"/>
<rect x="3531.87" y="841.00" width="27.20" height="26.80" fill="#a81b27"/>
<rect x="3561.71" y="841.00" width="27.20" height="26.80" fill="#c6e3ec"/>
<rect x="3591.55" y="841.00" width="27.20" height="26.80" fill="#eff7dd"/>
<rect x="3621.38" y="841.00" width="27.20" height="26.80" fill="#e0f1f6"/>
<rect x="3651.22" y="841.00" width="27.20" height="26.80" fill="#fcfdc7"/>
<rect x="3681.06" y="841.00" width="27.20" height="26.80" fill="#ba2c2a"/>
<rect x="3710.90" y="841.00" width="27.20" height="26.80" fill="#f1ac68"/>
<line x1="3740.60" x2="3749.10" y1="199.90" y2="199.90" stroke="#444" stroke-width="1.6"/>
<text x="3753.70" y="205.27" font-size="15" fill="#3a3a3a" text-anchor="start" stroke="#3a3a3a" stroke-width="0.2">Cluster</text>
<line x1="3740.60" x2="3749.10" y1="228.10" y2="228.10" stroke="#444" stroke-width="1.6"/>
<text x="3753.70" y="233.47" font-size="15" fill="#3a3a3a" text-anchor="start" stroke="#3a3a3a" stroke-width="0.2">Col1</text>
<line x1="3740.60" x2="3749.10" y1="257.92" y2="257.92" stroke="#444" stroke-width="1.6"/>
<text x="3753.70" y="263.29" font-size="15" fill="#3a3a3a" text-anchor="start" stroke="#3a3a3a" stroke-width="0.2">CD44</text>
<line x1="3740.60" x2="3749.10" y1="287.75" y2="287.75" stroke="#444" stroke-width="1.6"/>
<text x="3753.70" y="293.12" font-size="15" fill="#3a3a3a" text-anchor="start" stroke="#3a3a3a" stroke-width="0.2">CD20</text>
<line x1="3740.60" x2="3749.10" y1="317.57" y2="317.57" stroke="#444" stroke-width="1.6"/>
<text x="3753.70" y="322.94" font-size="15" fill="#3a3a3a" text-anchor="start" stroke="#3a3a3a" stroke-width="0.2">CD4</text>
<line x1="3740.60" x2="3749.10" y1="347.40" y2="347.40" stroke="#444" stroke-width="1.6"/>
<text x="3753.70" y="352.77" font-size="15" fill="#3a3a3a" text-anchor="start" stroke="#3a3a3a" stroke-width="0.2">CD3</text>
<line x1="3740.60" x2="3749.10" y1="377.22" y2="377.22" stroke="#444" stroke-width="1.6"/>
<text x="3753.70" y="382.59" font-size="15" fill="#3a3a3a" text-anchor="start" stroke="#3a3a3a" stroke-width="0.2">CD8a</text>
<line x1="3740.60" x2="3749.10" y1="407.04" y2="407.04" stroke="#444" stroke-width="1.6"/>
<text x="3753.70" y="412.41" font-size="15" fill="#3a3a3a" text-anchor="start" stroke="#3a3a3a" stroke-width="0.2">ECadherin</text>
<line x1="3740.60" x2="3749.10" y1="436.87" y2="436.87" stroke="#444" stroke-width="1.6"/>
<text x="3753.70" y="442.24" font-size="15" fill="#3a3a3a" text-anchor="start" stroke="#3a3a3a" stroke-width="0.2">GranzymeB</text>
<line x1="3740.60" x2="3749.10" y1="466.69" y2="466.69" stroke="#444" stroke-width="1.6"/>
<text x="3753.70" y="472.06" font-size="15" fill="#3a3a3a" text-anchor="start" stroke="#3a3a3a" stroke-width="0.2">PanKeratin</text>
<line x1="3740.60" x2="3749.10" y1="496.52" y2="496.52" stroke="#444" stroke-width="1.6"/>
<text x="3753.70" y="501.89" font-size="15" fill="#3a3a3a" text-anchor="start" stroke="#3a3a3a" stroke-width="0.2">CD45RO</text>
<line x1="3740.60" x2="3749.10" y1="526.34" y2="526.34" stroke="#444" stroke-width="1.6"/>
<text x="3753.70" y="531.71" font-size="15" fill="#3a3a3a" text-anchor="start" stroke="#3a3a3a" stroke-width="0.2">CD68</text>
<line x1="3740.60" x2="3749.10" y1="556.16" y2="556.16" stroke="#444" stroke-width="1.6"/>
<text x="3753.70" y="561.53" font-size="15" fill="#3a3a3a" text-anchor="start" stroke="#3a3a3a" stroke-width="0.2">DNA1</text>
<line x1="3740.60" x2="3749.10" y1="585.99" y2="585.99" stroke="#444" stroke-width="1.6"/>
<text x="3753.70" y="591.36" font-size="15" fill="#3a3a3a" text-anchor="start" stroke="#3a3a3a" stroke-width="0.2">DNA2</text>
<line x1="3740.60" x2="3749.10" y1="615.81" y2="615.81" stroke="#444" stroke-width="1.6"/>
<text x="3753.70" y="621.18" font-size="15" fill="#3a3a3a" text-anchor="start" stroke="#3a3a3a" stroke-width="0.2">FoxP3</text>
<line x1="3740.60" x2="3749.10" y1="645.64" y2="645.64" stroke="#444" stroke-width="1.6"/>
<text x="3753.70" y="651.01" font-size="15" fill="#3a3a3a" text-anchor="start" stroke="#3a3a3a" stroke-width="0.2">H3K9me3</text>
<line x1="3740.60" x2="3749.10" y1="675.46" y2="675.46" stroke="#444" stroke-width="1.6"/>
<text x="3753.70" y="680.83" font-size="15" fill="#3a3a3a" text-anchor="start" stroke="#3a3a3a" stroke-width="0.2">Histone3</text>
<line x1="3740.60" x2="3749.10" y1="705.28" y2="705.28" stroke="#444" stroke-width="1.6"/>
<text x="3753.70" y="710.65" font-size="15" fill="#3a3a3a" text-anchor="start" stroke="#3a3a3a" stroke-width="0.2">Ki67</text>
<line x1="3740.60" x2="3749.10" y1="735.11" y2="735.11" stroke="#444" stroke-width="1.6"/>
<text x="3753.70" y="740.48" font-size="15" fill="#3a3a3a" text-anchor="start" stroke="#3a3a3a" stroke-width="0.2">MHCII</text>
<line x1="3740.60" x2="3749.10" y1="764.93" y2="764.93" stroke="#444" stroke-width="1.6"/>
<text x="3753.70" y="770.30" font-size="15" fill="#3a3a3a" text-anchor="start" stroke="#3a3a3a" stroke-width="0.2">SMA</text>
<line x1="3740.60" x2="3749.10" y1="794.76" y2="794.76" stroke="#444" stroke-width="1.6"/>
<text x="3753.70" y="800.13" font-size="15" fill="#3a3a3a" text-anchor="start" stroke="#3a3a3a" stroke-width="0.2">Vimentin</text>
<line x1="3740.60" x2="3749.10" y1="824.58" y2="824.58" stroke="#444" stroke-width="1.6"/>
<text x="3753.70" y="829.95" font-size="15" fill="#3a3a3a" text-anchor="start" stroke="#3a3a3a" stroke-width="0.2">PD1</text>
<line x1="3740.60" x2="3749.10" y1="854.40" y2="854.40" stroke="#444" stroke-width="1.6"/>
<text x="3753.70" y="859.77" font-size="15" fill="#3a3a3a" text-anchor="start" stroke="#3a3a3a" stroke-width="0.2">PDL1</text>
<text transform="translate(3075.18,885.80) rotate(-90)" font-size="14.6" fill="#3a3a3a" text-anchor="end" stroke="#3a3a3a" stroke-width="0.2">Cluster</text>
<text transform="translate(3103.13,885.80) rotate(-90)" font-size="14.6" fill="#3a3a3a" text-anchor="end" stroke="#3a3a3a" stroke-width="0.2">Col1</text>
<text transform="translate(3132.96,885.80) rotate(-90)" font-size="14.6" fill="#3a3a3a" text-anchor="end" stroke="#3a3a3a" stroke-width="0.2">CD44</text>
<text transform="translate(3162.80,885.80) rotate(-90)" font-size="14.6" fill="#3a3a3a" text-anchor="end" stroke="#3a3a3a" stroke-width="0.2">CD20</text>
<text transform="translate(3192.64,885.80) rotate(-90)" font-size="14.6" fill="#3a3a3a" text-anchor="end" stroke="#3a3a3a" stroke-width="0.2">CD4</text>
<text transform="translate(3222.48,885.80) rotate(-90)" font-size="14.6" fill="#3a3a3a" text-anchor="end" stroke="#3a3a3a" stroke-width="0.2">CD3</text>
<text transform="translate(3252.32,885.80) rotate(-90)" font-size="14.6" fill="#3a3a3a" text-anchor="end" stroke="#3a3a3a" stroke-width="0.2">CD8a</text>
<text transform="translate(3282.15,885.80) rotate(-90)" font-size="14.6" fill="#3a3a3a" text-anchor="end" stroke="#3a3a3a" stroke-width="0.2">ECadherin</text>
<text transform="translate(3311.99,885.80) rotate(-90)" font-size="14.6" fill="#3a3a3a" text-anchor="end" stroke="#3a3a3a" stroke-width="0.2">GranzymeB</text>
<text transform="translate(3341.83,885.80) rotate(-90)" font-size="14.6" fill="#3a3a3a" text-anchor="end" stroke="#3a3a3a" stroke-width="0.2">PanKeratin</text>
<text transform="translate(3371.67,885.80) rotate(-90)" font-size="14.6" fill="#3a3a3a" text-anchor="end" stroke="#3a3a3a" stroke-width="0.2">CD45RO</text>
<text transform="translate(3401.51,885.80) rotate(-90)" font-size="14.6" fill="#3a3a3a" text-anchor="end" stroke="#3a3a3a" stroke-width="0.2">CD68</text>
<text transform="translate(3431.34,885.80) rotate(-90)" font-size="14.6" fill="#3a3a3a" text-anchor="end" stroke="#3a3a3a" stroke-width="0.2">DNA1</text>
<text transform="translate(3461.18,885.80) rotate(-90)" font-size="14.6" fill="#3a3a3a" text-anchor="end" stroke="#3a3a3a" stroke-width="0.2">DNA2</text>
<text transform="translate(3491.02,885.80) rotate(-90)" font-size="14.6" fill="#3a3a3a" text-anchor="end" stroke="#3a3a3a" stroke-width="0.2">FoxP3</text>
<text transform="translate(3520.86,885.80) rotate(-90)" font-size="14.6" fill="#3a3a3a" text-anchor="end" stroke="#3a3a3a" stroke-width="0.2">H3K9me3</text>
<text transform="translate(3550.70,885.80) rotate(-90)" font-size="14.6" fill="#3a3a3a" text-anchor="end" stroke="#3a3a3a" stroke-width="0.2">Histone3</text>
<text transform="translate(3580.53,885.80) rotate(-90)" font-size="14.6" fill="#3a3a3a" text-anchor="end" stroke="#3a3a3a" stroke-width="0.2">Ki67</text>
<text transform="translate(3610.37,885.80) rotate(-90)" font-size="14.6" fill="#3a3a3a" text-anchor="end" stroke="#3a3a3a" stroke-width="0.2">MHCII</text>
<text transform="translate(3640.21,885.80) rotate(-90)" font-size="14.6" fill="#3a3a3a" text-anchor="end" stroke="#3a3a3a" stroke-width="0.2">SMA</text>
<text transform="translate(3670.05,885.80) rotate(-90)" font-size="14.6" fill="#3a3a3a" text-anchor="end" stroke="#3a3a3a" stroke-width="0.2">Vimentin</text>
<text transform="translate(3699.89,885.80) rotate(-90)" font-size="14.6" fill="#3a3a3a" text-anchor="end" stroke="#3a3a3a" stroke-width="0.2">PD1</text>
<text transform="translate(3729.72,885.80) rotate(-90)" font-size="14.6" fill="#3a3a3a" text-anchor="end" stroke="#3a3a3a" stroke-width="0.2">PDL1</text>
<linearGradient id="dt2g" x1="0" y1="1" x2="0" y2="0"><stop offset="0.0" stop-color="#900525"/><stop offset="0.05" stop-color="#a81b27"/><stop offset="0.1" stop-color="#c1322b"/><stop offset="0.15" stop-color="#d24f39"/><stop offset="0.2" stop-color="#e26d48"/><stop offset="0.25" stop-color="#e98c58"/><stop offset="0.3" stop-color="#f1ac68"/><stop offset="0.35" stop-color="#f5c57f"/><stop offset="0.4" stop-color="#f9de96"/><stop offset="0.45" stop-color="#fbeeae"/><stop offset="0.5" stop-color="#fefec4"/><stop offset="0.55" stop-color="#eff7dd"/><stop offset="0.6" stop-color="#e0f1f6"/><stop offset="0.65" stop-color="#c6e3ec"/><stop offset="0.7" stop-color="#acd4e3"/><stop offset="0.75" stop-color="#91bdd4"/><stop offset="0.8" stop-color="#75a7c6"/><stop offset="0.85" stop-color="#5d8bb5"/><stop offset="0.9" stop-color="#466fa5"/><stop offset="0.95" stop-color="#3b5294"/><stop offset="1.0" stop-color="#2f3484"/></linearGradient>
<rect x="2918.7" y="343.1" width="28.8" height="439.4" fill="url(#dt2g)"/>
<line x1="2947.50" x2="2956.50" y1="782.50" y2="782.50" stroke="#444" stroke-width="1.6"/>
<text x="2960.50" y="787.87" font-size="15" fill="#3a3a3a" text-anchor="start" stroke="#3a3a3a" stroke-width="0.2">0.0</text>
<line x1="2947.50" x2="2956.50" y1="694.62" y2="694.62" stroke="#444" stroke-width="1.6"/>
<text x="2960.50" y="699.99" font-size="15" fill="#3a3a3a" text-anchor="start" stroke="#3a3a3a" stroke-width="0.2">0.2</text>
<line x1="2947.50" x2="2956.50" y1="606.74" y2="606.74" stroke="#444" stroke-width="1.6"/>
<text x="2960.50" y="612.11" font-size="15" fill="#3a3a3a" text-anchor="start" stroke="#3a3a3a" stroke-width="0.2">0.4</text>
<line x1="2947.50" x2="2956.50" y1="518.86" y2="518.86" stroke="#444" stroke-width="1.6"/>
<text x="2960.50" y="524.23" font-size="15" fill="#3a3a3a" text-anchor="start" stroke="#3a3a3a" stroke-width="0.2">0.6</text>
<line x1="2947.50" x2="2956.50" y1="430.98" y2="430.98" stroke="#444" stroke-width="1.6"/>
<text x="2960.50" y="436.35" font-size="15" fill="#3a3a3a" text-anchor="start" stroke="#3a3a3a" stroke-width="0.2">0.8</text>
<line x1="2947.50" x2="2956.50" y1="343.10" y2="343.10" stroke="#444" stroke-width="1.6"/>
<text x="2960.50" y="348.47" font-size="15" fill="#3a3a3a" text-anchor="start" stroke="#3a3a3a" stroke-width="0.2">1.0</text>
<text transform="translate(3008.54,566.20) rotate(-90)" font-size="27.5" fill="#222" text-anchor="middle" >Distance</text>
<text transform="translate(3860.44,545.70) rotate(-90)" font-size="27.5" fill="#222" text-anchor="middle" >Marker</text>
<text x="3369.50" y="987.20" font-size="27.5" fill="#222" text-anchor="start" >Marker</text>
<text x="3386.20" y="66.20" font-size="82" fill="#000" letter-spacing="-2.8">DT2</text>
<rect x="3024.6" y="89.5" width="775.4" height="26.4" rx="3" fill="#eaeaf0" stroke="#dcdce2" stroke-width="1.2"/>
<rect x="3030.70" y="95.60" width="30" height="9.5" fill="#f0a038"/>
<text x="3072.20" y="107.27" font-size="15" fill="#2a2a2a" text-anchor="start" stroke="#2a2a2a" stroke-width="0.3">Cluster 1</text>
<rect x="3162.70" y="95.60" width="30" height="9.5" fill="#6cf044"/>
<text x="3204.20" y="107.27" font-size="15" fill="#2a2a2a" text-anchor="start" stroke="#2a2a2a" stroke-width="0.3">Cluster 2</text>
<rect x="3294.70" y="95.60" width="30" height="9.5" fill="#0a22f0"/>
<text x="3336.20" y="107.27" font-size="15" fill="#2a2a2a" text-anchor="start" stroke="#2a2a2a" stroke-width="0.3">Cluster 3</text>
<rect x="3426.70" y="95.60" width="30" height="9.5" fill="#e83424"/>
<text x="3468.20" y="107.27" font-size="15" fill="#2a2a2a" text-anchor="start" stroke="#2a2a2a" stroke-width="0.3">Cluster 4</text>
<rect x="3558.70" y="95.60" width="30" height="9.5" fill="#3e0e8a"/>
<text x="3600.20" y="107.27" font-size="15" fill="#2a2a2a" text-anchor="start" stroke="#2a2a2a" stroke-width="0.3">Cluster 5</text>
<rect x="3690.70" y="95.60" width="30" height="9.5" fill="#7ccaa4"/>
<text x="3732.20" y="107.27" font-size="15" fill="#2a2a2a" text-anchor="start" stroke="#2a2a2a" stroke-width="0.3">Cluster 6</text>
</g>
</svg></body></html>
